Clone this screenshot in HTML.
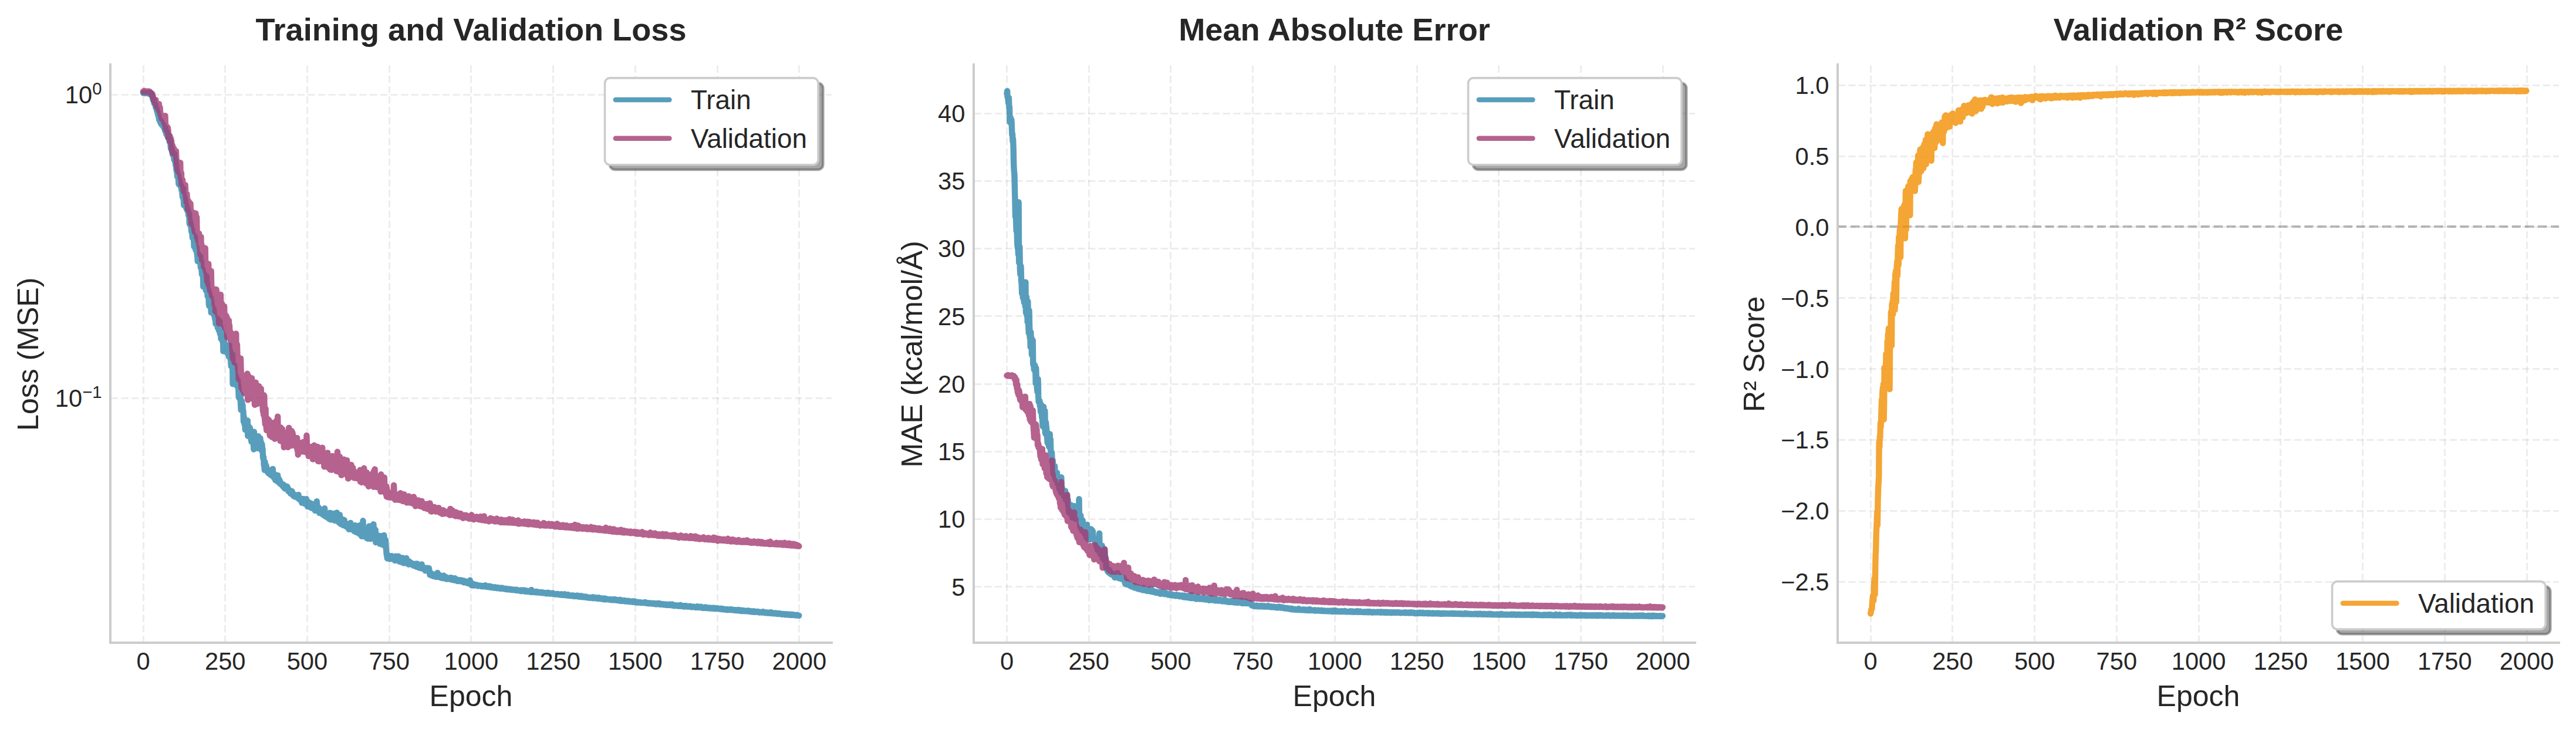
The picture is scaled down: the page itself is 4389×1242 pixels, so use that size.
<!DOCTYPE html>
<html><head><meta charset="utf-8"><title>Training curves</title>
<style>html,body{margin:0;padding:0;background:#fff}svg{display:block}</style></head>
<body>
<svg width="4389" height="1242" viewBox="0 0 4389 1242" font-family='"Liberation Sans", "DejaVu Sans", sans-serif' fill="#262626">
<rect width="4389" height="1242" fill="#ffffff"/>
<g stroke="#b0b0b0" stroke-opacity="0.228" stroke-width="3" stroke-dasharray="12.33 5.33" fill="none">
<path d="M244.50 1095.0V110.0"/>
<path d="M383.50 1095.0V110.0"/>
<path d="M523.50 1095.0V110.0"/>
<path d="M663.50 1095.0V110.0"/>
<path d="M802.50 1095.0V110.0"/>
<path d="M942.50 1095.0V110.0"/>
<path d="M1082.50 1095.0V110.0"/>
<path d="M1222.50 1095.0V110.0"/>
<path d="M1361.50 1095.0V110.0"/>
<path d="M188.70 161.50H1417.00"/>
<path d="M188.70 678.50H1417.00"/>
</g>
<g stroke="#b0b0b0" stroke-opacity="0.228" stroke-width="3" stroke-dasharray="12.33 5.33" fill="none">
<path d="M1715.50 1095.0V110.0"/>
<path d="M1855.50 1095.0V110.0"/>
<path d="M1994.50 1095.0V110.0"/>
<path d="M2134.50 1095.0V110.0"/>
<path d="M2274.50 1095.0V110.0"/>
<path d="M2414.50 1095.0V110.0"/>
<path d="M2553.50 1095.0V110.0"/>
<path d="M2693.50 1095.0V110.0"/>
<path d="M2833.50 1095.0V110.0"/>
<path d="M1659.70 193.50H2888.00"/>
<path d="M1659.70 308.50H2888.00"/>
<path d="M1659.70 423.50H2888.00"/>
<path d="M1659.70 538.50H2888.00"/>
<path d="M1659.70 654.50H2888.00"/>
<path d="M1659.70 769.50H2888.00"/>
<path d="M1659.70 884.50H2888.00"/>
<path d="M1659.70 999.50H2888.00"/>
</g>
<g stroke="#b0b0b0" stroke-opacity="0.228" stroke-width="3" stroke-dasharray="12.33 5.33" fill="none">
<path d="M3187.50 1095.0V110.0"/>
<path d="M3326.50 1095.0V110.0"/>
<path d="M3466.50 1095.0V110.0"/>
<path d="M3606.50 1095.0V110.0"/>
<path d="M3746.50 1095.0V110.0"/>
<path d="M3885.50 1095.0V110.0"/>
<path d="M4025.50 1095.0V110.0"/>
<path d="M4165.50 1095.0V110.0"/>
<path d="M4305.50 1095.0V110.0"/>
<path d="M3131.70 145.50H4360.00"/>
<path d="M3131.70 266.50H4360.00"/>
<path d="M3131.70 386.50H4360.00"/>
<path d="M3131.70 507.50H4360.00"/>
<path d="M3131.70 628.50H4360.00"/>
<path d="M3131.70 749.50H4360.00"/>
<path d="M3131.70 870.50H4360.00"/>
<path d="M3131.70 991.50H4360.00"/>
</g>
<path d="M3131.0 386.0H4360.00" stroke="#767676" stroke-opacity="0.5" stroke-width="4.0" stroke-dasharray="15.42 6.67" fill="none"/>
<polyline points="244.0,158.5 244.6,158.6 245.1,158.5 245.7,158.0 246.3,158.8 246.8,158.7 247.4,158.3 247.9,158.8 248.5,158.7 249.1,158.7 249.6,158.6 250.2,158.9 250.7,158.2 251.3,158.6 251.8,158.4 252.4,159.1 253.0,158.7 253.5,158.5 254.1,158.1 254.6,158.6 255.2,158.8 255.8,158.9 256.3,160.9 256.9,161.4 257.4,158.5 258.0,159.9 258.6,162.3 259.1,162.9 259.7,165.1 260.2,166.7 260.8,170.4 261.3,168.2 261.9,170.6 262.5,175.4 263.0,175.5 263.6,177.4 264.1,177.7 264.7,177.9 265.3,182.3 265.8,184.1 266.4,183.9 266.9,186.6 267.5,189.4 268.1,189.8 268.6,193.1 269.2,195.3 269.7,197.2 270.3,198.1 270.8,202.0 271.4,204.5 272.0,205.4 272.5,204.2 273.1,208.2 273.6,206.6 274.2,210.4 274.8,207.2 275.3,212.3 275.9,211.3 276.4,209.4 277.0,212.4 277.6,214.2 278.1,215.6 278.7,213.6 279.2,214.4 279.8,218.7 280.3,218.1 280.9,221.0 281.5,223.5 282.0,218.3 282.6,224.4 283.1,228.2 283.7,225.2 284.3,225.0 284.8,230.7 285.4,230.7 285.9,234.0 286.5,231.8 287.1,229.8 287.6,235.3 288.2,235.6 288.7,241.3 289.3,242.4 289.8,239.4 290.4,243.5 291.0,252.5 291.5,253.8 292.1,251.3 292.6,255.2 293.2,258.6 293.8,260.5 294.3,263.8 294.9,263.5 295.4,264.2 296.0,265.4 296.6,272.0 297.1,261.9 297.7,272.1 298.2,275.5 298.8,272.8 299.4,282.2 299.9,281.2 300.5,289.9 301.0,288.8 301.6,294.8 302.1,300.8 302.7,301.5 303.3,300.2 303.8,298.8 304.4,313.6 304.9,307.1 305.5,306.0 306.1,310.8 306.6,310.7 307.2,317.1 307.7,315.8 308.3,317.9 308.9,316.9 309.4,324.4 310.0,319.9 310.5,329.8 311.1,336.0 311.6,324.2 312.2,322.0 312.8,338.5 313.3,349.6 313.9,334.8 314.4,335.6 315.0,346.4 315.6,341.5 316.1,345.1 316.7,347.9 317.2,354.3 317.8,351.6 318.4,357.0 318.9,357.0 319.5,355.7 320.0,360.7 320.6,359.6 321.1,366.8 321.7,363.1 322.3,365.5 322.8,381.3 323.4,375.4 323.9,377.8 324.5,384.2 325.1,382.4 325.6,386.7 326.2,393.7 326.7,396.2 327.3,391.3 327.9,405.3 328.4,399.2 329.0,398.5 329.5,401.3 330.1,406.3 330.6,420.1 331.2,405.6 331.8,415.4 332.3,403.7 332.9,418.4 333.4,425.9 334.0,421.0 334.6,420.7 335.1,428.0 335.7,433.0 336.2,434.9 336.8,445.2 337.4,436.2 337.9,433.2 338.5,438.2 339.0,440.7 339.6,443.9 340.2,444.7 340.7,447.7 341.3,437.3 341.8,455.4 342.4,447.7 342.9,446.0 343.5,460.6 344.1,467.7 344.6,464.6 345.2,464.8 345.7,459.8 346.3,488.4 346.9,477.2 347.4,465.6 348.0,470.2 348.5,478.4 349.1,468.8 349.7,483.1 350.2,480.7 350.8,494.8 351.3,495.0 351.9,470.6 352.4,492.6 353.0,482.6 353.6,504.5 354.1,499.6 354.7,504.4 355.2,494.6 355.8,517.9 356.4,521.3 356.9,500.6 357.5,513.3 358.0,507.5 358.6,514.4 359.2,507.1 359.7,532.6 360.3,513.6 360.8,520.9 361.4,529.1 361.9,522.7 362.5,528.0 363.1,527.7 363.6,533.2 364.2,527.5 364.7,535.3 365.3,538.9 365.9,539.3 366.4,543.7 367.0,542.4 367.5,551.9 368.1,544.9 368.7,547.8 369.2,545.1 369.8,547.5 370.3,543.1 370.9,558.5 371.4,546.8 372.0,551.3 372.6,561.5 373.1,563.2 373.7,558.2 374.2,547.2 374.8,568.5 375.4,569.1 375.9,557.7 376.5,577.1 377.0,567.2 377.6,565.7 378.2,577.4 378.7,577.1 379.3,582.1 379.8,569.4 380.4,598.5 381.0,579.9 381.5,573.4 382.1,592.1 382.6,585.2 383.2,591.9 383.7,587.5 384.3,591.0 384.9,594.6 385.4,587.4 386.0,600.4 386.5,591.9 387.1,589.6 387.7,598.7 388.2,602.9 388.8,598.3 389.3,594.0 389.9,607.7 390.5,588.6 391.0,596.5 391.6,607.8 392.1,598.0 392.7,612.1 393.2,613.6 393.8,624.0 394.4,610.6 394.9,615.3 395.5,625.8 396.0,603.9 396.6,654.2 397.2,623.3 397.7,625.1 398.3,641.1 398.8,635.3 399.4,622.1 400.0,645.3 400.5,649.4 401.1,640.0 401.6,643.6 402.2,652.4 402.7,642.6 403.3,656.8 403.9,657.1 404.4,651.9 405.0,648.1 405.5,660.6 406.1,657.4 406.7,676.0 407.2,671.0 407.8,678.7 408.3,675.4 408.9,678.7 409.5,672.0 410.0,686.7 410.6,698.4 411.1,682.8 411.7,682.6 412.2,688.6 412.8,688.3 413.4,689.9 413.9,700.5 414.5,700.4 415.0,718.5 415.6,709.9 416.2,716.1 416.7,723.7 417.3,715.4 417.8,732.2 418.4,717.1 419.0,717.9 419.5,723.1 420.1,726.2 420.6,716.5 421.2,728.9 421.8,716.4 422.3,742.7 422.9,731.5 423.4,727.9 424.0,726.7 424.5,732.1 425.1,734.4 425.7,728.7 426.2,730.8 426.8,738.1 427.3,736.7 427.9,749.8 428.5,752.7 429.0,744.9 429.6,750.0 430.1,736.7 430.7,753.9 431.3,749.8 431.8,755.2 432.4,765.5 432.9,735.7 433.5,756.3 434.0,745.8 434.6,759.6 435.2,744.8 435.7,751.7 436.3,757.5 436.8,761.1 437.4,757.2 438.0,750.7 438.5,752.8 439.1,763.9 439.6,756.7 440.2,743.3 440.8,762.8 441.3,759.3 441.9,762.6 442.4,753.0 443.0,761.8 443.5,746.9 444.1,760.0 444.7,753.3 445.2,763.8 445.8,767.5 446.3,756.7 446.9,763.0 447.5,765.1 448.0,778.4 448.6,782.3 449.1,779.2 449.7,792.5 450.3,794.5 450.8,800.8 451.4,786.9 451.9,792.3 452.5,799.6 453.0,792.4 453.6,794.0 454.2,801.0 454.7,802.8 455.3,798.9 455.8,803.2 456.4,803.0 457.0,805.8 457.5,803.9 458.1,806.0 458.6,801.2 459.2,804.7 459.8,805.4 460.3,808.4 460.9,808.1 461.4,804.5 462.0,809.3 462.5,810.0 463.1,808.8 463.7,808.8 464.2,809.6 464.8,799.0 465.3,811.8 465.9,812.4 466.5,809.0 467.0,814.3 467.6,808.0 468.1,811.9 468.7,812.8 469.3,818.3 469.8,809.3 470.4,817.2 470.9,818.3 471.5,818.0 472.1,819.7 472.6,814.4 473.2,809.8 473.7,820.6 474.3,815.2 474.8,819.2 475.4,816.3 476.0,823.1 476.5,823.4 477.1,819.7 477.6,824.4 478.2,823.8 478.8,823.2 479.3,824.7 479.9,824.4 480.4,826.6 481.0,826.6 481.6,825.3 482.1,828.7 482.7,825.4 483.2,828.6 483.8,829.3 484.3,831.3 484.9,827.7 485.5,832.6 486.0,830.8 486.6,830.2 487.1,828.9 487.7,832.8 488.3,832.4 488.8,828.6 489.4,829.0 489.9,831.7 490.5,831.7 491.1,836.2 491.6,837.1 492.2,836.8 492.7,836.6 493.3,834.9 493.8,837.1 494.4,838.7 495.0,840.9 495.5,839.7 496.1,837.8 496.6,839.4 497.2,836.8 497.8,837.4 498.3,840.0 498.9,841.4 499.4,844.1 500.0,842.1 500.6,844.4 501.1,845.5 501.7,843.6 502.2,846.2 502.8,845.4 503.3,843.4 503.9,845.7 504.5,845.8 505.0,845.3 505.6,845.8 506.1,847.2 506.7,848.0 507.3,844.5 507.8,848.2 508.4,843.0 508.9,849.4 509.5,850.4 510.1,850.1 510.6,850.7 511.2,851.6 511.7,848.6 512.3,850.6 512.9,852.7 513.4,853.8 514.0,853.4 514.5,856.9 515.1,853.3 515.6,855.5 516.2,856.3 516.8,854.0 517.3,849.9 517.9,851.1 518.4,856.3 519.0,858.1 519.6,857.3 520.1,857.6 520.7,856.3 521.2,859.0 521.8,850.3 522.4,859.3 522.9,859.3 523.5,854.2 524.0,863.0 524.6,854.7 525.1,856.2 525.7,855.9 526.3,862.6 526.8,857.7 527.4,862.5 527.9,862.7 528.5,862.5 529.1,857.2 529.6,860.3 530.2,865.5 530.7,858.1 531.3,860.3 531.9,863.2 532.4,865.4 533.0,864.8 533.5,865.9 534.1,860.7 534.6,866.8 535.2,866.5 535.8,859.4 536.3,868.6 536.9,870.0 537.4,863.6 538.0,867.2 538.6,869.5 539.1,861.6 539.7,854.1 540.2,862.9 540.8,866.2 541.4,866.6 541.9,870.3 542.5,870.1 543.0,864.9 543.6,871.4 544.1,873.8 544.7,873.1 545.3,873.2 545.8,872.0 546.4,873.9 546.9,868.7 547.5,874.3 548.1,873.1 548.6,875.7 549.2,875.0 549.7,870.0 550.3,875.2 550.9,877.4 551.4,871.0 552.0,873.8 552.5,873.3 553.1,866.1 553.7,878.9 554.2,879.8 554.8,879.4 555.3,878.8 555.9,878.6 556.4,879.6 557.0,876.4 557.6,881.3 558.1,881.8 558.7,881.8 559.2,878.2 559.8,880.9 560.4,880.3 560.9,884.2 561.5,881.8 562.0,873.6 562.6,882.6 563.2,885.3 563.7,883.6 564.3,884.2 564.8,883.0 565.4,874.6 565.9,875.5 566.5,878.2 567.1,883.3 567.6,884.6 568.2,885.5 568.7,883.1 569.3,886.4 569.9,883.0 570.4,882.3 571.0,887.0 571.5,881.8 572.1,874.2 572.7,881.7 573.2,886.7 573.8,873.4 574.3,885.4 574.9,885.8 575.4,881.3 576.0,881.3 576.6,884.5 577.1,885.8 577.7,890.5 578.2,889.3 578.8,877.2 579.4,885.4 579.9,890.6 580.5,892.8 581.0,890.5 581.6,890.6 582.2,893.4 582.7,890.5 583.3,889.5 583.8,884.9 584.4,889.1 584.9,895.1 585.5,885.6 586.1,892.1 586.6,886.3 587.2,893.0 587.7,894.6 588.3,892.4 588.9,895.0 589.4,895.4 590.0,895.3 590.5,897.7 591.1,896.5 591.7,894.3 592.2,893.0 592.8,892.6 593.3,897.4 593.9,895.6 594.5,901.8 595.0,900.7 595.6,897.1 596.1,897.0 596.7,901.5 597.2,890.9 597.8,897.5 598.4,901.4 598.9,896.2 599.5,898.4 600.0,899.3 600.6,902.3 601.2,901.8 601.7,902.7 602.3,903.4 602.8,902.7 603.4,904.9 604.0,899.7 604.5,896.6 605.1,895.1 605.6,896.0 606.2,901.6 606.7,906.6 607.3,905.3 607.9,899.9 608.4,899.9 609.0,903.0 609.5,903.9 610.1,903.3 610.7,898.7 611.2,904.2 611.8,909.4 612.3,895.1 612.9,906.4 613.5,895.7 614.0,908.7 614.6,904.2 615.1,896.4 615.7,909.4 616.2,913.7 616.8,910.0 617.4,912.8 617.9,909.8 618.5,887.3 619.0,912.1 619.6,908.4 620.2,901.9 620.7,913.6 621.3,912.6 621.8,908.7 622.4,914.6 623.0,906.9 623.5,914.5 624.1,906.9 624.6,914.6 625.2,906.2 625.7,917.4 626.3,914.5 626.9,917.7 627.4,908.8 628.0,911.3 628.5,916.8 629.1,896.4 629.7,907.9 630.2,917.9 630.8,916.6 631.3,918.1 631.9,913.7 632.5,917.5 633.0,911.3 633.6,907.1 634.1,905.1 634.7,913.0 635.2,913.2 635.8,912.9 636.4,893.1 636.9,903.9 637.5,914.1 638.0,918.7 638.6,914.2 639.2,912.3 639.7,902.6 640.3,924.1 640.8,911.3 641.4,923.6 642.0,923.5 642.5,920.3 643.1,915.7 643.6,920.3 644.2,912.2 644.8,921.3 645.3,921.0 645.9,922.7 646.4,924.1 647.0,926.5 647.5,919.5 648.1,925.3 648.7,913.3 649.2,916.8 649.8,919.1 650.3,916.8 650.9,926.8 651.5,926.9 652.0,928.2 652.6,924.8 653.1,926.1 653.7,921.5 654.3,911.9 654.8,927.6 655.4,927.4 655.9,918.9 656.5,930.5 657.0,920.5 657.6,933.4 658.2,937.6 658.7,944.8 659.3,946.0 659.8,951.3 660.4,950.8 661.0,951.7 661.5,950.5 662.1,946.4 662.6,948.6 663.2,947.0 663.8,951.4 664.3,952.5 664.9,951.5 665.4,949.4 666.0,950.2 666.5,951.8 667.1,947.1 667.7,952.0 668.2,952.2 668.8,950.3 669.3,950.9 669.9,952.5 670.5,949.9 671.0,950.0 671.6,953.6 672.1,953.1 672.7,955.0 673.3,950.0 673.8,947.7 674.4,954.5 674.9,954.6 675.5,951.3 676.0,949.2 676.6,953.7 677.2,948.7 677.7,953.1 678.3,947.7 678.8,953.7 679.4,948.2 680.0,953.5 680.5,956.7 681.1,954.3 681.6,956.2 682.2,952.1 682.8,952.9 683.3,951.3 683.9,957.2 684.4,955.9 685.0,958.2 685.6,950.4 686.1,955.4 686.7,956.9 687.2,958.6 687.8,959.2 688.3,955.3 688.9,954.1 689.5,952.5 690.0,959.3 690.6,957.6 691.1,956.2 691.7,958.1 692.3,950.9 692.8,953.5 693.4,959.8 693.9,959.4 694.5,959.3 695.1,956.3 695.6,960.1 696.2,961.6 696.7,956.2 697.3,959.9 697.8,957.9 698.4,960.8 699.0,960.5 699.5,960.3 700.1,958.4 700.6,961.1 701.2,959.5 701.8,961.1 702.3,961.5 702.9,962.7 703.4,960.4 704.0,961.4 704.6,963.7 705.1,962.1 705.7,962.2 706.2,964.1 706.8,963.7 707.3,963.7 707.9,964.0 708.5,960.4 709.0,964.7 709.6,965.8 710.1,965.2 710.7,960.4 711.3,965.3 711.8,962.6 712.4,964.7 712.9,965.7 713.5,962.4 714.1,967.4 714.6,965.9 715.2,967.2 715.7,967.2 716.3,968.1 716.8,968.1 717.4,962.9 718.0,967.1 718.5,961.4 719.1,966.1 719.6,968.2 720.2,968.5 720.8,969.0 721.3,966.8 721.9,968.3 722.4,968.2 723.0,969.5 723.6,970.0 724.1,967.5 724.7,972.4 725.2,968.7 725.8,967.8 726.4,969.6 726.9,969.9 727.5,969.8 728.0,967.6 728.6,970.9 729.1,969.7 729.7,971.3 730.3,971.2 730.8,968.2 731.4,971.6 731.9,974.3 732.5,979.4 733.1,979.3 733.6,979.5 734.2,977.9 734.7,979.8 735.3,980.5 735.9,977.4 736.4,979.5 737.0,980.2 737.5,979.9 738.1,979.9 738.6,981.6 739.2,981.4 739.8,981.2 740.3,979.5 740.9,982.4 741.4,981.3 742.0,979.5 742.6,980.8 743.1,980.6 743.7,983.0 744.2,981.9 744.8,981.9 745.4,975.9 745.9,982.6 746.5,980.5 747.0,980.5 747.6,982.9 748.1,981.3 748.7,983.3 749.3,983.7 749.8,980.1 750.4,983.0 750.9,980.8 751.5,983.4 752.1,984.2 752.6,981.5 753.2,985.0 753.7,983.1 754.3,982.2 754.9,984.1 755.4,984.9 756.0,980.7 756.5,984.6 757.1,982.5 757.6,985.5 758.2,985.0 758.8,983.8 759.3,985.8 759.9,983.2 760.4,984.7 761.0,986.6 761.6,985.4 762.1,986.5 762.7,985.9 763.2,984.8 763.8,985.6 764.4,986.2 764.9,985.6 765.5,985.0 766.0,985.2 766.6,984.3 767.2,986.7 767.7,987.0 768.3,987.3 768.8,984.2 769.4,987.5 769.9,987.1 770.5,985.1 771.1,987.5 771.6,988.0 772.2,987.9 772.7,988.1 773.3,988.4 773.9,988.5 774.4,988.0 775.0,985.1 775.5,986.3 776.1,988.6 776.7,987.8 777.2,989.0 777.8,989.2 778.3,988.9 778.9,990.0 779.4,987.6 780.0,989.7 780.6,988.6 781.1,988.2 781.7,989.8 782.2,988.7 782.8,990.2 783.4,988.1 783.9,989.9 784.5,988.8 785.0,989.8 785.6,989.7 786.2,988.8 786.7,990.8 787.3,988.8 787.8,989.3 788.4,991.2 788.9,991.4 789.5,991.3 790.1,991.3 790.6,992.4 791.2,989.7 791.7,990.4 792.3,990.2 792.9,992.1 793.4,992.0 794.0,992.5 794.5,992.6 795.1,991.9 795.7,991.3 796.2,991.2 796.8,993.8 797.3,993.3 797.9,993.3 798.4,992.4 799.0,993.0 799.6,993.0 800.1,993.2 800.7,988.7 801.2,994.5 801.8,994.7 802.4,996.0 802.9,996.6 803.5,997.0 804.0,996.7 804.6,997.1 805.2,994.2 805.7,995.8 806.3,997.5 806.8,995.8 807.4,996.8 808.0,997.3 808.5,996.4 809.1,997.4 809.6,996.1 810.2,995.9 810.7,996.4 811.3,996.2 811.9,997.4 812.4,997.3 813.0,997.7 813.5,996.9 814.1,998.4 814.7,997.7 815.2,997.8 815.8,998.1 816.3,997.8 816.9,997.6 817.5,998.2 818.0,998.4 818.6,998.4 819.1,998.6 819.7,998.0 820.2,997.9 820.8,999.1 821.4,998.4 821.9,998.8 822.5,998.9 823.0,999.2 823.6,997.9 824.2,998.6 824.7,998.7 825.3,998.8 825.8,997.4 826.4,999.1 827.0,997.2 827.5,999.4 828.1,999.5 828.6,999.6 829.2,998.7 829.7,999.9 830.3,998.6 830.9,998.9 831.4,999.1 832.0,999.3 832.5,1000.0 833.1,1000.2 833.7,998.6 834.2,999.7 834.8,1000.4 835.3,1000.3 835.9,1000.5 836.5,999.3 837.0,1000.7 837.6,999.4 838.1,1000.7 838.7,1001.0 839.2,1001.2 839.8,1000.9 840.4,1001.1 840.9,1000.5 841.5,1000.7 842.0,1001.4 842.6,1001.1 843.2,1001.1 843.7,1000.3 844.3,1001.4 844.8,1001.6 845.4,1000.9 846.0,1001.2 846.5,1002.0 847.1,1001.7 847.6,1001.4 848.2,1001.0 848.7,1001.4 849.3,1001.6 849.9,1002.4 850.4,1001.7 851.0,1002.6 851.5,1001.6 852.1,1002.0 852.7,1002.6 853.2,1002.2 853.8,1001.9 854.3,1002.5 854.9,1002.7 855.5,1001.5 856.0,1002.6 856.6,1002.7 857.1,1002.6 857.7,1003.1 858.3,1002.6 858.8,1002.8 859.4,1003.2 859.9,1003.4 860.5,1003.1 861.0,1003.7 861.6,1002.8 862.2,1003.8 862.7,1003.0 863.3,1003.5 863.8,1003.8 864.4,1004.3 865.0,1004.0 865.5,1003.6 866.1,1004.3 866.6,1003.8 867.2,1003.5 867.8,1004.3 868.3,1004.2 868.9,1004.5 869.4,1004.0 870.0,1004.5 870.5,1004.6 871.1,1004.6 871.7,1004.6 872.2,1004.2 872.8,1005.0 873.3,1004.8 873.9,1005.0 874.5,1004.7 875.0,1005.0 875.6,1004.4 876.1,1005.2 876.7,1005.4 877.3,1005.3 877.8,1005.6 878.4,1005.5 878.9,1005.8 879.5,1005.4 880.0,1004.5 880.6,1005.8 881.2,1005.6 881.7,1005.2 882.3,1006.0 882.8,1006.0 883.4,1006.1 884.0,1005.9 884.5,1006.2 885.1,1006.3 885.6,1006.7 886.2,1005.9 886.8,1006.4 887.3,1006.6 887.9,1005.4 888.4,1005.5 889.0,1007.2 889.5,1005.6 890.1,1006.9 890.7,1005.9 891.2,1006.4 891.8,1005.6 892.3,1006.4 892.9,1007.2 893.5,1005.5 894.0,1007.3 894.6,1007.3 895.1,1007.8 895.7,1007.0 896.3,1007.7 896.8,1007.6 897.4,1007.3 897.9,1006.4 898.5,1007.9 899.1,1006.7 899.6,1007.4 900.2,1007.9 900.7,1008.0 901.3,1007.3 901.8,1007.9 902.4,1007.8 903.0,1008.3 903.5,1008.7 904.1,1006.9 904.6,1008.4 905.2,1005.0 905.8,1008.2 906.3,1007.6 906.9,1008.8 907.4,1008.4 908.0,1008.0 908.6,1008.2 909.1,1008.2 909.7,1008.6 910.2,1008.6 910.8,1008.9 911.3,1009.1 911.9,1009.0 912.5,1008.1 913.0,1007.9 913.6,1008.5 914.1,1009.3 914.7,1008.9 915.3,1008.7 915.8,1009.2 916.4,1008.3 916.9,1008.5 917.5,1009.5 918.1,1009.2 918.6,1009.1 919.2,1009.6 919.7,1009.2 920.3,1009.2 920.8,1009.1 921.4,1009.8 922.0,1009.8 922.5,1009.0 923.1,1009.7 923.6,1010.1 924.2,1010.4 924.8,1009.3 925.3,1010.1 925.9,1009.9 926.4,1010.4 927.0,1010.3 927.6,1010.6 928.1,1010.4 928.7,1010.0 929.2,1010.1 929.8,1010.6 930.3,1010.6 930.9,1011.2 931.5,1011.0 932.0,1009.9 932.6,1010.8 933.1,1010.0 933.7,1009.8 934.3,1011.1 934.8,1011.1 935.4,1010.3 935.9,1011.4 936.5,1010.5 937.1,1010.4 937.6,1011.4 938.2,1011.3 938.7,1011.2 939.3,1011.3 939.9,1011.5 940.4,1011.4 941.0,1011.4 941.5,1010.4 942.1,1010.8 942.6,1011.8 943.2,1011.3 943.8,1011.9 944.3,1012.1 944.9,1011.7 945.4,1012.0 946.0,1012.5 946.6,1012.3 947.1,1012.6 947.7,1012.6 948.2,1012.4 948.8,1012.3 949.4,1011.9 949.9,1011.8 950.5,1012.6 951.0,1012.7 951.6,1012.4 952.1,1012.9 952.7,1012.4 953.3,1013.1 953.8,1012.9 954.4,1012.9 954.9,1013.0 955.5,1012.9 956.1,1013.7 956.6,1012.2 957.2,1013.2 957.7,1013.6 958.3,1013.5 958.9,1013.2 959.4,1013.8 960.0,1012.8 960.5,1012.8 961.1,1013.7 961.6,1012.8 962.2,1012.3 962.8,1014.0 963.3,1014.0 963.9,1014.1 964.4,1013.7 965.0,1014.1 965.6,1013.5 966.1,1014.5 966.7,1014.4 967.2,1014.4 967.8,1013.1 968.4,1014.6 968.9,1014.8 969.5,1014.8 970.0,1014.7 970.6,1014.6 971.1,1014.5 971.7,1014.9 972.3,1014.9 972.8,1014.9 973.4,1014.7 973.9,1015.3 974.5,1014.3 975.1,1015.1 975.6,1014.8 976.2,1015.4 976.7,1015.6 977.3,1015.6 977.9,1015.5 978.4,1014.6 979.0,1016.0 979.5,1015.7 980.1,1015.5 980.7,1015.7 981.2,1015.5 981.8,1015.9 982.3,1015.9 982.9,1015.7 983.4,1014.4 984.0,1016.0 984.6,1016.2 985.1,1016.2 985.7,1016.1 986.2,1016.3 986.8,1016.5 987.4,1016.1 987.9,1016.8 988.5,1015.3 989.0,1015.8 989.6,1016.1 990.2,1015.2 990.7,1016.1 991.3,1017.1 991.8,1017.1 992.4,1016.9 992.9,1017.3 993.5,1017.1 994.1,1016.8 994.6,1017.2 995.2,1017.0 995.7,1017.4 996.3,1016.4 996.9,1017.6 997.4,1017.2 998.0,1017.7 998.5,1016.6 999.1,1017.4 999.7,1017.7 1000.2,1017.9 1000.8,1017.1 1001.3,1018.2 1001.9,1018.0 1002.4,1017.6 1003.0,1018.3 1003.6,1018.1 1004.1,1018.4 1004.7,1018.7 1005.2,1018.4 1005.8,1018.0 1006.4,1018.1 1006.9,1018.5 1007.5,1018.5 1008.0,1018.0 1008.6,1018.2 1009.2,1018.8 1009.7,1019.2 1010.3,1017.2 1010.8,1018.9 1011.4,1018.7 1011.9,1019.1 1012.5,1019.1 1013.1,1019.0 1013.6,1018.5 1014.2,1018.3 1014.7,1018.1 1015.3,1019.5 1015.9,1019.2 1016.4,1018.8 1017.0,1019.2 1017.5,1018.7 1018.1,1019.6 1018.7,1019.8 1019.2,1019.9 1019.8,1018.1 1020.3,1020.0 1020.9,1019.3 1021.4,1018.7 1022.0,1019.2 1022.6,1019.4 1023.1,1020.0 1023.7,1019.4 1024.2,1019.2 1024.8,1020.0 1025.4,1020.6 1025.9,1019.9 1026.5,1020.4 1027.0,1020.4 1027.6,1021.0 1028.2,1019.4 1028.7,1020.8 1029.3,1019.8 1029.8,1020.3 1030.4,1020.6 1031.0,1021.5 1031.5,1020.4 1032.1,1019.8 1032.6,1021.2 1033.2,1020.5 1033.7,1020.9 1034.3,1021.1 1034.9,1021.2 1035.4,1021.1 1036.0,1021.3 1036.5,1021.4 1037.1,1021.5 1037.7,1021.2 1038.2,1021.0 1038.8,1020.9 1039.3,1021.7 1039.9,1021.6 1040.5,1021.8 1041.0,1021.9 1041.6,1022.2 1042.1,1021.9 1042.7,1022.1 1043.2,1021.3 1043.8,1021.4 1044.4,1021.9 1044.9,1021.4 1045.5,1022.3 1046.0,1021.5 1046.6,1022.3 1047.2,1020.9 1047.7,1021.8 1048.3,1022.3 1048.8,1022.4 1049.4,1021.5 1050.0,1022.6 1050.5,1022.9 1051.1,1022.9 1051.6,1022.4 1052.2,1022.5 1052.7,1022.2 1053.3,1023.1 1053.9,1023.3 1054.4,1022.8 1055.0,1022.1 1055.5,1023.2 1056.1,1023.4 1056.7,1021.7 1057.2,1023.4 1057.8,1023.9 1058.3,1023.6 1058.9,1023.6 1059.5,1023.6 1060.0,1023.8 1060.6,1023.1 1061.1,1023.2 1061.7,1023.9 1062.2,1023.4 1062.8,1023.9 1063.4,1022.8 1063.9,1024.2 1064.5,1024.2 1065.0,1024.1 1065.6,1024.2 1066.2,1024.6 1066.7,1023.6 1067.3,1023.8 1067.8,1023.7 1068.4,1024.2 1069.0,1023.9 1069.5,1024.6 1070.1,1024.2 1070.6,1023.8 1071.2,1023.8 1071.8,1025.0 1072.3,1024.8 1072.9,1024.7 1073.4,1024.9 1074.0,1024.9 1074.5,1025.2 1075.1,1025.2 1075.7,1024.6 1076.2,1024.7 1076.8,1024.6 1077.3,1024.6 1077.9,1025.7 1078.5,1024.9 1079.0,1024.3 1079.6,1025.0 1080.1,1024.8 1080.7,1025.7 1081.3,1024.8 1081.8,1025.9 1082.4,1025.9 1082.9,1026.1 1083.5,1026.4 1084.0,1026.6 1084.6,1026.3 1085.2,1025.4 1085.7,1025.9 1086.3,1026.2 1086.8,1026.6 1087.4,1026.4 1088.0,1026.6 1088.5,1026.2 1089.1,1026.5 1089.6,1026.6 1090.2,1026.2 1090.8,1026.7 1091.3,1026.8 1091.9,1026.5 1092.4,1026.9 1093.0,1027.1 1093.5,1026.8 1094.1,1026.8 1094.7,1026.6 1095.2,1026.6 1095.8,1027.0 1096.3,1026.8 1096.9,1026.9 1097.5,1026.7 1098.0,1026.3 1098.6,1026.7 1099.1,1027.3 1099.7,1026.1 1100.3,1027.0 1100.8,1027.8 1101.4,1027.7 1101.9,1027.1 1102.5,1027.7 1103.0,1027.2 1103.6,1028.0 1104.2,1027.4 1104.7,1027.8 1105.3,1028.1 1105.8,1027.4 1106.4,1028.2 1107.0,1027.5 1107.5,1028.0 1108.1,1027.9 1108.6,1028.0 1109.2,1028.2 1109.8,1028.1 1110.3,1027.6 1110.9,1028.5 1111.4,1028.5 1112.0,1028.6 1112.6,1028.7 1113.1,1027.7 1113.7,1028.8 1114.2,1028.8 1114.8,1028.3 1115.3,1028.9 1115.9,1029.0 1116.5,1028.2 1117.0,1028.0 1117.6,1028.6 1118.1,1029.5 1118.7,1029.0 1119.3,1028.3 1119.8,1028.9 1120.4,1028.5 1120.9,1028.9 1121.5,1029.2 1122.1,1027.7 1122.6,1029.4 1123.2,1029.6 1123.7,1029.3 1124.3,1029.0 1124.8,1029.7 1125.4,1028.8 1126.0,1028.8 1126.5,1028.8 1127.1,1029.6 1127.6,1029.8 1128.2,1029.7 1128.8,1029.9 1129.3,1030.0 1129.9,1030.0 1130.4,1029.5 1131.0,1029.9 1131.6,1030.3 1132.1,1029.5 1132.7,1030.0 1133.2,1030.0 1133.8,1030.1 1134.3,1029.7 1134.9,1029.6 1135.5,1031.0 1136.0,1030.6 1136.6,1030.1 1137.1,1030.5 1137.7,1030.7 1138.3,1030.4 1138.8,1030.8 1139.4,1030.4 1139.9,1030.6 1140.5,1030.8 1141.1,1030.6 1141.6,1029.5 1142.2,1031.0 1142.7,1031.1 1143.3,1031.2 1143.8,1030.5 1144.4,1031.2 1145.0,1031.3 1145.5,1029.5 1146.1,1030.0 1146.6,1031.5 1147.2,1030.9 1147.8,1031.7 1148.3,1032.0 1148.9,1031.2 1149.4,1031.2 1150.0,1031.6 1150.6,1031.8 1151.1,1031.1 1151.7,1032.1 1152.2,1032.1 1152.8,1032.0 1153.4,1031.6 1153.9,1032.2 1154.5,1032.2 1155.0,1031.4 1155.6,1032.6 1156.1,1032.0 1156.7,1032.3 1157.3,1032.0 1157.8,1032.4 1158.4,1032.6 1158.9,1031.9 1159.5,1030.8 1160.1,1032.2 1160.6,1031.8 1161.2,1032.1 1161.7,1032.5 1162.3,1032.6 1162.9,1033.0 1163.4,1032.1 1164.0,1032.9 1164.5,1032.3 1165.1,1033.2 1165.6,1033.5 1166.2,1033.0 1166.8,1033.4 1167.3,1032.7 1167.9,1032.1 1168.4,1032.4 1169.0,1032.2 1169.6,1032.6 1170.1,1033.0 1170.7,1033.5 1171.2,1033.5 1171.8,1033.5 1172.4,1033.2 1172.9,1033.0 1173.5,1033.5 1174.0,1033.6 1174.6,1033.6 1175.1,1033.7 1175.7,1033.6 1176.3,1032.6 1176.8,1033.1 1177.4,1033.3 1177.9,1034.2 1178.5,1033.6 1179.1,1034.0 1179.6,1034.3 1180.2,1034.0 1180.7,1033.8 1181.3,1033.9 1181.9,1033.5 1182.4,1034.2 1183.0,1034.4 1183.5,1034.3 1184.1,1034.4 1184.6,1034.5 1185.2,1034.8 1185.8,1034.0 1186.3,1034.5 1186.9,1034.6 1187.4,1034.8 1188.0,1033.1 1188.6,1034.3 1189.1,1034.5 1189.7,1034.1 1190.2,1034.9 1190.8,1034.8 1191.4,1034.6 1191.9,1033.9 1192.5,1034.1 1193.0,1034.4 1193.6,1035.1 1194.1,1034.3 1194.7,1033.8 1195.3,1034.2 1195.8,1034.8 1196.4,1035.5 1196.9,1035.8 1197.5,1035.0 1198.1,1035.5 1198.6,1035.6 1199.2,1035.7 1199.7,1035.4 1200.3,1034.7 1200.9,1035.2 1201.4,1034.5 1202.0,1035.6 1202.5,1035.8 1203.1,1034.6 1203.7,1035.7 1204.2,1035.8 1204.8,1036.1 1205.3,1036.1 1205.9,1036.1 1206.4,1035.5 1207.0,1035.7 1207.6,1036.3 1208.1,1035.7 1208.7,1036.1 1209.2,1036.5 1209.8,1036.2 1210.4,1035.4 1210.9,1036.1 1211.5,1036.4 1212.0,1036.2 1212.6,1036.6 1213.2,1036.7 1213.7,1036.1 1214.3,1036.2 1214.8,1036.5 1215.4,1035.4 1215.9,1036.7 1216.5,1036.6 1217.1,1036.9 1217.6,1036.4 1218.2,1036.3 1218.7,1037.2 1219.3,1036.0 1219.9,1036.6 1220.4,1036.5 1221.0,1036.7 1221.5,1036.5 1222.1,1037.1 1222.7,1036.4 1223.2,1036.8 1223.8,1037.3 1224.3,1037.4 1224.9,1037.4 1225.4,1036.9 1226.0,1037.5 1226.6,1037.4 1227.1,1037.4 1227.7,1036.6 1228.2,1037.7 1228.8,1037.6 1229.4,1038.1 1229.9,1037.9 1230.5,1037.1 1231.0,1037.0 1231.6,1038.1 1232.2,1037.4 1232.7,1038.1 1233.3,1037.8 1233.8,1038.5 1234.4,1038.1 1234.9,1038.5 1235.5,1038.5 1236.1,1038.0 1236.6,1038.1 1237.2,1038.7 1237.7,1038.4 1238.3,1037.9 1238.9,1038.7 1239.4,1039.1 1240.0,1038.6 1240.5,1038.9 1241.1,1038.6 1241.7,1039.0 1242.2,1038.6 1242.8,1039.1 1243.3,1039.0 1243.9,1038.8 1244.5,1039.0 1245.0,1038.7 1245.6,1038.0 1246.1,1038.5 1246.7,1039.1 1247.2,1038.6 1247.8,1039.3 1248.4,1039.4 1248.9,1039.4 1249.5,1039.1 1250.0,1039.4 1250.6,1039.5 1251.2,1039.8 1251.7,1039.1 1252.3,1039.4 1252.8,1039.5 1253.4,1039.6 1254.0,1039.3 1254.5,1039.4 1255.1,1040.1 1255.6,1039.5 1256.2,1040.1 1256.7,1040.4 1257.3,1040.3 1257.9,1039.0 1258.4,1040.3 1259.0,1040.3 1259.5,1040.3 1260.1,1039.3 1260.7,1040.5 1261.2,1039.7 1261.8,1040.7 1262.3,1040.7 1262.9,1041.0 1263.5,1040.3 1264.0,1039.7 1264.6,1040.9 1265.1,1040.9 1265.7,1040.5 1266.2,1041.1 1266.8,1041.0 1267.4,1040.1 1267.9,1040.7 1268.5,1040.7 1269.0,1040.9 1269.6,1041.1 1270.2,1040.7 1270.7,1041.0 1271.3,1041.3 1271.8,1041.2 1272.4,1041.0 1273.0,1041.2 1273.5,1041.3 1274.1,1040.3 1274.6,1041.5 1275.2,1040.9 1275.7,1041.6 1276.3,1040.8 1276.9,1041.8 1277.4,1041.7 1278.0,1041.0 1278.5,1041.8 1279.1,1041.4 1279.7,1042.3 1280.2,1042.0 1280.8,1041.5 1281.3,1042.1 1281.9,1042.0 1282.5,1042.4 1283.0,1042.2 1283.6,1042.3 1284.1,1041.2 1284.7,1042.5 1285.3,1042.8 1285.8,1042.5 1286.4,1042.4 1286.9,1042.5 1287.5,1042.0 1288.0,1042.6 1288.6,1042.0 1289.2,1042.7 1289.7,1042.5 1290.3,1042.0 1290.8,1042.9 1291.4,1042.0 1292.0,1042.9 1292.5,1042.2 1293.1,1043.4 1293.6,1043.5 1294.2,1043.3 1294.8,1043.5 1295.3,1043.3 1295.9,1043.3 1296.4,1043.0 1297.0,1042.8 1297.5,1043.4 1298.1,1043.1 1298.7,1043.2 1299.2,1043.6 1299.8,1043.5 1300.3,1042.1 1300.9,1043.5 1301.5,1043.3 1302.0,1043.6 1302.6,1043.1 1303.1,1044.1 1303.7,1044.3 1304.3,1043.3 1304.8,1044.1 1305.4,1044.1 1305.9,1043.4 1306.5,1044.1 1307.0,1044.4 1307.6,1044.4 1308.2,1044.6 1308.7,1043.6 1309.3,1043.9 1309.8,1044.4 1310.4,1044.5 1311.0,1044.5 1311.5,1044.3 1312.1,1044.3 1312.6,1044.3 1313.2,1044.7 1313.8,1043.1 1314.3,1045.1 1314.9,1044.5 1315.4,1044.0 1316.0,1045.0 1316.5,1044.1 1317.1,1045.0 1317.7,1044.8 1318.2,1045.2 1318.8,1045.3 1319.3,1045.4 1319.9,1044.7 1320.5,1045.1 1321.0,1045.3 1321.6,1044.5 1322.1,1045.5 1322.7,1045.4 1323.3,1044.7 1323.8,1045.8 1324.4,1045.9 1324.9,1044.9 1325.5,1045.8 1326.1,1046.0 1326.6,1045.9 1327.2,1045.2 1327.7,1045.0 1328.3,1045.8 1328.8,1045.7 1329.4,1046.0 1330.0,1046.0 1330.5,1046.2 1331.1,1045.8 1331.6,1046.1 1332.2,1046.9 1332.8,1046.2 1333.3,1046.5 1333.9,1046.4 1334.4,1046.4 1335.0,1045.9 1335.6,1046.6 1336.1,1046.5 1336.7,1046.8 1337.2,1047.1 1337.8,1046.7 1338.3,1046.9 1338.9,1046.2 1339.5,1046.8 1340.0,1047.2 1340.6,1046.9 1341.1,1046.6 1341.7,1047.0 1342.3,1046.9 1342.8,1046.9 1343.4,1046.9 1343.9,1047.6 1344.5,1046.7 1345.1,1047.0 1345.6,1047.0 1346.2,1047.6 1346.7,1047.2 1347.3,1047.7 1347.8,1047.5 1348.4,1047.5 1349.0,1046.7 1349.5,1047.9 1350.1,1047.8 1350.6,1047.8 1351.2,1047.7 1351.8,1047.6 1352.3,1047.1 1352.9,1048.1 1353.4,1048.0 1354.0,1047.8 1354.6,1047.7 1355.1,1048.1 1355.7,1048.1 1356.2,1048.6 1356.8,1048.4 1357.3,1047.9 1357.9,1047.7 1358.5,1048.2 1359.0,1047.9 1359.6,1048.5 1360.1,1048.6 1360.7,1048.7 1361.3,1048.7" fill="none" stroke="#2E86AB" stroke-opacity="0.8" stroke-width="10.42" stroke-linejoin="round" stroke-linecap="round"/>
<polyline points="244.0,156.0 244.6,155.7 245.1,155.8 245.7,154.8 246.3,156.3 246.8,156.2 247.4,155.9 247.9,156.2 248.5,156.1 249.1,155.8 249.6,156.3 250.2,156.0 250.7,156.0 251.3,155.7 251.8,156.3 252.4,156.1 253.0,156.4 253.5,155.8 254.1,156.3 254.6,155.8 255.2,157.2 255.8,157.6 256.3,158.3 256.9,159.0 257.4,158.4 258.0,160.5 258.6,162.0 259.1,159.8 259.7,160.8 260.2,162.4 260.8,167.2 261.3,168.0 261.9,170.3 262.5,171.4 263.0,172.4 263.6,173.8 264.1,174.0 264.7,176.4 265.3,170.3 265.8,175.9 266.4,178.5 266.9,181.5 267.5,177.2 268.1,176.8 268.6,179.7 269.2,184.4 269.7,182.8 270.3,186.9 270.8,177.3 271.4,189.2 272.0,190.5 272.5,183.3 273.1,191.8 273.6,195.3 274.2,194.6 274.8,197.8 275.3,202.0 275.9,199.2 276.4,198.4 277.0,197.0 277.6,204.0 278.1,202.8 278.7,204.3 279.2,206.0 279.8,209.4 280.3,203.0 280.9,201.6 281.5,197.3 282.0,217.1 282.6,216.0 283.1,221.1 283.7,218.9 284.3,215.7 284.8,223.9 285.4,224.0 285.9,217.6 286.5,222.1 287.1,235.2 287.6,233.0 288.2,234.8 288.7,233.2 289.3,231.6 289.8,241.1 290.4,239.3 291.0,235.8 291.5,243.5 292.1,240.4 292.6,251.4 293.2,257.1 293.8,247.8 294.3,260.7 294.9,251.6 295.4,259.1 296.0,252.5 296.6,259.1 297.1,262.5 297.7,259.6 298.2,258.5 298.8,261.0 299.4,262.1 299.9,257.4 300.5,272.0 301.0,278.1 301.6,281.5 302.1,282.2 302.7,290.6 303.3,284.3 303.8,280.2 304.4,293.4 304.9,277.7 305.5,294.3 306.1,283.1 306.6,296.6 307.2,277.1 307.7,303.5 308.3,300.9 308.9,294.9 309.4,314.5 310.0,313.3 310.5,312.7 311.1,306.8 311.6,316.8 312.2,316.2 312.8,324.2 313.3,326.5 313.9,317.5 314.4,320.7 315.0,322.8 315.6,315.3 316.1,325.8 316.7,333.5 317.2,339.5 317.8,344.2 318.4,330.7 318.9,345.1 319.5,339.8 320.0,356.9 320.6,348.9 321.1,354.7 321.7,343.4 322.3,347.3 322.8,360.6 323.4,357.4 323.9,366.0 324.5,346.9 325.1,371.7 325.6,359.3 326.2,381.1 326.7,371.2 327.3,382.4 327.9,361.1 328.4,383.4 329.0,371.8 329.5,379.0 330.1,386.9 330.6,384.0 331.2,390.9 331.8,394.8 332.3,395.7 332.9,392.6 333.4,363.5 334.0,385.5 334.6,395.3 335.1,369.9 335.7,404.8 336.2,398.8 336.8,400.0 337.4,410.1 337.9,410.0 338.5,409.3 339.0,397.7 339.6,417.8 340.2,422.0 340.7,411.3 341.3,433.9 341.8,433.5 342.4,403.4 342.9,434.5 343.5,416.8 344.1,443.2 344.6,443.0 345.2,423.8 345.7,428.5 346.3,443.7 346.9,441.2 347.4,454.9 348.0,452.0 348.5,445.2 349.1,454.3 349.7,422.6 350.2,457.4 350.8,463.1 351.3,458.1 351.9,452.5 352.4,469.0 353.0,479.4 353.6,471.8 354.1,456.1 354.7,484.0 355.2,449.5 355.8,483.5 356.4,473.9 356.9,489.8 357.5,473.0 358.0,495.3 358.6,491.0 359.2,464.2 359.7,461.9 360.3,489.1 360.8,503.2 361.4,498.0 361.9,499.2 362.5,496.8 363.1,506.4 363.6,505.9 364.2,507.2 364.7,492.4 365.3,517.2 365.9,520.5 366.4,494.0 367.0,530.6 367.5,523.4 368.1,508.2 368.7,493.3 369.2,529.8 369.8,530.7 370.3,518.8 370.9,500.8 371.4,537.3 372.0,522.1 372.6,525.0 373.1,551.0 373.7,547.7 374.2,541.6 374.8,529.5 375.4,541.9 375.9,501.9 376.5,540.7 377.0,528.7 377.6,521.2 378.2,517.5 378.7,547.7 379.3,546.2 379.8,547.7 380.4,553.1 381.0,535.1 381.5,529.7 382.1,521.9 382.6,546.8 383.2,558.3 383.7,552.2 384.3,559.8 384.9,537.2 385.4,550.5 386.0,547.0 386.5,540.4 387.1,574.6 387.7,569.7 388.2,552.9 388.8,554.3 389.3,567.8 389.9,545.8 390.5,575.5 391.0,554.5 391.6,573.9 392.1,566.4 392.7,579.4 393.2,568.6 393.8,566.9 394.4,578.7 394.9,584.9 395.5,592.9 396.0,599.9 396.6,610.8 397.2,607.5 397.7,599.3 398.3,609.8 398.8,594.5 399.4,617.4 400.0,612.9 400.5,587.1 401.1,617.0 401.6,618.8 402.2,568.5 402.7,603.9 403.3,610.4 403.9,586.9 404.4,603.6 405.0,607.4 405.5,628.8 406.1,629.2 406.7,646.1 407.2,623.9 407.8,639.9 408.3,634.6 408.9,638.2 409.5,620.0 410.0,610.7 410.6,633.7 411.1,654.6 411.7,661.0 412.2,655.8 412.8,656.2 413.4,639.9 413.9,665.1 414.5,665.0 415.0,648.4 415.6,657.8 416.2,642.8 416.7,670.0 417.3,663.9 417.8,660.3 418.4,665.2 419.0,666.1 419.5,657.0 420.1,643.8 420.6,643.7 421.2,636.8 421.8,669.6 422.3,681.4 422.9,639.6 423.4,669.5 424.0,671.9 424.5,653.6 425.1,671.8 425.7,652.7 426.2,679.0 426.8,662.0 427.3,673.0 427.9,677.1 428.5,661.2 429.0,644.1 429.6,665.4 430.1,679.4 430.7,673.7 431.3,677.0 431.8,658.2 432.4,677.4 432.9,681.5 433.5,677.6 434.0,689.7 434.6,674.6 435.2,661.0 435.7,651.6 436.3,685.2 436.8,677.0 437.4,684.3 438.0,680.8 438.5,688.0 439.1,685.8 439.6,671.8 440.2,679.6 440.8,684.6 441.3,657.9 441.9,686.8 442.4,685.4 443.0,683.9 443.5,674.7 444.1,680.3 444.7,662.1 445.2,682.1 445.8,673.9 446.3,685.5 446.9,678.6 447.5,691.7 448.0,700.9 448.6,676.6 449.1,706.9 449.7,673.3 450.3,674.5 450.8,710.8 451.4,716.5 451.9,722.8 452.5,696.1 453.0,722.2 453.6,725.1 454.2,733.0 454.7,724.3 455.3,730.8 455.8,713.5 456.4,726.0 457.0,722.7 457.5,733.9 458.1,715.8 458.6,718.7 459.2,734.7 459.8,741.9 460.3,734.7 460.9,734.8 461.4,728.7 462.0,740.1 462.5,737.6 463.1,744.5 463.7,737.4 464.2,722.8 464.8,728.5 465.3,723.2 465.9,720.1 466.5,744.0 467.0,742.0 467.6,721.7 468.1,747.7 468.7,740.3 469.3,726.8 469.8,741.7 470.4,739.3 470.9,730.6 471.5,716.0 472.1,741.5 472.6,743.1 473.2,709.6 473.7,745.1 474.3,745.7 474.8,737.4 475.4,744.1 476.0,740.5 476.5,734.2 477.1,740.4 477.6,751.2 478.2,728.3 478.8,746.9 479.3,747.1 479.9,738.4 480.4,742.0 481.0,731.3 481.6,738.0 482.1,748.4 482.7,750.0 483.2,738.2 483.8,762.1 484.3,742.2 484.9,749.4 485.5,746.2 486.0,744.3 486.6,754.7 487.1,743.6 487.7,755.0 488.3,754.2 488.8,737.3 489.4,754.0 489.9,742.3 490.5,762.0 491.1,745.9 491.6,739.8 492.2,729.0 492.7,736.4 493.3,744.9 493.8,740.4 494.4,738.1 495.0,744.5 495.5,750.4 496.1,759.4 496.6,733.9 497.2,747.3 497.8,743.0 498.3,736.9 498.9,740.1 499.4,744.5 500.0,758.3 500.6,753.2 501.1,749.6 501.7,758.7 502.2,757.6 502.8,754.4 503.3,759.1 503.9,748.5 504.5,761.2 505.0,761.0 505.6,754.8 506.1,746.1 506.7,767.1 507.3,761.4 507.8,774.7 508.4,754.6 508.9,766.2 509.5,758.1 510.1,764.5 510.6,767.2 511.2,754.8 511.7,763.0 512.3,765.0 512.9,765.0 513.4,767.3 514.0,769.4 514.5,768.8 515.1,766.6 515.6,761.8 516.2,753.2 516.8,757.9 517.3,760.4 517.9,769.5 518.4,762.8 519.0,753.1 519.6,770.0 520.1,758.7 520.7,759.5 521.2,765.9 521.8,770.8 522.4,742.0 522.9,756.9 523.5,770.5 524.0,766.1 524.6,760.8 525.1,764.8 525.7,777.1 526.3,766.4 526.8,774.9 527.4,775.6 527.9,767.5 528.5,774.8 529.1,768.2 529.6,766.6 530.2,761.1 530.7,777.6 531.3,769.7 531.9,768.2 532.4,762.1 533.0,782.5 533.5,778.2 534.1,773.8 534.6,767.8 535.2,758.8 535.8,777.2 536.3,777.4 536.9,760.8 537.4,781.6 538.0,780.2 538.6,766.5 539.1,771.4 539.7,773.2 540.2,779.0 540.8,777.2 541.4,761.1 541.9,785.8 542.5,781.3 543.0,785.7 543.6,786.0 544.1,778.9 544.7,783.0 545.3,785.1 545.8,785.6 546.4,781.0 546.9,771.7 547.5,783.8 548.1,775.2 548.6,778.3 549.2,762.6 549.7,785.6 550.3,774.4 550.9,780.0 551.4,785.9 552.0,788.2 552.5,795.1 553.1,788.5 553.7,772.6 554.2,789.0 554.8,782.4 555.3,790.9 555.9,782.2 556.4,782.4 557.0,784.9 557.6,784.1 558.1,771.4 558.7,784.4 559.2,791.9 559.8,797.2 560.4,789.3 560.9,788.7 561.5,795.4 562.0,795.4 562.6,800.0 563.2,796.1 563.7,793.7 564.3,799.6 564.8,800.6 565.4,789.5 565.9,795.5 566.5,776.9 567.1,791.3 567.6,786.0 568.2,793.4 568.7,790.8 569.3,794.4 569.9,795.3 570.4,798.6 571.0,797.6 571.5,790.7 572.1,783.1 572.7,801.9 573.2,802.7 573.8,792.3 574.3,799.5 574.9,769.7 575.4,780.8 576.0,794.6 576.6,803.5 577.1,786.6 577.7,788.9 578.2,804.3 578.8,778.0 579.4,800.9 579.9,800.4 580.5,796.5 581.0,799.7 581.6,809.6 582.2,787.5 582.7,796.3 583.3,797.3 583.8,792.8 584.4,786.2 584.9,806.8 585.5,801.6 586.1,782.6 586.6,793.8 587.2,803.0 587.7,803.2 588.3,786.8 588.9,801.1 589.4,803.3 590.0,804.1 590.5,804.4 591.1,784.2 591.7,810.6 592.2,804.4 592.8,810.9 593.3,815.3 593.9,802.7 594.5,791.9 595.0,808.2 595.6,803.2 596.1,800.7 596.7,795.0 597.2,812.5 597.8,801.6 598.4,792.0 598.9,802.1 599.5,795.1 600.0,807.8 600.6,803.3 601.2,797.2 601.7,810.7 602.3,802.2 602.8,811.9 603.4,814.4 604.0,806.3 604.5,803.8 605.1,811.5 605.6,814.5 606.2,811.5 606.7,812.3 607.3,811.7 607.9,813.3 608.4,814.7 609.0,805.4 609.5,807.8 610.1,813.0 610.7,806.4 611.2,813.8 611.8,815.5 612.3,813.2 612.9,807.7 613.5,800.8 614.0,820.8 614.6,817.7 615.1,803.4 615.7,806.3 616.2,822.0 616.8,820.8 617.4,815.8 617.9,819.8 618.5,800.9 619.0,815.9 619.6,818.8 620.2,797.8 620.7,808.7 621.3,819.5 621.8,821.0 622.4,811.2 623.0,818.4 623.5,823.6 624.1,814.1 624.6,805.0 625.2,817.8 625.7,814.8 626.3,823.8 626.9,819.9 627.4,811.7 628.0,828.7 628.5,815.2 629.1,822.1 629.7,823.1 630.2,823.8 630.8,821.8 631.3,823.6 631.9,821.1 632.5,808.2 633.0,820.2 633.6,820.7 634.1,821.1 634.7,823.6 635.2,817.3 635.8,828.4 636.4,829.5 636.9,802.7 637.5,824.2 638.0,817.5 638.6,799.5 639.2,826.2 639.7,819.0 640.3,821.5 640.8,819.0 641.4,829.4 642.0,830.1 642.5,826.8 643.1,828.5 643.6,825.1 644.2,826.9 644.8,819.5 645.3,826.9 645.9,820.2 646.4,828.5 647.0,830.3 647.5,828.7 648.1,832.0 648.7,837.6 649.2,808.2 649.8,828.5 650.3,823.6 650.9,825.1 651.5,817.5 652.0,830.3 652.6,828.3 653.1,825.6 653.7,829.3 654.3,827.0 654.8,813.4 655.4,837.0 655.9,833.6 656.5,831.0 657.0,841.1 657.6,837.6 658.2,828.6 658.7,846.2 659.3,832.6 659.8,842.5 660.4,844.2 661.0,847.1 661.5,846.7 662.1,844.3 662.6,839.6 663.2,841.6 663.8,846.2 664.3,847.6 664.9,845.2 665.4,841.1 666.0,846.6 666.5,842.9 667.1,843.0 667.7,843.9 668.2,846.6 668.8,846.2 669.3,847.8 669.9,848.6 670.5,847.4 671.0,826.8 671.6,838.4 672.1,847.4 672.7,847.0 673.3,851.6 673.8,847.6 674.4,847.2 674.9,849.9 675.5,850.4 676.0,847.5 676.6,849.7 677.2,843.4 677.7,844.5 678.3,851.6 678.8,842.6 679.4,851.3 680.0,851.1 680.5,851.4 681.1,851.8 681.6,851.3 682.2,840.1 682.8,842.4 683.3,847.9 683.9,852.6 684.4,845.7 685.0,847.9 685.6,849.7 686.1,854.0 686.7,844.9 687.2,845.5 687.8,853.3 688.3,842.1 688.9,853.0 689.5,850.5 690.0,845.3 690.6,851.0 691.1,848.4 691.7,853.6 692.3,854.1 692.8,856.3 693.4,853.7 693.9,854.0 694.5,849.4 695.1,854.0 695.6,856.1 696.2,845.4 696.7,855.7 697.3,852.2 697.8,854.9 698.4,855.5 699.0,856.5 699.5,855.6 700.1,853.5 700.6,856.0 701.2,855.6 701.8,854.8 702.3,856.2 702.9,857.5 703.4,856.4 704.0,856.5 704.6,846.4 705.1,855.9 705.7,848.2 706.2,858.0 706.8,852.7 707.3,859.3 707.9,862.3 708.5,855.5 709.0,859.7 709.6,858.3 710.1,855.4 710.7,854.4 711.3,859.3 711.8,861.0 712.4,859.5 712.9,852.4 713.5,854.7 714.1,858.6 714.6,862.1 715.2,860.6 715.7,860.9 716.3,862.6 716.8,859.9 717.4,860.7 718.0,860.5 718.5,853.8 719.1,862.6 719.6,862.7 720.2,863.9 720.8,857.4 721.3,859.2 721.9,864.5 722.4,863.7 723.0,865.6 723.6,860.1 724.1,864.2 724.7,861.4 725.2,864.8 725.8,862.6 726.4,865.6 726.9,866.7 727.5,866.3 728.0,858.5 728.6,867.1 729.1,866.6 729.7,862.3 730.3,863.1 730.8,866.7 731.4,867.7 731.9,865.5 732.5,857.4 733.1,868.0 733.6,868.1 734.2,871.3 734.7,863.7 735.3,871.6 735.9,870.7 736.4,869.0 737.0,870.8 737.5,869.0 738.1,870.2 738.6,866.7 739.2,869.3 739.8,863.8 740.3,864.5 740.9,868.8 741.4,867.7 742.0,870.6 742.6,871.6 743.1,869.7 743.7,870.5 744.2,870.8 744.8,865.5 745.4,871.2 745.9,871.0 746.5,871.0 747.0,867.9 747.6,865.3 748.1,870.8 748.7,872.1 749.3,873.4 749.8,873.3 750.4,873.9 750.9,872.7 751.5,873.7 752.1,871.9 752.6,873.3 753.2,873.7 753.7,875.8 754.3,873.2 754.9,869.2 755.4,874.6 756.0,870.9 756.5,873.1 757.1,871.9 757.6,870.8 758.2,875.1 758.8,874.4 759.3,872.0 759.9,874.0 760.4,872.8 761.0,874.8 761.6,873.1 762.1,872.1 762.7,872.6 763.2,873.3 763.8,874.9 764.4,872.1 764.9,874.6 765.5,875.4 766.0,877.5 766.6,876.0 767.2,866.9 767.7,873.9 768.3,874.3 768.8,875.9 769.4,877.3 769.9,876.5 770.5,869.5 771.1,876.3 771.6,876.2 772.2,876.6 772.7,877.7 773.3,873.5 773.9,877.7 774.4,872.2 775.0,876.8 775.5,877.3 776.1,879.3 776.7,875.3 777.2,872.8 777.8,878.1 778.3,875.8 778.9,879.2 779.4,875.9 780.0,875.6 780.6,879.2 781.1,878.2 781.7,879.2 782.2,874.7 782.8,880.1 783.4,877.1 783.9,879.5 784.5,876.3 785.0,875.0 785.6,878.4 786.2,879.4 786.7,880.8 787.3,879.8 787.8,880.2 788.4,880.3 788.9,882.7 789.5,877.9 790.1,881.2 790.6,879.8 791.2,880.5 791.7,879.1 792.3,881.6 792.9,877.6 793.4,877.6 794.0,880.4 794.5,878.2 795.1,881.8 795.7,882.1 796.2,879.6 796.8,882.2 797.3,880.1 797.9,881.6 798.4,881.9 799.0,883.7 799.6,882.1 800.1,880.1 800.7,880.2 801.2,883.5 801.8,878.8 802.4,881.7 802.9,881.9 803.5,877.3 804.0,881.9 804.6,883.9 805.2,883.3 805.7,881.1 806.3,883.8 806.8,883.7 807.4,885.1 808.0,881.8 808.5,882.6 809.1,883.6 809.6,883.3 810.2,883.8 810.7,883.5 811.3,882.3 811.9,880.3 812.4,882.7 813.0,880.9 813.5,881.8 814.1,883.0 814.7,884.7 815.2,885.0 815.8,882.1 816.3,884.7 816.9,885.2 817.5,884.5 818.0,881.0 818.6,880.0 819.1,885.4 819.7,885.6 820.2,885.1 820.8,882.7 821.4,886.2 821.9,886.1 822.5,885.1 823.0,884.7 823.6,881.1 824.2,886.0 824.7,879.5 825.3,886.1 825.8,886.2 826.4,885.7 827.0,887.0 827.5,885.1 828.1,886.3 828.6,886.6 829.2,886.2 829.7,885.2 830.3,887.1 830.9,886.5 831.4,885.8 832.0,886.0 832.5,886.5 833.1,888.3 833.7,886.6 834.2,886.1 834.8,884.4 835.3,884.2 835.9,882.8 836.5,887.0 837.0,886.9 837.6,884.8 838.1,883.9 838.7,886.3 839.2,885.2 839.8,884.4 840.4,887.4 840.9,887.4 841.5,887.2 842.0,888.0 842.6,886.1 843.2,888.5 843.7,885.5 844.3,888.0 844.8,888.2 845.4,887.2 846.0,888.1 846.5,883.4 847.1,884.9 847.6,887.5 848.2,886.5 848.7,888.5 849.3,888.2 849.9,888.6 850.4,888.5 851.0,888.4 851.5,888.4 852.1,887.1 852.7,887.5 853.2,890.0 853.8,885.1 854.3,888.2 854.9,889.4 855.5,889.0 856.0,889.8 856.6,889.2 857.1,886.4 857.7,888.2 858.3,886.2 858.8,889.7 859.4,890.1 859.9,888.2 860.5,889.5 861.0,888.3 861.6,886.5 862.2,888.4 862.7,886.3 863.3,888.2 863.8,889.5 864.4,890.0 865.0,890.4 865.5,888.9 866.1,889.8 866.6,889.9 867.2,890.1 867.8,884.5 868.3,888.3 868.9,890.4 869.4,887.8 870.0,890.1 870.5,890.5 871.1,886.5 871.7,889.7 872.2,890.3 872.8,890.1 873.3,885.4 873.9,890.5 874.5,889.2 875.0,890.9 875.6,890.7 876.1,889.4 876.7,890.6 877.3,889.2 877.8,889.3 878.4,887.8 878.9,890.1 879.5,891.2 880.0,890.8 880.6,890.6 881.2,889.6 881.7,889.8 882.3,891.4 882.8,886.4 883.4,892.3 884.0,890.8 884.5,892.4 885.1,891.8 885.6,890.3 886.2,891.6 886.8,891.4 887.3,891.5 887.9,891.8 888.4,890.3 889.0,890.2 889.5,890.6 890.1,889.1 890.7,891.0 891.2,891.7 891.8,891.8 892.3,891.8 892.9,891.0 893.5,892.3 894.0,888.3 894.6,891.1 895.1,891.3 895.7,892.5 896.3,892.4 896.8,892.6 897.4,892.0 897.9,892.8 898.5,890.5 899.1,892.2 899.6,888.8 900.2,893.4 900.7,893.4 901.3,891.4 901.8,891.0 902.4,889.1 903.0,890.0 903.5,892.7 904.1,892.3 904.6,890.3 905.2,891.9 905.8,891.7 906.3,893.2 906.9,893.4 907.4,892.6 908.0,893.1 908.6,893.0 909.1,889.8 909.7,893.4 910.2,893.1 910.8,893.8 911.3,890.4 911.9,893.9 912.5,892.4 913.0,893.8 913.6,894.4 914.1,891.2 914.7,891.5 915.3,894.4 915.8,890.5 916.4,892.2 916.9,894.3 917.5,893.5 918.1,894.5 918.6,894.2 919.2,893.9 919.7,894.7 920.3,895.5 920.8,893.9 921.4,895.1 922.0,895.0 922.5,894.4 923.1,894.6 923.6,892.8 924.2,893.4 924.8,894.7 925.3,894.3 925.9,895.3 926.4,890.9 927.0,893.6 927.6,893.6 928.1,894.4 928.7,895.5 929.2,892.8 929.8,895.4 930.3,893.9 930.9,894.3 931.5,895.6 932.0,894.5 932.6,895.5 933.1,895.2 933.7,894.8 934.3,894.5 934.8,892.4 935.4,894.0 935.9,895.4 936.5,895.5 937.1,893.0 937.6,896.0 938.2,895.8 938.7,893.4 939.3,893.8 939.9,895.9 940.4,892.8 941.0,894.4 941.5,895.5 942.1,895.5 942.6,895.6 943.2,896.1 943.8,894.6 944.3,895.1 944.9,897.2 945.4,893.8 946.0,895.3 946.6,896.2 947.1,894.3 947.7,897.0 948.2,896.3 948.8,896.8 949.4,892.3 949.9,897.1 950.5,897.2 951.0,895.3 951.6,897.3 952.1,896.8 952.7,897.2 953.3,897.8 953.8,896.8 954.4,895.2 954.9,896.8 955.5,894.9 956.1,895.7 956.6,895.8 957.2,895.9 957.7,897.8 958.3,897.7 958.9,894.7 959.4,897.9 960.0,894.7 960.5,896.3 961.1,897.1 961.6,898.2 962.2,897.9 962.8,897.8 963.3,898.4 963.9,898.1 964.4,898.5 965.0,896.5 965.6,895.2 966.1,897.2 966.7,898.4 967.2,898.1 967.8,898.5 968.4,898.5 968.9,898.4 969.5,898.6 970.0,897.1 970.6,898.9 971.1,896.7 971.7,898.1 972.3,896.2 972.8,898.7 973.4,896.1 973.9,899.3 974.5,896.5 975.1,898.8 975.6,898.4 976.2,897.4 976.7,899.5 977.3,898.2 977.9,899.7 978.4,897.4 979.0,897.7 979.5,893.9 980.1,899.4 980.7,899.6 981.2,899.3 981.8,898.9 982.3,897.8 982.9,900.6 983.4,899.7 984.0,896.6 984.6,898.9 985.1,895.5 985.7,900.3 986.2,900.6 986.8,900.3 987.4,899.4 987.9,898.7 988.5,897.5 989.0,900.0 989.6,898.6 990.2,899.1 990.7,898.1 991.3,899.3 991.8,900.4 992.4,900.8 992.9,900.0 993.5,899.9 994.1,898.3 994.6,898.2 995.2,898.5 995.7,900.6 996.3,900.3 996.9,900.7 997.4,900.5 998.0,899.6 998.5,898.4 999.1,899.8 999.7,898.3 1000.2,901.5 1000.8,900.6 1001.3,899.9 1001.9,901.6 1002.4,900.0 1003.0,900.9 1003.6,900.4 1004.1,900.9 1004.7,900.2 1005.2,901.1 1005.8,901.6 1006.4,899.0 1006.9,897.7 1007.5,901.8 1008.0,901.2 1008.6,901.6 1009.2,900.7 1009.7,902.1 1010.3,902.3 1010.8,899.6 1011.4,901.8 1011.9,900.5 1012.5,899.1 1013.1,901.1 1013.6,901.9 1014.2,899.6 1014.7,899.8 1015.3,902.4 1015.9,901.8 1016.4,902.1 1017.0,900.2 1017.5,901.0 1018.1,902.1 1018.7,902.2 1019.2,902.2 1019.8,903.1 1020.3,902.3 1020.9,900.0 1021.4,901.0 1022.0,902.2 1022.6,903.2 1023.1,900.6 1023.7,901.9 1024.2,902.4 1024.8,901.5 1025.4,901.4 1025.9,902.3 1026.5,903.4 1027.0,903.2 1027.6,902.4 1028.2,903.2 1028.7,901.1 1029.3,903.6 1029.8,903.6 1030.4,903.4 1031.0,900.8 1031.5,904.4 1032.1,899.0 1032.6,901.9 1033.2,902.0 1033.7,903.9 1034.3,901.3 1034.9,903.8 1035.4,903.4 1036.0,903.2 1036.5,904.3 1037.1,904.6 1037.7,904.1 1038.2,903.5 1038.8,900.6 1039.3,904.9 1039.9,903.6 1040.5,901.4 1041.0,904.3 1041.6,905.1 1042.1,903.8 1042.7,902.6 1043.2,905.7 1043.8,904.9 1044.4,904.8 1044.9,905.2 1045.5,901.4 1046.0,904.5 1046.6,904.5 1047.2,906.1 1047.7,904.0 1048.3,904.1 1048.8,902.9 1049.4,903.8 1050.0,904.7 1050.5,905.3 1051.1,904.9 1051.6,906.4 1052.2,905.6 1052.7,905.8 1053.3,906.2 1053.9,905.9 1054.4,904.7 1055.0,903.3 1055.5,905.9 1056.1,904.5 1056.7,906.5 1057.2,904.7 1057.8,902.6 1058.3,905.9 1058.9,906.6 1059.5,905.7 1060.0,906.2 1060.6,906.3 1061.1,907.2 1061.7,906.5 1062.2,906.2 1062.8,905.4 1063.4,904.0 1063.9,907.3 1064.5,907.2 1065.0,905.2 1065.6,907.0 1066.2,906.9 1066.7,906.1 1067.3,906.3 1067.8,907.3 1068.4,905.1 1069.0,906.2 1069.5,906.9 1070.1,906.9 1070.6,906.8 1071.2,907.3 1071.8,907.6 1072.3,905.9 1072.9,907.4 1073.4,906.6 1074.0,908.3 1074.5,905.4 1075.1,907.2 1075.7,908.0 1076.2,907.2 1076.8,907.2 1077.3,907.0 1077.9,908.0 1078.5,906.2 1079.0,907.8 1079.6,907.8 1080.1,905.9 1080.7,908.3 1081.3,907.5 1081.8,908.4 1082.4,908.8 1082.9,908.6 1083.5,906.6 1084.0,908.6 1084.6,906.2 1085.2,907.4 1085.7,909.5 1086.3,908.6 1086.8,909.6 1087.4,908.4 1088.0,908.8 1088.5,907.2 1089.1,909.4 1089.6,908.6 1090.2,909.3 1090.8,909.3 1091.3,909.4 1091.9,909.3 1092.4,909.1 1093.0,909.2 1093.5,908.3 1094.1,906.3 1094.7,909.7 1095.2,910.6 1095.8,910.1 1096.3,910.8 1096.9,909.9 1097.5,908.3 1098.0,908.3 1098.6,910.2 1099.1,910.0 1099.7,909.6 1100.3,910.3 1100.8,908.7 1101.4,910.3 1101.9,909.6 1102.5,910.2 1103.0,910.8 1103.6,910.0 1104.2,911.0 1104.7,911.0 1105.3,909.3 1105.8,911.6 1106.4,908.7 1107.0,910.3 1107.5,910.9 1108.1,907.3 1108.6,911.2 1109.2,911.3 1109.8,910.6 1110.3,910.9 1110.9,910.9 1111.4,910.6 1112.0,911.5 1112.6,910.5 1113.1,911.0 1113.7,911.3 1114.2,911.6 1114.8,911.8 1115.3,909.1 1115.9,908.4 1116.5,911.1 1117.0,911.3 1117.6,909.9 1118.1,911.6 1118.7,911.8 1119.3,911.8 1119.8,912.5 1120.4,910.2 1120.9,911.7 1121.5,912.8 1122.1,912.2 1122.6,910.3 1123.2,912.0 1123.7,912.6 1124.3,913.1 1124.8,912.4 1125.4,912.7 1126.0,910.6 1126.5,911.8 1127.1,912.9 1127.6,910.9 1128.2,912.2 1128.8,909.7 1129.3,913.2 1129.9,912.3 1130.4,912.8 1131.0,910.4 1131.6,910.7 1132.1,913.6 1132.7,912.2 1133.2,912.0 1133.8,913.1 1134.3,913.1 1134.9,910.1 1135.5,911.6 1136.0,913.0 1136.6,913.0 1137.1,913.3 1137.7,912.1 1138.3,912.8 1138.8,913.3 1139.4,912.3 1139.9,912.1 1140.5,912.1 1141.1,913.4 1141.6,913.3 1142.2,912.8 1142.7,913.2 1143.3,913.5 1143.8,913.8 1144.4,913.9 1145.0,911.9 1145.5,914.3 1146.1,911.6 1146.6,914.2 1147.2,912.9 1147.8,914.3 1148.3,914.6 1148.9,911.4 1149.4,914.5 1150.0,914.3 1150.6,913.6 1151.1,914.5 1151.7,913.6 1152.2,914.4 1152.8,912.9 1153.4,914.9 1153.9,914.8 1154.5,915.0 1155.0,913.7 1155.6,915.6 1156.1,915.8 1156.7,914.6 1157.3,914.2 1157.8,914.3 1158.4,915.3 1158.9,915.5 1159.5,913.9 1160.1,912.2 1160.6,915.3 1161.2,915.0 1161.7,915.3 1162.3,915.5 1162.9,913.7 1163.4,915.3 1164.0,914.9 1164.5,915.6 1165.1,916.1 1165.6,915.4 1166.2,914.3 1166.8,916.2 1167.3,916.0 1167.9,915.3 1168.4,913.1 1169.0,914.5 1169.6,915.8 1170.1,916.1 1170.7,915.1 1171.2,916.1 1171.8,915.0 1172.4,915.3 1172.9,916.3 1173.5,915.6 1174.0,916.2 1174.6,916.6 1175.1,916.8 1175.7,915.4 1176.3,915.6 1176.8,913.1 1177.4,914.5 1177.9,916.5 1178.5,915.7 1179.1,913.9 1179.6,916.8 1180.2,915.4 1180.7,916.1 1181.3,916.9 1181.9,916.9 1182.4,916.6 1183.0,914.0 1183.5,917.1 1184.1,916.0 1184.6,914.9 1185.2,913.8 1185.8,917.7 1186.3,917.1 1186.9,917.1 1187.4,917.4 1188.0,917.0 1188.6,915.1 1189.1,917.6 1189.7,917.8 1190.2,917.6 1190.8,918.2 1191.4,918.4 1191.9,916.3 1192.5,916.9 1193.0,918.0 1193.6,917.7 1194.1,917.7 1194.7,918.2 1195.3,918.1 1195.8,917.1 1196.4,917.9 1196.9,916.8 1197.5,917.6 1198.1,916.4 1198.6,915.2 1199.2,917.3 1199.7,917.2 1200.3,918.6 1200.9,919.0 1201.4,918.2 1202.0,918.5 1202.5,917.4 1203.1,917.0 1203.7,917.9 1204.2,918.0 1204.8,918.6 1205.3,918.6 1205.9,919.4 1206.4,918.3 1207.0,916.3 1207.6,918.7 1208.1,917.8 1208.7,918.9 1209.2,919.4 1209.8,917.9 1210.4,918.8 1210.9,919.2 1211.5,917.7 1212.0,919.1 1212.6,919.3 1213.2,919.5 1213.7,919.7 1214.3,919.5 1214.8,919.4 1215.4,916.0 1215.9,915.7 1216.5,918.0 1217.1,920.1 1217.6,919.5 1218.2,916.4 1218.7,919.0 1219.3,919.8 1219.9,917.1 1220.4,920.0 1221.0,918.1 1221.5,920.3 1222.1,919.8 1222.7,921.4 1223.2,918.1 1223.8,920.1 1224.3,917.9 1224.9,920.6 1225.4,920.1 1226.0,920.6 1226.6,920.2 1227.1,918.6 1227.7,919.3 1228.2,918.6 1228.8,918.9 1229.4,920.4 1229.9,920.9 1230.5,920.8 1231.0,920.7 1231.6,919.7 1232.2,920.8 1232.7,918.6 1233.3,920.7 1233.8,921.1 1234.4,920.2 1234.9,920.1 1235.5,920.2 1236.1,921.1 1236.6,920.4 1237.2,919.0 1237.7,920.4 1238.3,919.5 1238.9,921.8 1239.4,921.1 1240.0,917.7 1240.5,921.3 1241.1,921.5 1241.7,921.4 1242.2,920.8 1242.8,921.4 1243.3,921.5 1243.9,921.9 1244.5,921.6 1245.0,922.6 1245.6,921.0 1246.1,922.3 1246.7,921.6 1247.2,919.3 1247.8,920.1 1248.4,919.2 1248.9,919.4 1249.5,922.4 1250.0,920.9 1250.6,922.2 1251.2,920.7 1251.7,921.9 1252.3,920.6 1252.8,922.4 1253.4,921.5 1254.0,921.5 1254.5,921.9 1255.1,923.3 1255.6,922.4 1256.2,922.7 1256.7,920.6 1257.3,921.5 1257.9,922.5 1258.4,919.9 1259.0,923.1 1259.5,922.6 1260.1,922.5 1260.7,922.3 1261.2,922.3 1261.8,922.0 1262.3,923.4 1262.9,923.1 1263.5,923.4 1264.0,922.4 1264.6,921.7 1265.1,923.6 1265.7,921.3 1266.2,922.2 1266.8,923.4 1267.4,923.6 1267.9,921.3 1268.5,922.8 1269.0,923.2 1269.6,923.0 1270.2,922.1 1270.7,923.6 1271.3,922.1 1271.8,923.0 1272.4,920.4 1273.0,923.3 1273.5,920.9 1274.1,923.9 1274.6,923.8 1275.2,922.9 1275.7,923.7 1276.3,923.7 1276.9,923.5 1277.4,924.0 1278.0,923.6 1278.5,923.2 1279.1,922.8 1279.7,924.8 1280.2,924.1 1280.8,924.0 1281.3,924.4 1281.9,923.6 1282.5,923.6 1283.0,924.5 1283.6,924.7 1284.1,924.6 1284.7,922.3 1285.3,924.4 1285.8,924.3 1286.4,924.6 1286.9,923.3 1287.5,923.1 1288.0,924.4 1288.6,923.4 1289.2,923.2 1289.7,924.6 1290.3,925.2 1290.8,924.8 1291.4,925.3 1292.0,922.6 1292.5,925.2 1293.1,924.9 1293.6,923.8 1294.2,924.4 1294.8,923.9 1295.3,924.8 1295.9,923.4 1296.4,925.8 1297.0,924.7 1297.5,923.3 1298.1,925.0 1298.7,925.5 1299.2,924.9 1299.8,925.8 1300.3,924.2 1300.9,924.3 1301.5,926.3 1302.0,925.5 1302.6,925.9 1303.1,925.9 1303.7,925.9 1304.3,925.7 1304.8,925.5 1305.4,926.3 1305.9,925.2 1306.5,925.9 1307.0,926.2 1307.6,925.0 1308.2,924.0 1308.7,926.3 1309.3,926.6 1309.8,926.2 1310.4,924.0 1311.0,926.5 1311.5,927.2 1312.1,924.2 1312.6,922.8 1313.2,926.0 1313.8,926.4 1314.3,926.8 1314.9,926.9 1315.4,926.6 1316.0,926.8 1316.5,926.8 1317.1,926.7 1317.7,926.6 1318.2,926.5 1318.8,927.1 1319.3,927.0 1319.9,926.3 1320.5,927.4 1321.0,926.0 1321.6,926.7 1322.1,927.1 1322.7,924.6 1323.3,926.6 1323.8,927.5 1324.4,927.6 1324.9,925.7 1325.5,926.2 1326.1,925.9 1326.6,926.8 1327.2,927.3 1327.7,925.3 1328.3,927.6 1328.8,927.5 1329.4,927.4 1330.0,926.7 1330.5,927.4 1331.1,925.3 1331.6,927.8 1332.2,927.8 1332.8,927.6 1333.3,926.3 1333.9,928.5 1334.4,928.4 1335.0,925.5 1335.6,928.2 1336.1,928.1 1336.7,924.7 1337.2,928.3 1337.8,928.4 1338.3,928.5 1338.9,928.3 1339.5,927.4 1340.0,927.6 1340.6,928.6 1341.1,928.9 1341.7,927.8 1342.3,928.1 1342.8,928.8 1343.4,925.8 1343.9,928.8 1344.5,928.3 1345.1,925.8 1345.6,929.1 1346.2,927.6 1346.7,929.1 1347.3,929.5 1347.8,927.3 1348.4,927.4 1349.0,928.9 1349.5,926.7 1350.1,929.4 1350.6,929.1 1351.2,929.6 1351.8,926.8 1352.3,929.3 1352.9,929.4 1353.4,927.0 1354.0,929.7 1354.6,927.6 1355.1,929.5 1355.7,927.7 1356.2,929.8 1356.8,930.3 1357.3,929.6 1357.9,929.6 1358.5,930.2 1359.0,929.1 1359.6,929.7 1360.1,930.1 1360.7,930.0 1361.3,930.6" fill="none" stroke="#A23B72" stroke-opacity="0.8" stroke-width="10.42" stroke-linejoin="round" stroke-linecap="round"/>
<polyline points="1715.5,159.8 1716.1,155.1 1716.6,165.7 1717.2,166.1 1717.7,170.6 1718.3,176.1 1718.9,166.6 1719.4,184.2 1720.0,182.4 1720.5,208.2 1721.1,200.5 1721.6,200.0 1722.2,205.4 1722.8,204.6 1723.3,203.7 1723.9,217.1 1724.4,229.6 1725.0,228.1 1725.6,241.3 1726.1,237.5 1726.7,255.4 1727.2,280.9 1727.8,291.6 1728.4,297.0 1728.9,319.5 1729.5,343.2 1730.0,369.4 1730.6,365.4 1731.1,374.4 1731.7,393.7 1732.3,380.0 1732.8,399.0 1733.4,417.9 1733.9,421.7 1734.5,424.0 1735.1,433.9 1735.6,344.4 1736.2,447.5 1736.7,427.9 1737.3,420.4 1737.9,458.9 1738.4,467.5 1739.0,459.9 1739.5,454.0 1740.1,479.4 1740.7,483.9 1741.2,500.1 1741.8,499.4 1742.3,498.5 1742.9,507.7 1743.4,496.8 1744.0,489.5 1744.6,512.9 1745.1,515.8 1745.7,511.1 1746.2,504.1 1746.8,522.3 1747.4,480.6 1747.9,531.9 1748.5,534.0 1749.0,505.8 1749.6,537.8 1750.2,524.2 1750.7,548.9 1751.3,513.4 1751.8,536.7 1752.4,560.8 1752.9,567.9 1753.5,528.6 1754.1,554.8 1754.6,575.1 1755.2,567.2 1755.7,591.3 1756.3,565.6 1756.9,591.0 1757.4,575.4 1758.0,604.7 1758.5,599.4 1759.1,597.4 1759.7,579.6 1760.2,620.9 1760.8,618.9 1761.3,623.2 1761.9,630.0 1762.4,629.7 1763.0,622.1 1763.6,624.2 1764.1,628.7 1764.7,653.3 1765.2,627.2 1765.8,644.2 1766.4,652.1 1766.9,662.0 1767.5,667.7 1768.0,649.8 1768.6,646.2 1769.2,674.7 1769.7,684.7 1770.3,685.3 1770.8,685.5 1771.4,683.0 1771.9,692.3 1772.5,690.4 1773.1,701.4 1773.6,689.1 1774.2,704.1 1774.7,704.6 1775.3,711.3 1775.9,712.0 1776.4,726.3 1777.0,723.2 1777.5,725.5 1778.1,693.0 1778.7,718.0 1779.2,716.9 1779.8,729.9 1780.3,700.0 1780.9,737.6 1781.5,739.3 1782.0,719.8 1782.6,725.9 1783.1,730.1 1783.7,741.9 1784.2,746.5 1784.8,754.6 1785.4,745.1 1785.9,752.6 1786.5,751.8 1787.0,760.4 1787.6,758.0 1788.2,762.4 1788.7,739.5 1789.3,758.7 1789.8,748.4 1790.4,770.3 1791.0,770.6 1791.5,770.4 1792.1,771.2 1792.6,786.3 1793.2,782.8 1793.7,784.6 1794.3,798.1 1794.9,808.0 1795.4,796.6 1796.0,797.6 1796.5,793.7 1797.1,794.3 1797.7,812.0 1798.2,815.5 1798.8,814.6 1799.3,817.7 1799.9,818.3 1800.5,819.9 1801.0,805.7 1801.6,817.8 1802.1,824.3 1802.7,817.6 1803.2,822.1 1803.8,820.2 1804.4,825.8 1804.9,833.0 1805.5,826.4 1806.0,829.6 1806.6,834.8 1807.2,834.8 1807.7,839.4 1808.3,813.1 1808.8,837.6 1809.4,830.3 1810.0,836.2 1810.5,839.5 1811.1,841.1 1811.6,841.6 1812.2,839.0 1812.7,845.0 1813.3,837.0 1813.9,839.1 1814.4,844.1 1815.0,836.4 1815.5,850.4 1816.1,846.9 1816.7,851.8 1817.2,844.2 1817.8,842.4 1818.3,850.5 1818.9,856.2 1819.5,851.6 1820.0,862.3 1820.6,864.5 1821.1,873.1 1821.7,861.6 1822.2,872.6 1822.8,863.3 1823.4,861.1 1823.9,864.3 1824.5,860.5 1825.0,873.2 1825.6,877.2 1826.2,874.9 1826.7,877.4 1827.3,881.8 1827.8,877.7 1828.4,878.2 1829.0,875.3 1829.5,863.0 1830.1,881.3 1830.6,862.2 1831.2,881.6 1831.8,879.4 1832.3,883.9 1832.9,879.1 1833.4,872.7 1834.0,882.1 1834.5,872.1 1835.1,879.7 1835.7,881.9 1836.2,880.8 1836.8,880.6 1837.3,874.9 1837.9,881.2 1838.5,850.2 1839.0,885.2 1839.6,877.9 1840.1,895.5 1840.7,898.5 1841.3,878.2 1841.8,899.3 1842.4,899.8 1842.9,891.8 1843.5,904.0 1844.0,898.4 1844.6,886.8 1845.2,901.3 1845.7,903.0 1846.3,905.3 1846.8,894.1 1847.4,908.1 1848.0,909.1 1848.5,896.5 1849.1,901.6 1849.6,907.5 1850.2,903.6 1850.8,915.2 1851.3,910.2 1851.9,894.0 1852.4,902.8 1853.0,909.7 1853.5,918.4 1854.1,909.1 1854.7,911.4 1855.2,912.9 1855.8,910.9 1856.3,919.2 1856.9,903.3 1857.5,914.2 1858.0,912.3 1858.6,914.0 1859.1,901.4 1859.7,918.2 1860.3,911.2 1860.8,912.5 1861.4,904.1 1861.9,906.1 1862.5,914.7 1863.0,916.2 1863.6,916.2 1864.2,919.5 1864.7,919.5 1865.3,919.0 1865.8,923.5 1866.4,924.4 1867.0,923.3 1867.5,928.0 1868.1,930.9 1868.6,928.4 1869.2,925.6 1869.8,932.2 1870.3,937.2 1870.9,930.0 1871.4,932.1 1872.0,932.8 1872.6,939.2 1873.1,908.6 1873.7,938.4 1874.2,942.1 1874.8,931.8 1875.3,944.8 1875.9,942.4 1876.5,936.7 1877.0,943.0 1877.6,929.7 1878.1,939.0 1878.7,950.9 1879.3,938.0 1879.8,952.9 1880.4,946.8 1880.9,950.9 1881.5,948.8 1882.1,935.8 1882.6,944.7 1883.2,950.8 1883.7,951.2 1884.3,956.8 1884.8,966.7 1885.4,969.7 1886.0,967.9 1886.5,970.6 1887.1,973.3 1887.6,972.1 1888.2,974.4 1888.8,975.4 1889.3,974.6 1889.9,970.9 1890.4,972.8 1891.0,976.1 1891.6,977.3 1892.1,977.3 1892.7,978.1 1893.2,977.2 1893.8,978.9 1894.3,978.1 1894.9,978.9 1895.5,977.3 1896.0,977.2 1896.6,979.7 1897.1,978.5 1897.7,979.0 1898.3,981.8 1898.8,981.2 1899.4,984.0 1899.9,982.6 1900.5,980.6 1901.1,982.8 1901.6,982.6 1902.2,981.0 1902.7,983.5 1903.3,981.1 1903.8,976.3 1904.4,983.8 1905.0,982.0 1905.5,984.7 1906.1,982.2 1906.6,981.2 1907.2,985.3 1907.8,981.8 1908.3,984.5 1908.9,985.7 1909.4,984.8 1910.0,984.7 1910.6,985.1 1911.1,985.9 1911.7,983.6 1912.2,986.0 1912.8,986.1 1913.4,987.8 1913.9,985.3 1914.5,984.2 1915.0,987.0 1915.6,987.0 1916.1,990.2 1916.7,992.2 1917.3,994.8 1917.8,993.0 1918.4,994.2 1918.9,990.5 1919.5,993.4 1920.1,995.8 1920.6,994.2 1921.2,994.4 1921.7,993.9 1922.3,996.3 1922.9,996.3 1923.4,994.7 1924.0,997.1 1924.5,997.1 1925.1,997.6 1925.6,996.5 1926.2,998.6 1926.8,998.1 1927.3,998.0 1927.9,997.1 1928.4,998.3 1929.0,999.4 1929.6,998.8 1930.1,1000.0 1930.7,1000.0 1931.2,1000.6 1931.8,1000.6 1932.4,1000.3 1932.9,997.9 1933.5,1001.0 1934.0,1001.6 1934.6,1001.4 1935.1,1001.8 1935.7,1000.9 1936.3,1001.2 1936.8,1000.5 1937.4,1002.8 1937.9,1002.2 1938.5,1001.6 1939.1,1000.5 1939.6,1002.3 1940.2,1003.5 1940.7,1003.1 1941.3,1001.9 1941.9,1003.9 1942.4,1004.0 1943.0,1003.9 1943.5,1003.9 1944.1,1004.3 1944.6,1004.1 1945.2,1004.3 1945.8,1003.0 1946.3,1005.0 1946.9,1004.5 1947.4,1005.6 1948.0,1001.7 1948.6,1005.1 1949.1,1005.4 1949.7,1004.5 1950.2,1005.4 1950.8,1005.7 1951.4,1005.7 1951.9,1004.8 1952.5,1005.5 1953.0,1006.4 1953.6,1006.7 1954.2,1006.1 1954.7,1006.2 1955.3,1006.4 1955.8,1007.0 1956.4,1005.0 1956.9,1004.8 1957.5,1006.8 1958.1,1004.2 1958.6,1005.6 1959.2,1007.1 1959.7,1007.4 1960.3,1005.8 1960.9,1007.8 1961.4,1003.3 1962.0,1007.9 1962.5,1005.5 1963.1,1006.1 1963.7,1008.3 1964.2,1007.5 1964.8,1007.1 1965.3,1007.2 1965.9,1008.6 1966.4,1008.4 1967.0,1008.6 1967.6,1009.3 1968.1,1007.8 1968.7,1008.3 1969.2,1008.3 1969.8,1009.8 1970.4,1009.8 1970.9,1010.0 1971.5,1009.4 1972.0,1009.4 1972.6,1010.1 1973.2,1009.3 1973.7,1010.3 1974.3,1010.4 1974.8,1009.1 1975.4,1010.0 1975.9,1010.1 1976.5,1011.2 1977.1,1011.8 1977.6,1010.4 1978.2,1010.6 1978.7,1007.6 1979.3,1010.9 1979.9,1010.9 1980.4,1009.5 1981.0,1011.5 1981.5,1009.0 1982.1,1010.9 1982.7,1011.4 1983.2,1009.7 1983.8,1011.9 1984.3,1012.1 1984.9,1009.8 1985.4,1009.9 1986.0,1012.2 1986.6,1011.9 1987.1,1010.4 1987.7,1011.5 1988.2,1012.1 1988.8,1012.1 1989.4,1012.8 1989.9,1012.7 1990.5,1013.5 1991.0,1013.4 1991.6,1013.1 1992.2,1013.4 1992.7,1013.6 1993.3,1013.4 1993.8,1011.4 1994.4,1013.6 1995.0,1013.3 1995.5,1014.2 1996.1,1013.5 1996.6,1013.8 1997.2,1013.8 1997.7,1014.5 1998.3,1013.9 1998.9,1013.5 1999.4,1014.1 2000.0,1013.4 2000.5,1014.2 2001.1,1014.2 2001.7,1014.4 2002.2,1015.3 2002.8,1013.9 2003.3,1014.5 2003.9,1014.3 2004.5,1015.0 2005.0,1013.2 2005.6,1013.9 2006.1,1014.9 2006.7,1015.3 2007.2,1015.0 2007.8,1014.5 2008.4,1014.1 2008.9,1015.6 2009.5,1016.1 2010.0,1015.7 2010.6,1015.7 2011.2,1015.9 2011.7,1014.5 2012.3,1015.4 2012.8,1015.6 2013.4,1016.1 2014.0,1016.0 2014.5,1014.5 2015.1,1016.8 2015.6,1017.2 2016.2,1016.1 2016.7,1016.7 2017.3,1016.7 2017.9,1017.0 2018.4,1014.8 2019.0,1017.6 2019.5,1016.3 2020.1,1017.6 2020.7,1017.1 2021.2,1016.6 2021.8,1017.0 2022.3,1017.8 2022.9,1015.5 2023.5,1017.0 2024.0,1016.9 2024.6,1015.4 2025.1,1018.4 2025.7,1018.1 2026.2,1017.9 2026.8,1018.5 2027.4,1016.8 2027.9,1018.0 2028.5,1019.1 2029.0,1018.8 2029.6,1015.5 2030.2,1014.1 2030.7,1016.2 2031.3,1019.1 2031.8,1018.0 2032.4,1018.4 2033.0,1019.1 2033.5,1017.7 2034.1,1019.0 2034.6,1019.3 2035.2,1019.2 2035.7,1019.2 2036.3,1018.3 2036.9,1019.4 2037.4,1018.7 2038.0,1019.9 2038.5,1020.6 2039.1,1018.4 2039.7,1016.6 2040.2,1018.9 2040.8,1019.7 2041.3,1020.1 2041.9,1020.2 2042.5,1018.0 2043.0,1018.8 2043.6,1020.4 2044.1,1018.5 2044.7,1020.5 2045.3,1019.7 2045.8,1020.4 2046.4,1020.5 2046.9,1020.5 2047.5,1020.6 2048.0,1019.0 2048.6,1020.5 2049.2,1020.4 2049.7,1020.6 2050.3,1021.1 2050.8,1020.2 2051.4,1019.7 2052.0,1019.1 2052.5,1020.3 2053.1,1021.2 2053.6,1019.8 2054.2,1021.5 2054.8,1021.1 2055.3,1020.7 2055.9,1019.4 2056.4,1021.2 2057.0,1021.5 2057.5,1019.0 2058.1,1021.9 2058.7,1022.1 2059.2,1021.6 2059.8,1021.7 2060.3,1022.7 2060.9,1022.2 2061.5,1020.5 2062.0,1021.7 2062.6,1021.6 2063.1,1021.6 2063.7,1018.9 2064.3,1022.3 2064.8,1021.2 2065.4,1022.1 2065.9,1021.9 2066.5,1022.6 2067.0,1021.8 2067.6,1021.3 2068.2,1022.6 2068.7,1023.0 2069.3,1022.0 2069.8,1023.1 2070.4,1022.7 2071.0,1021.9 2071.5,1023.4 2072.1,1021.0 2072.6,1023.2 2073.2,1022.2 2073.8,1023.1 2074.3,1021.4 2074.9,1021.9 2075.4,1023.5 2076.0,1023.2 2076.5,1023.2 2077.1,1022.3 2077.7,1023.5 2078.2,1021.6 2078.8,1022.0 2079.3,1023.2 2079.9,1022.4 2080.5,1022.7 2081.0,1023.5 2081.6,1023.5 2082.1,1023.4 2082.7,1024.5 2083.3,1024.3 2083.8,1024.4 2084.4,1023.9 2084.9,1023.3 2085.5,1022.2 2086.1,1023.6 2086.6,1021.6 2087.2,1023.5 2087.7,1024.6 2088.3,1025.0 2088.8,1024.8 2089.4,1023.4 2090.0,1024.7 2090.5,1023.6 2091.1,1024.9 2091.6,1024.5 2092.2,1025.1 2092.8,1025.9 2093.3,1025.2 2093.9,1025.9 2094.4,1025.0 2095.0,1024.6 2095.6,1025.6 2096.1,1025.8 2096.7,1024.4 2097.2,1025.2 2097.8,1023.5 2098.3,1025.0 2098.9,1025.7 2099.5,1025.3 2100.0,1024.8 2100.6,1023.8 2101.1,1025.7 2101.7,1026.0 2102.3,1025.9 2102.8,1025.8 2103.4,1024.2 2103.9,1026.6 2104.5,1025.8 2105.1,1025.8 2105.6,1026.3 2106.2,1023.5 2106.7,1026.0 2107.3,1025.9 2107.8,1026.4 2108.4,1026.9 2109.0,1026.5 2109.5,1024.2 2110.1,1026.0 2110.6,1026.5 2111.2,1026.5 2111.8,1025.0 2112.3,1024.6 2112.9,1026.9 2113.4,1026.8 2114.0,1026.7 2114.6,1024.7 2115.1,1027.6 2115.7,1023.4 2116.2,1026.5 2116.8,1027.9 2117.3,1026.8 2117.9,1027.1 2118.5,1025.7 2119.0,1027.7 2119.6,1025.6 2120.1,1027.3 2120.7,1027.3 2121.3,1026.1 2121.8,1027.7 2122.4,1024.6 2122.9,1026.6 2123.5,1027.4 2124.1,1027.0 2124.6,1027.8 2125.2,1028.0 2125.7,1027.3 2126.3,1027.1 2126.9,1026.7 2127.4,1027.4 2128.0,1028.2 2128.5,1027.6 2129.1,1028.1 2129.6,1027.9 2130.2,1027.0 2130.8,1028.8 2131.3,1028.0 2131.9,1029.8 2132.4,1031.0 2133.0,1029.3 2133.6,1031.7 2134.1,1029.9 2134.7,1032.1 2135.2,1031.2 2135.8,1032.2 2136.4,1032.1 2136.9,1032.6 2137.5,1033.0 2138.0,1032.7 2138.6,1032.8 2139.1,1032.6 2139.7,1032.5 2140.3,1031.8 2140.8,1031.6 2141.4,1032.7 2141.9,1033.1 2142.5,1032.9 2143.1,1032.5 2143.6,1033.2 2144.2,1032.6 2144.7,1032.5 2145.3,1032.2 2145.9,1032.4 2146.4,1032.8 2147.0,1033.4 2147.5,1032.9 2148.1,1032.4 2148.6,1032.7 2149.2,1033.0 2149.8,1032.1 2150.3,1033.2 2150.9,1033.3 2151.4,1033.3 2152.0,1033.4 2152.6,1032.5 2153.1,1032.3 2153.7,1033.6 2154.2,1033.6 2154.8,1032.5 2155.4,1033.5 2155.9,1033.5 2156.5,1033.6 2157.0,1033.6 2157.6,1033.0 2158.1,1033.6 2158.7,1033.6 2159.3,1033.6 2159.8,1032.6 2160.4,1032.0 2160.9,1033.3 2161.5,1032.8 2162.1,1033.8 2162.6,1034.0 2163.2,1033.9 2163.7,1033.6 2164.3,1033.9 2164.9,1034.2 2165.4,1033.2 2166.0,1034.2 2166.5,1034.2 2167.1,1034.1 2167.7,1034.4 2168.2,1033.8 2168.8,1034.4 2169.3,1033.7 2169.9,1033.9 2170.4,1033.7 2171.0,1034.5 2171.6,1033.9 2172.1,1034.5 2172.7,1033.9 2173.2,1034.8 2173.8,1035.0 2174.4,1034.7 2174.9,1035.1 2175.5,1034.9 2176.0,1035.3 2176.6,1034.8 2177.2,1034.0 2177.7,1035.2 2178.3,1034.9 2178.8,1034.4 2179.4,1034.7 2179.9,1033.5 2180.5,1035.0 2181.1,1034.6 2181.6,1035.5 2182.2,1035.4 2182.7,1034.4 2183.3,1034.5 2183.9,1035.1 2184.4,1034.4 2185.0,1035.5 2185.5,1035.6 2186.1,1035.0 2186.7,1035.3 2187.2,1036.0 2187.8,1036.3 2188.3,1036.4 2188.9,1036.1 2189.4,1036.4 2190.0,1035.9 2190.6,1036.5 2191.1,1035.9 2191.7,1036.7 2192.2,1035.9 2192.8,1036.2 2193.4,1036.8 2193.9,1037.0 2194.5,1036.2 2195.0,1036.8 2195.6,1037.2 2196.2,1037.3 2196.7,1036.8 2197.3,1037.4 2197.8,1037.3 2198.4,1037.9 2198.9,1037.8 2199.5,1037.0 2200.1,1036.6 2200.6,1037.9 2201.2,1038.2 2201.7,1038.1 2202.3,1038.3 2202.9,1038.0 2203.4,1037.6 2204.0,1038.5 2204.5,1038.4 2205.1,1038.5 2205.7,1037.6 2206.2,1038.5 2206.8,1038.1 2207.3,1038.7 2207.9,1038.2 2208.4,1038.2 2209.0,1038.2 2209.6,1038.9 2210.1,1038.6 2210.7,1038.2 2211.2,1038.1 2211.8,1038.1 2212.4,1039.0 2212.9,1037.0 2213.5,1038.3 2214.0,1038.9 2214.6,1039.1 2215.2,1038.8 2215.7,1039.0 2216.3,1039.1 2216.8,1039.1 2217.4,1039.0 2218.0,1039.3 2218.5,1039.1 2219.1,1039.4 2219.6,1038.5 2220.2,1039.3 2220.7,1038.4 2221.3,1038.3 2221.9,1039.3 2222.4,1038.8 2223.0,1039.3 2223.5,1038.7 2224.1,1039.6 2224.7,1039.3 2225.2,1038.7 2225.8,1039.4 2226.3,1039.6 2226.9,1039.0 2227.5,1039.5 2228.0,1039.9 2228.6,1039.7 2229.1,1039.5 2229.7,1039.0 2230.2,1039.7 2230.8,1038.8 2231.4,1038.0 2231.9,1039.3 2232.5,1039.1 2233.0,1040.1 2233.6,1039.8 2234.2,1039.2 2234.7,1039.2 2235.3,1039.9 2235.8,1039.4 2236.4,1039.6 2237.0,1039.8 2237.5,1039.9 2238.1,1040.0 2238.6,1040.0 2239.2,1040.3 2239.7,1040.4 2240.3,1039.2 2240.9,1040.6 2241.4,1040.1 2242.0,1040.4 2242.5,1039.8 2243.1,1040.2 2243.7,1040.2 2244.2,1040.2 2244.8,1040.4 2245.3,1040.4 2245.9,1039.8 2246.5,1040.3 2247.0,1040.5 2247.6,1040.5 2248.1,1040.2 2248.7,1040.3 2249.2,1040.4 2249.8,1039.9 2250.4,1039.8 2250.9,1040.9 2251.5,1040.4 2252.0,1040.6 2252.6,1040.2 2253.2,1040.9 2253.7,1041.0 2254.3,1040.6 2254.8,1040.8 2255.4,1040.3 2256.0,1041.1 2256.5,1041.0 2257.1,1040.4 2257.6,1041.1 2258.2,1040.9 2258.8,1041.0 2259.3,1041.0 2259.9,1040.6 2260.4,1040.7 2261.0,1041.1 2261.5,1041.0 2262.1,1040.6 2262.7,1041.5 2263.2,1041.0 2263.8,1040.8 2264.3,1040.8 2264.9,1041.3 2265.5,1041.4 2266.0,1041.3 2266.6,1041.4 2267.1,1040.5 2267.7,1041.1 2268.3,1041.1 2268.8,1041.4 2269.4,1041.5 2269.9,1040.3 2270.5,1042.1 2271.0,1041.0 2271.6,1041.6 2272.2,1041.7 2272.7,1041.7 2273.3,1041.6 2273.8,1040.0 2274.4,1041.0 2275.0,1041.8 2275.5,1041.2 2276.1,1041.1 2276.6,1040.4 2277.2,1041.9 2277.8,1041.8 2278.3,1041.2 2278.9,1041.7 2279.4,1041.7 2280.0,1041.1 2280.5,1041.6 2281.1,1041.8 2281.7,1041.9 2282.2,1042.0 2282.8,1041.8 2283.3,1041.6 2283.9,1041.9 2284.5,1041.5 2285.0,1041.2 2285.6,1042.1 2286.1,1041.7 2286.7,1041.9 2287.3,1042.0 2287.8,1041.3 2288.4,1042.1 2288.9,1042.0 2289.5,1041.9 2290.0,1042.0 2290.6,1041.6 2291.2,1040.8 2291.7,1041.9 2292.3,1041.5 2292.8,1042.2 2293.4,1042.1 2294.0,1041.8 2294.5,1042.1 2295.1,1042.4 2295.6,1042.3 2296.2,1042.2 2296.8,1042.2 2297.3,1042.0 2297.9,1042.1 2298.4,1042.3 2299.0,1042.1 2299.6,1042.3 2300.1,1041.6 2300.7,1041.3 2301.2,1041.3 2301.8,1041.9 2302.3,1042.5 2302.9,1042.5 2303.5,1041.8 2304.0,1041.5 2304.6,1042.5 2305.1,1042.4 2305.7,1041.6 2306.3,1042.6 2306.8,1042.4 2307.4,1042.6 2307.9,1042.5 2308.5,1042.6 2309.1,1042.5 2309.6,1041.9 2310.2,1042.3 2310.7,1042.1 2311.3,1042.6 2311.8,1042.0 2312.4,1041.1 2313.0,1042.6 2313.5,1042.7 2314.1,1042.8 2314.6,1042.8 2315.2,1041.8 2315.8,1042.2 2316.3,1042.3 2316.9,1042.6 2317.4,1041.5 2318.0,1042.6 2318.6,1042.7 2319.1,1042.2 2319.7,1042.7 2320.2,1042.9 2320.8,1042.7 2321.3,1042.9 2321.9,1042.9 2322.5,1042.8 2323.0,1042.8 2323.6,1042.6 2324.1,1043.0 2324.7,1042.5 2325.3,1042.4 2325.8,1042.9 2326.4,1042.2 2326.9,1042.9 2327.5,1043.1 2328.1,1042.9 2328.6,1042.9 2329.2,1043.1 2329.7,1043.0 2330.3,1042.1 2330.8,1042.2 2331.4,1043.2 2332.0,1043.0 2332.5,1041.9 2333.1,1042.3 2333.6,1043.0 2334.2,1042.5 2334.8,1043.1 2335.3,1043.0 2335.9,1043.1 2336.4,1042.5 2337.0,1043.2 2337.6,1043.5 2338.1,1042.7 2338.7,1043.4 2339.2,1043.3 2339.8,1043.2 2340.4,1043.1 2340.9,1042.5 2341.5,1042.7 2342.0,1043.3 2342.6,1043.4 2343.1,1043.4 2343.7,1043.4 2344.3,1043.4 2344.8,1043.0 2345.4,1042.6 2345.9,1043.3 2346.5,1043.3 2347.1,1043.3 2347.6,1042.5 2348.2,1043.0 2348.7,1042.5 2349.3,1043.3 2349.9,1042.7 2350.4,1043.2 2351.0,1043.4 2351.5,1043.3 2352.1,1043.6 2352.6,1042.8 2353.2,1042.2 2353.8,1043.5 2354.3,1043.6 2354.9,1043.6 2355.4,1043.4 2356.0,1043.5 2356.6,1043.4 2357.1,1042.7 2357.7,1043.1 2358.2,1043.5 2358.8,1043.1 2359.4,1043.8 2359.9,1042.7 2360.5,1043.2 2361.0,1043.7 2361.6,1043.2 2362.1,1042.9 2362.7,1042.8 2363.3,1042.9 2363.8,1043.8 2364.4,1043.6 2364.9,1043.6 2365.5,1043.3 2366.1,1043.7 2366.6,1043.6 2367.2,1043.1 2367.7,1043.3 2368.3,1043.6 2368.9,1043.8 2369.4,1043.6 2370.0,1043.7 2370.5,1044.0 2371.1,1043.2 2371.6,1043.0 2372.2,1043.8 2372.8,1043.7 2373.3,1043.6 2373.9,1043.7 2374.4,1043.5 2375.0,1043.8 2375.6,1043.5 2376.1,1043.9 2376.7,1043.1 2377.2,1043.3 2377.8,1043.8 2378.4,1043.5 2378.9,1043.9 2379.5,1043.7 2380.0,1043.5 2380.6,1043.8 2381.1,1043.5 2381.7,1043.0 2382.3,1043.2 2382.8,1043.4 2383.4,1043.6 2383.9,1043.8 2384.5,1044.0 2385.1,1044.0 2385.6,1044.2 2386.2,1044.1 2386.7,1043.8 2387.3,1044.2 2387.9,1044.1 2388.4,1043.7 2389.0,1044.0 2389.5,1044.1 2390.1,1044.0 2390.7,1044.1 2391.2,1044.0 2391.8,1044.1 2392.3,1043.8 2392.9,1044.0 2393.4,1043.8 2394.0,1044.1 2394.6,1043.2 2395.1,1044.1 2395.7,1044.3 2396.2,1044.1 2396.8,1044.0 2397.4,1044.1 2397.9,1043.6 2398.5,1043.7 2399.0,1043.9 2399.6,1044.0 2400.2,1044.3 2400.7,1043.7 2401.3,1044.3 2401.8,1043.4 2402.4,1043.8 2402.9,1044.2 2403.5,1044.4 2404.1,1043.9 2404.6,1043.2 2405.2,1044.3 2405.7,1044.3 2406.3,1043.8 2406.9,1043.8 2407.4,1044.0 2408.0,1044.4 2408.5,1044.5 2409.1,1043.7 2409.7,1044.9 2410.2,1044.4 2410.8,1044.3 2411.3,1044.6 2411.9,1044.5 2412.4,1045.0 2413.0,1044.7 2413.6,1044.4 2414.1,1044.4 2414.7,1044.2 2415.2,1044.4 2415.8,1044.7 2416.4,1044.3 2416.9,1044.9 2417.5,1044.6 2418.0,1044.6 2418.6,1044.8 2419.2,1043.7 2419.7,1043.9 2420.3,1044.8 2420.8,1044.7 2421.4,1044.7 2421.9,1044.8 2422.5,1044.4 2423.1,1044.7 2423.6,1044.1 2424.2,1043.8 2424.7,1045.0 2425.3,1044.3 2425.9,1044.4 2426.4,1045.0 2427.0,1045.0 2427.5,1044.6 2428.1,1044.6 2428.7,1044.8 2429.2,1044.4 2429.8,1044.9 2430.3,1044.9 2430.9,1044.9 2431.5,1045.0 2432.0,1045.0 2432.6,1045.2 2433.1,1045.2 2433.7,1044.1 2434.2,1045.1 2434.8,1044.4 2435.4,1044.3 2435.9,1045.1 2436.5,1044.6 2437.0,1044.8 2437.6,1045.2 2438.2,1044.7 2438.7,1044.6 2439.3,1045.1 2439.8,1045.2 2440.4,1045.1 2441.0,1044.3 2441.5,1044.7 2442.1,1045.0 2442.6,1045.4 2443.2,1045.2 2443.7,1045.2 2444.3,1045.3 2444.9,1045.0 2445.4,1045.2 2446.0,1045.2 2446.5,1044.7 2447.1,1045.1 2447.7,1045.3 2448.2,1044.7 2448.8,1045.3 2449.3,1045.3 2449.9,1045.4 2450.5,1044.8 2451.0,1045.2 2451.6,1045.5 2452.1,1045.4 2452.7,1044.9 2453.2,1045.3 2453.8,1045.5 2454.4,1045.2 2454.9,1045.3 2455.5,1045.8 2456.0,1045.3 2456.6,1045.3 2457.2,1044.8 2457.7,1045.0 2458.3,1045.6 2458.8,1045.3 2459.4,1044.8 2460.0,1044.9 2460.5,1045.4 2461.1,1045.5 2461.6,1045.0 2462.2,1045.5 2462.7,1045.2 2463.3,1045.5 2463.9,1045.5 2464.4,1045.5 2465.0,1045.2 2465.5,1045.4 2466.1,1045.6 2466.7,1044.9 2467.2,1045.5 2467.8,1045.6 2468.3,1045.7 2468.9,1045.5 2469.5,1045.4 2470.0,1045.6 2470.6,1045.2 2471.1,1045.4 2471.7,1045.6 2472.3,1045.6 2472.8,1045.1 2473.4,1045.4 2473.9,1044.6 2474.5,1045.7 2475.0,1045.4 2475.6,1045.7 2476.2,1045.1 2476.7,1045.6 2477.3,1045.7 2477.8,1045.8 2478.4,1045.0 2479.0,1045.8 2479.5,1045.6 2480.1,1045.3 2480.6,1045.8 2481.2,1045.6 2481.8,1045.5 2482.3,1045.4 2482.9,1045.8 2483.4,1045.8 2484.0,1045.7 2484.5,1045.3 2485.1,1045.5 2485.7,1045.9 2486.2,1046.0 2486.8,1045.8 2487.3,1046.1 2487.9,1045.8 2488.5,1045.3 2489.0,1046.0 2489.6,1045.4 2490.1,1045.9 2490.7,1046.1 2491.3,1045.7 2491.8,1045.8 2492.4,1046.3 2492.9,1046.0 2493.5,1046.0 2494.0,1046.1 2494.6,1045.9 2495.2,1045.9 2495.7,1046.0 2496.3,1044.8 2496.8,1046.2 2497.4,1045.5 2498.0,1045.5 2498.5,1046.1 2499.1,1046.0 2499.6,1045.4 2500.2,1046.1 2500.8,1045.5 2501.3,1045.7 2501.9,1045.4 2502.4,1045.7 2503.0,1046.2 2503.5,1046.1 2504.1,1046.2 2504.7,1046.3 2505.2,1046.1 2505.8,1045.8 2506.3,1046.0 2506.9,1046.4 2507.5,1046.2 2508.0,1046.2 2508.6,1046.1 2509.1,1046.2 2509.7,1046.3 2510.3,1046.2 2510.8,1046.1 2511.4,1045.9 2511.9,1045.8 2512.5,1046.3 2513.1,1046.4 2513.6,1046.4 2514.2,1046.3 2514.7,1045.9 2515.3,1046.4 2515.8,1046.4 2516.4,1045.6 2517.0,1046.5 2517.5,1046.4 2518.1,1046.6 2518.6,1045.8 2519.2,1045.8 2519.8,1046.5 2520.3,1045.6 2520.9,1046.1 2521.4,1045.9 2522.0,1045.9 2522.6,1045.5 2523.1,1046.3 2523.7,1046.6 2524.2,1046.5 2524.8,1046.5 2525.3,1046.3 2525.9,1046.7 2526.5,1046.6 2527.0,1046.7 2527.6,1045.8 2528.1,1046.6 2528.7,1046.0 2529.3,1046.6 2529.8,1046.6 2530.4,1046.0 2530.9,1046.6 2531.5,1046.8 2532.1,1046.7 2532.6,1046.7 2533.2,1046.2 2533.7,1046.3 2534.3,1046.1 2534.8,1046.7 2535.4,1046.8 2536.0,1046.7 2536.5,1046.7 2537.1,1045.8 2537.6,1046.8 2538.2,1046.6 2538.8,1045.8 2539.3,1045.9 2539.9,1046.6 2540.4,1046.3 2541.0,1047.0 2541.6,1046.8 2542.1,1046.3 2542.7,1046.5 2543.2,1047.0 2543.8,1046.4 2544.3,1046.9 2544.9,1046.9 2545.5,1047.1 2546.0,1046.9 2546.6,1046.7 2547.1,1046.9 2547.7,1046.9 2548.3,1047.0 2548.8,1046.8 2549.4,1047.2 2549.9,1046.8 2550.5,1047.0 2551.1,1046.4 2551.6,1046.9 2552.2,1046.9 2552.7,1047.0 2553.3,1047.1 2553.8,1046.7 2554.4,1046.6 2555.0,1047.2 2555.5,1046.8 2556.1,1046.5 2556.6,1047.2 2557.2,1047.1 2557.8,1045.8 2558.3,1046.8 2558.9,1047.1 2559.4,1047.2 2560.0,1046.8 2560.6,1047.3 2561.1,1046.7 2561.7,1046.9 2562.2,1047.1 2562.8,1047.1 2563.4,1047.2 2563.9,1047.2 2564.5,1047.1 2565.0,1047.3 2565.6,1046.8 2566.1,1047.0 2566.7,1047.4 2567.3,1047.1 2567.8,1047.3 2568.4,1046.9 2568.9,1046.9 2569.5,1047.1 2570.1,1047.2 2570.6,1047.0 2571.2,1047.2 2571.7,1047.3 2572.3,1047.4 2572.9,1047.2 2573.4,1047.3 2574.0,1047.3 2574.5,1046.7 2575.1,1046.5 2575.6,1047.5 2576.2,1047.4 2576.8,1047.2 2577.3,1047.3 2577.9,1046.8 2578.4,1046.6 2579.0,1047.3 2579.6,1046.6 2580.1,1047.4 2580.7,1046.8 2581.2,1047.3 2581.8,1047.6 2582.4,1047.6 2582.9,1047.1 2583.5,1047.5 2584.0,1046.9 2584.6,1047.1 2585.1,1047.4 2585.7,1047.5 2586.3,1047.1 2586.8,1047.4 2587.4,1047.4 2587.9,1046.8 2588.5,1047.3 2589.1,1047.6 2589.6,1047.3 2590.2,1047.5 2590.7,1047.5 2591.3,1047.1 2591.9,1047.6 2592.4,1047.6 2593.0,1047.7 2593.5,1047.6 2594.1,1047.2 2594.6,1047.2 2595.2,1047.1 2595.8,1047.0 2596.3,1047.1 2596.9,1047.6 2597.4,1047.7 2598.0,1047.2 2598.6,1047.6 2599.1,1046.9 2599.7,1047.3 2600.2,1047.1 2600.8,1046.8 2601.4,1047.5 2601.9,1047.5 2602.5,1047.3 2603.0,1047.3 2603.6,1047.1 2604.2,1047.5 2604.7,1047.3 2605.3,1047.6 2605.8,1046.7 2606.4,1047.6 2606.9,1047.6 2607.5,1047.8 2608.1,1047.7 2608.6,1047.6 2609.2,1047.3 2609.7,1046.8 2610.3,1047.6 2610.9,1047.8 2611.4,1047.9 2612.0,1046.5 2612.5,1047.3 2613.1,1047.5 2613.7,1047.2 2614.2,1047.7 2614.8,1047.6 2615.3,1047.4 2615.9,1047.6 2616.4,1047.0 2617.0,1047.3 2617.6,1047.3 2618.1,1047.8 2618.7,1047.0 2619.2,1047.6 2619.8,1047.8 2620.4,1047.7 2620.9,1047.8 2621.5,1047.4 2622.0,1047.8 2622.6,1047.9 2623.2,1048.1 2623.7,1047.9 2624.3,1048.0 2624.8,1047.8 2625.4,1047.8 2625.9,1048.0 2626.5,1047.9 2627.1,1048.0 2627.6,1047.9 2628.2,1048.1 2628.7,1048.2 2629.3,1047.5 2629.9,1048.1 2630.4,1047.9 2631.0,1047.9 2631.5,1047.8 2632.1,1048.0 2632.7,1047.4 2633.2,1047.5 2633.8,1047.5 2634.3,1047.9 2634.9,1048.0 2635.4,1048.0 2636.0,1047.9 2636.6,1047.6 2637.1,1047.2 2637.7,1048.0 2638.2,1047.9 2638.8,1048.0 2639.4,1048.2 2639.9,1047.9 2640.5,1047.9 2641.0,1047.0 2641.6,1048.0 2642.2,1047.9 2642.7,1047.7 2643.3,1048.0 2643.8,1047.5 2644.4,1047.8 2645.0,1048.3 2645.5,1048.1 2646.1,1048.1 2646.6,1048.1 2647.2,1048.1 2647.7,1048.0 2648.3,1048.4 2648.9,1048.0 2649.4,1048.2 2650.0,1048.0 2650.5,1047.9 2651.1,1047.0 2651.7,1047.3 2652.2,1048.3 2652.8,1048.3 2653.3,1047.8 2653.9,1048.1 2654.5,1048.2 2655.0,1047.7 2655.6,1048.4 2656.1,1047.7 2656.7,1047.8 2657.2,1047.0 2657.8,1048.4 2658.4,1048.1 2658.9,1048.4 2659.5,1047.7 2660.0,1048.2 2660.6,1048.2 2661.2,1048.2 2661.7,1048.5 2662.3,1048.5 2662.8,1048.4 2663.4,1048.0 2664.0,1048.3 2664.5,1048.4 2665.1,1048.3 2665.6,1048.3 2666.2,1048.3 2666.7,1047.6 2667.3,1048.3 2667.9,1048.5 2668.4,1047.8 2669.0,1048.3 2669.5,1048.4 2670.1,1047.7 2670.7,1048.2 2671.2,1047.6 2671.8,1048.0 2672.3,1047.7 2672.9,1047.9 2673.5,1048.1 2674.0,1048.2 2674.6,1048.2 2675.1,1047.3 2675.7,1048.6 2676.2,1048.2 2676.8,1047.9 2677.4,1048.1 2677.9,1048.4 2678.5,1047.7 2679.0,1048.2 2679.6,1048.2 2680.2,1048.5 2680.7,1048.1 2681.3,1048.5 2681.8,1048.5 2682.4,1048.3 2683.0,1048.6 2683.5,1048.4 2684.1,1047.9 2684.6,1048.5 2685.2,1048.5 2685.8,1048.4 2686.3,1048.5 2686.9,1048.8 2687.4,1048.5 2688.0,1048.5 2688.5,1048.4 2689.1,1048.7 2689.7,1048.5 2690.2,1048.2 2690.8,1048.0 2691.3,1048.6 2691.9,1048.6 2692.5,1047.9 2693.0,1048.2 2693.6,1048.6 2694.1,1048.7 2694.7,1048.0 2695.3,1048.4 2695.8,1048.7 2696.4,1048.3 2696.9,1048.4 2697.5,1048.3 2698.0,1048.0 2698.6,1048.6 2699.2,1048.6 2699.7,1048.0 2700.3,1048.6 2700.8,1048.8 2701.4,1048.6 2702.0,1048.7 2702.5,1048.4 2703.1,1048.8 2703.6,1048.3 2704.2,1048.9 2704.8,1048.4 2705.3,1048.3 2705.9,1048.3 2706.4,1048.5 2707.0,1048.4 2707.5,1048.4 2708.1,1048.5 2708.7,1048.8 2709.2,1048.8 2709.8,1048.5 2710.3,1048.9 2710.9,1048.3 2711.5,1048.3 2712.0,1048.2 2712.6,1048.8 2713.1,1048.1 2713.7,1048.1 2714.3,1048.9 2714.8,1049.0 2715.4,1048.9 2715.9,1048.1 2716.5,1048.7 2717.0,1048.8 2717.6,1048.7 2718.2,1048.1 2718.7,1048.6 2719.3,1048.1 2719.8,1048.3 2720.4,1049.1 2721.0,1048.9 2721.5,1048.2 2722.1,1048.2 2722.6,1048.8 2723.2,1048.5 2723.8,1048.9 2724.3,1048.5 2724.9,1048.7 2725.4,1048.8 2726.0,1048.1 2726.6,1048.0 2727.1,1048.3 2727.7,1048.3 2728.2,1048.7 2728.8,1048.8 2729.3,1048.8 2729.9,1048.9 2730.5,1048.5 2731.0,1049.0 2731.6,1049.1 2732.1,1048.9 2732.7,1048.9 2733.3,1049.0 2733.8,1049.0 2734.4,1048.9 2734.9,1048.8 2735.5,1048.6 2736.1,1048.4 2736.6,1049.0 2737.2,1049.1 2737.7,1048.5 2738.3,1048.9 2738.8,1048.9 2739.4,1048.6 2740.0,1048.6 2740.5,1048.8 2741.1,1048.1 2741.6,1048.9 2742.2,1048.8 2742.8,1049.3 2743.3,1049.1 2743.9,1048.8 2744.4,1048.9 2745.0,1049.2 2745.6,1049.2 2746.1,1049.0 2746.7,1048.9 2747.2,1048.4 2747.8,1048.8 2748.3,1048.9 2748.9,1048.7 2749.5,1049.2 2750.0,1048.3 2750.6,1048.9 2751.1,1049.1 2751.7,1049.1 2752.3,1049.3 2752.8,1048.5 2753.4,1048.7 2753.9,1049.0 2754.5,1049.1 2755.1,1048.9 2755.6,1048.7 2756.2,1049.2 2756.7,1048.6 2757.3,1048.7 2757.8,1049.3 2758.4,1049.3 2759.0,1049.2 2759.5,1048.7 2760.1,1048.8 2760.6,1048.7 2761.2,1048.7 2761.8,1048.9 2762.3,1049.3 2762.9,1049.1 2763.4,1048.8 2764.0,1048.8 2764.6,1048.7 2765.1,1049.3 2765.7,1048.4 2766.2,1049.2 2766.8,1048.6 2767.3,1048.7 2767.9,1048.6 2768.5,1049.3 2769.0,1049.1 2769.6,1049.6 2770.1,1048.8 2770.7,1048.7 2771.3,1049.3 2771.8,1049.3 2772.4,1049.0 2772.9,1048.4 2773.5,1049.4 2774.1,1049.3 2774.6,1049.3 2775.2,1049.0 2775.7,1049.3 2776.3,1049.0 2776.9,1049.2 2777.4,1049.1 2778.0,1049.4 2778.5,1049.0 2779.1,1049.1 2779.6,1049.4 2780.2,1049.3 2780.8,1049.2 2781.3,1049.2 2781.9,1049.4 2782.4,1049.0 2783.0,1049.3 2783.6,1049.6 2784.1,1049.3 2784.7,1049.0 2785.2,1048.8 2785.8,1049.3 2786.4,1048.8 2786.9,1048.7 2787.5,1049.0 2788.0,1048.9 2788.6,1049.4 2789.1,1048.8 2789.7,1049.6 2790.3,1049.0 2790.8,1049.4 2791.4,1049.4 2791.9,1049.4 2792.5,1049.5 2793.1,1049.0 2793.6,1048.5 2794.2,1049.3 2794.7,1048.7 2795.3,1049.1 2795.9,1049.5 2796.4,1049.3 2797.0,1049.1 2797.5,1049.0 2798.1,1049.3 2798.6,1049.3 2799.2,1048.4 2799.8,1049.5 2800.3,1049.0 2800.9,1049.4 2801.4,1049.2 2802.0,1049.6 2802.6,1049.6 2803.1,1049.4 2803.7,1049.4 2804.2,1049.5 2804.8,1049.6 2805.4,1049.6 2805.9,1049.5 2806.5,1049.5 2807.0,1049.7 2807.6,1048.9 2808.1,1049.6 2808.7,1049.1 2809.3,1049.7 2809.8,1049.3 2810.4,1049.5 2810.9,1049.1 2811.5,1049.5 2812.1,1049.6 2812.6,1049.8 2813.2,1049.1 2813.7,1049.4 2814.3,1050.1 2814.9,1049.7 2815.4,1049.5 2816.0,1049.6 2816.5,1048.6 2817.1,1049.8 2817.7,1049.6 2818.2,1049.0 2818.8,1049.7 2819.3,1049.4 2819.9,1049.2 2820.4,1049.7 2821.0,1049.7 2821.6,1049.3 2822.1,1049.6 2822.7,1049.1 2823.2,1049.1 2823.8,1049.7 2824.4,1049.8 2824.9,1049.7 2825.5,1049.7 2826.0,1049.5 2826.6,1049.6 2827.2,1049.3 2827.7,1049.9 2828.3,1049.5 2828.8,1049.7 2829.4,1049.7 2829.9,1049.2 2830.5,1049.9 2831.1,1049.5 2831.6,1049.4 2832.2,1049.7 2832.7,1049.4" fill="none" stroke="#2E86AB" stroke-opacity="0.8" stroke-width="10.42" stroke-linejoin="round" stroke-linecap="round"/>
<polyline points="1715.5,639.8 1716.1,640.0 1716.6,640.4 1717.2,640.3 1717.7,639.0 1718.3,640.2 1718.9,640.0 1719.4,640.3 1720.0,639.6 1720.5,640.4 1721.1,640.5 1721.6,640.7 1722.2,640.5 1722.8,640.6 1723.3,639.9 1723.9,641.0 1724.4,639.2 1725.0,640.9 1725.6,640.6 1726.1,640.4 1726.7,640.5 1727.2,640.5 1727.8,641.7 1728.4,643.1 1728.9,645.8 1729.5,643.1 1730.0,648.6 1730.6,648.4 1731.1,655.1 1731.7,647.3 1732.3,657.6 1732.8,662.5 1733.4,655.4 1733.9,668.3 1734.5,668.0 1735.1,671.8 1735.6,673.4 1736.2,665.3 1736.7,668.0 1737.3,674.1 1737.9,679.7 1738.4,681.7 1739.0,674.5 1739.5,676.6 1740.1,675.4 1740.7,678.0 1741.2,681.9 1741.8,683.7 1742.3,693.8 1742.9,681.1 1743.4,684.0 1744.0,689.8 1744.6,677.8 1745.1,685.1 1745.7,690.0 1746.2,694.0 1746.8,675.7 1747.4,697.9 1747.9,688.4 1748.5,694.4 1749.0,698.5 1749.6,698.7 1750.2,701.5 1750.7,698.5 1751.3,698.5 1751.8,701.2 1752.4,688.5 1752.9,707.5 1753.5,693.2 1754.1,688.1 1754.6,714.6 1755.2,704.1 1755.7,692.0 1756.3,718.1 1756.9,707.4 1757.4,719.3 1758.0,705.9 1758.5,715.8 1759.1,699.6 1759.7,699.1 1760.2,713.7 1760.8,727.8 1761.3,735.2 1761.9,745.7 1762.4,722.1 1763.0,742.2 1763.6,731.0 1764.1,738.6 1764.7,723.0 1765.2,724.7 1765.8,735.5 1766.4,731.8 1766.9,748.9 1767.5,741.5 1768.0,758.5 1768.6,754.8 1769.2,756.5 1769.7,762.9 1770.3,761.8 1770.8,761.8 1771.4,764.2 1771.9,766.9 1772.5,776.8 1773.1,778.5 1773.6,779.5 1774.2,783.1 1774.7,773.5 1775.3,784.3 1775.9,765.0 1776.4,791.0 1777.0,786.2 1777.5,788.0 1778.1,791.3 1778.7,789.6 1779.2,787.7 1779.8,798.1 1780.3,794.2 1780.9,783.2 1781.5,798.3 1782.0,775.7 1782.6,806.6 1783.1,797.5 1783.7,801.0 1784.2,812.8 1784.8,813.4 1785.4,804.6 1785.9,808.2 1786.5,811.5 1787.0,815.5 1787.6,806.8 1788.2,810.2 1788.7,816.6 1789.3,813.1 1789.8,816.5 1790.4,817.0 1791.0,801.0 1791.5,805.8 1792.1,784.5 1792.6,816.0 1793.2,827.0 1793.7,807.9 1794.3,829.1 1794.9,829.3 1795.4,825.1 1796.0,827.0 1796.5,828.8 1797.1,818.9 1797.7,827.5 1798.2,831.7 1798.8,836.7 1799.3,839.0 1799.9,827.4 1800.5,842.2 1801.0,830.0 1801.6,839.1 1802.1,844.5 1802.7,843.9 1803.2,844.1 1803.8,848.5 1804.4,841.8 1804.9,842.0 1805.5,849.1 1806.0,857.8 1806.6,853.4 1807.2,864.9 1807.7,858.1 1808.3,821.2 1808.8,854.0 1809.4,868.5 1810.0,861.9 1810.5,857.6 1811.1,853.4 1811.6,871.7 1812.2,871.4 1812.7,871.0 1813.3,871.0 1813.9,877.0 1814.4,875.3 1815.0,857.4 1815.5,877.3 1816.1,875.6 1816.7,874.6 1817.2,880.7 1817.8,878.3 1818.3,843.1 1818.9,887.7 1819.5,886.4 1820.0,881.2 1820.6,876.0 1821.1,886.0 1821.7,870.2 1822.2,888.6 1822.8,885.5 1823.4,884.9 1823.9,878.8 1824.5,882.6 1825.0,896.9 1825.6,898.8 1826.2,895.8 1826.7,893.7 1827.3,884.4 1827.8,899.3 1828.4,904.3 1829.0,877.9 1829.5,903.9 1830.1,872.9 1830.6,896.0 1831.2,902.7 1831.8,885.2 1832.3,884.3 1832.9,904.6 1833.4,908.7 1834.0,899.8 1834.5,912.7 1835.1,897.9 1835.7,916.4 1836.2,909.8 1836.8,911.2 1837.3,913.9 1837.9,913.4 1838.5,921.4 1839.0,923.9 1839.6,917.2 1840.1,913.6 1840.7,902.2 1841.3,908.2 1841.8,918.1 1842.4,917.7 1842.9,919.3 1843.5,920.6 1844.0,923.7 1844.6,906.1 1845.2,910.8 1845.7,929.1 1846.3,928.6 1846.8,919.2 1847.4,932.4 1848.0,919.2 1848.5,924.9 1849.1,906.7 1849.6,933.1 1850.2,929.8 1850.8,935.4 1851.3,934.4 1851.9,932.3 1852.4,933.3 1853.0,938.6 1853.5,932.0 1854.1,932.8 1854.7,935.5 1855.2,939.5 1855.8,940.6 1856.3,945.5 1856.9,936.4 1857.5,943.2 1858.0,930.2 1858.6,940.8 1859.1,938.9 1859.7,946.4 1860.3,941.6 1860.8,934.2 1861.4,942.1 1861.9,941.3 1862.5,936.6 1863.0,937.2 1863.6,929.8 1864.2,953.2 1864.7,941.9 1865.3,946.1 1865.8,928.8 1866.4,930.3 1867.0,941.7 1867.5,942.2 1868.1,947.7 1868.6,933.1 1869.2,947.4 1869.8,952.2 1870.3,935.6 1870.9,950.5 1871.4,936.0 1872.0,948.9 1872.6,949.5 1873.1,956.3 1873.7,941.6 1874.2,950.8 1874.8,955.4 1875.3,938.2 1875.9,952.2 1876.5,943.3 1877.0,946.0 1877.6,957.5 1878.1,958.3 1878.7,967.3 1879.3,962.8 1879.8,963.1 1880.4,956.5 1880.9,955.5 1881.5,959.4 1882.1,935.8 1882.6,965.9 1883.2,953.6 1883.7,950.5 1884.3,956.6 1884.8,963.8 1885.4,965.2 1886.0,958.7 1886.5,964.6 1887.1,964.9 1887.6,960.0 1888.2,969.2 1888.8,969.8 1889.3,960.3 1889.9,972.1 1890.4,960.8 1891.0,970.4 1891.6,964.1 1892.1,965.6 1892.7,966.4 1893.2,972.1 1893.8,963.5 1894.3,969.8 1894.9,974.4 1895.5,967.1 1896.0,971.1 1896.6,972.7 1897.1,967.9 1897.7,972.3 1898.3,964.8 1898.8,972.8 1899.4,971.3 1899.9,965.8 1900.5,974.3 1901.1,970.7 1901.6,969.6 1902.2,965.9 1902.7,968.5 1903.3,970.7 1903.8,971.5 1904.4,973.6 1905.0,963.6 1905.5,969.2 1906.1,973.8 1906.6,971.5 1907.2,972.0 1907.8,974.6 1908.3,971.7 1908.9,971.8 1909.4,970.5 1910.0,974.4 1910.6,972.7 1911.1,966.1 1911.7,971.3 1912.2,963.3 1912.8,972.2 1913.4,971.2 1913.9,968.0 1914.5,967.1 1915.0,958.9 1915.6,971.8 1916.1,970.8 1916.7,971.0 1917.3,975.7 1917.8,971.6 1918.4,973.4 1918.9,974.0 1919.5,971.2 1920.1,985.2 1920.6,979.6 1921.2,979.6 1921.7,984.1 1922.3,967.0 1922.9,983.8 1923.4,984.3 1924.0,980.0 1924.5,985.5 1925.1,976.2 1925.6,985.2 1926.2,986.8 1926.8,977.1 1927.3,980.5 1927.9,985.5 1928.4,986.0 1929.0,984.4 1929.6,987.3 1930.1,987.4 1930.7,983.3 1931.2,987.3 1931.8,984.2 1932.4,982.1 1932.9,981.5 1933.5,990.2 1934.0,988.7 1934.6,991.8 1935.1,985.2 1935.7,988.5 1936.3,990.4 1936.8,989.4 1937.4,990.8 1937.9,990.4 1938.5,988.4 1939.1,983.5 1939.6,987.6 1940.2,992.7 1940.7,991.8 1941.3,992.5 1941.9,989.2 1942.4,990.4 1943.0,988.6 1943.5,991.9 1944.1,991.6 1944.6,992.2 1945.2,993.8 1945.8,989.3 1946.3,992.9 1946.9,987.9 1947.4,993.5 1948.0,990.9 1948.6,992.1 1949.1,992.8 1949.7,994.6 1950.2,992.6 1950.8,991.3 1951.4,989.5 1951.9,993.5 1952.5,990.6 1953.0,991.8 1953.6,993.3 1954.2,994.3 1954.7,991.4 1955.3,994.4 1955.8,995.7 1956.4,989.2 1956.9,995.3 1957.5,996.2 1958.1,992.0 1958.6,994.6 1959.2,989.8 1959.7,994.4 1960.3,992.9 1960.9,994.4 1961.4,991.3 1962.0,991.6 1962.5,992.7 1963.1,992.0 1963.7,992.3 1964.2,993.5 1964.8,990.9 1965.3,993.7 1965.9,995.0 1966.4,987.5 1967.0,994.7 1967.6,992.1 1968.1,991.1 1968.7,990.5 1969.2,991.9 1969.8,992.3 1970.4,995.1 1970.9,990.8 1971.5,996.0 1972.0,992.2 1972.6,995.7 1973.2,996.2 1973.7,991.3 1974.3,996.5 1974.8,997.9 1975.4,994.1 1975.9,996.4 1976.5,995.4 1977.1,996.2 1977.6,995.6 1978.2,994.8 1978.7,997.4 1979.3,997.7 1979.9,996.8 1980.4,998.7 1981.0,998.4 1981.5,998.1 1982.1,995.4 1982.7,999.7 1983.2,999.3 1983.8,991.7 1984.3,994.9 1984.9,996.8 1985.4,999.4 1986.0,999.9 1986.6,997.9 1987.1,999.1 1987.7,999.8 1988.2,992.8 1988.8,1000.0 1989.4,998.6 1989.9,999.8 1990.5,999.6 1991.0,996.5 1991.6,997.2 1992.2,1000.2 1992.7,1000.3 1993.3,999.4 1993.8,1001.3 1994.4,999.0 1995.0,996.5 1995.5,999.0 1996.1,999.4 1996.6,999.5 1997.2,1001.2 1997.7,1000.4 1998.3,1001.0 1998.9,1000.5 1999.4,999.3 2000.0,1000.8 2000.5,998.9 2001.1,999.9 2001.7,996.7 2002.2,999.7 2002.8,998.6 2003.3,999.9 2003.9,1001.5 2004.5,1002.0 2005.0,1000.5 2005.6,999.3 2006.1,1000.2 2006.7,999.5 2007.2,997.5 2007.8,999.0 2008.4,998.5 2008.9,997.4 2009.5,1000.7 2010.0,997.7 2010.6,998.0 2011.2,1000.4 2011.7,997.8 2012.3,996.6 2012.8,997.7 2013.4,1000.8 2014.0,1000.8 2014.5,1000.9 2015.1,999.4 2015.6,998.3 2016.2,1002.1 2016.7,997.1 2017.3,1000.8 2017.9,997.7 2018.4,1000.6 2019.0,1001.5 2019.5,1003.4 2020.1,988.1 2020.7,1003.9 2021.2,1000.0 2021.8,1003.0 2022.3,1003.7 2022.9,1000.8 2023.5,1003.0 2024.0,1003.9 2024.6,1003.2 2025.1,1001.6 2025.7,1004.0 2026.2,1004.1 2026.8,999.9 2027.4,1005.8 2027.9,1004.7 2028.5,997.7 2029.0,1002.5 2029.6,1006.9 2030.2,1006.9 2030.7,1005.6 2031.3,997.1 2031.8,1004.7 2032.4,1006.6 2033.0,1005.9 2033.5,1004.6 2034.1,1003.5 2034.6,1006.5 2035.2,1005.1 2035.7,1006.0 2036.3,1006.2 2036.9,1007.5 2037.4,1006.0 2038.0,1006.1 2038.5,1000.8 2039.1,1007.1 2039.7,1006.9 2040.2,1006.0 2040.8,999.5 2041.3,1004.5 2041.9,1006.2 2042.5,1008.5 2043.0,1006.9 2043.6,1007.1 2044.1,1007.2 2044.7,1007.8 2045.3,1003.2 2045.8,1004.0 2046.4,1003.1 2046.9,1005.8 2047.5,1005.6 2048.0,1006.7 2048.6,1003.7 2049.2,1006.8 2049.7,1002.7 2050.3,1009.2 2050.8,1005.4 2051.4,1009.8 2052.0,1008.9 2052.5,1003.8 2053.1,1008.3 2053.6,1008.0 2054.2,1003.1 2054.8,1008.2 2055.3,1007.4 2055.9,1008.1 2056.4,1005.4 2057.0,1007.8 2057.5,1008.5 2058.1,1007.6 2058.7,1006.5 2059.2,1007.9 2059.8,1005.6 2060.3,1008.8 2060.9,1001.2 2061.5,1010.3 2062.0,1008.8 2062.6,1009.3 2063.1,1009.8 2063.7,1005.4 2064.3,1011.6 2064.8,1006.0 2065.4,1009.8 2065.9,1009.7 2066.5,1010.9 2067.0,1009.5 2067.6,1005.6 2068.2,1010.1 2068.7,997.7 2069.3,1008.9 2069.8,1008.5 2070.4,1011.6 2071.0,1009.1 2071.5,1008.6 2072.1,1007.7 2072.6,1007.4 2073.2,1008.3 2073.8,1010.5 2074.3,1006.1 2074.9,1009.3 2075.4,1005.7 2076.0,1009.4 2076.5,1010.1 2077.1,1006.3 2077.7,1008.3 2078.2,1010.0 2078.8,1010.8 2079.3,1011.0 2079.9,1009.6 2080.5,1007.0 2081.0,1005.2 2081.6,1010.8 2082.1,1011.5 2082.7,1010.4 2083.3,1011.7 2083.8,1008.7 2084.4,1008.8 2084.9,1011.7 2085.5,1007.1 2086.1,1010.7 2086.6,1010.4 2087.2,1010.2 2087.7,1011.9 2088.3,1007.5 2088.8,1008.8 2089.4,1004.0 2090.0,1007.0 2090.5,1008.6 2091.1,1008.9 2091.6,1009.5 2092.2,1010.4 2092.8,1008.1 2093.3,1004.3 2093.9,1010.3 2094.4,1010.7 2095.0,1007.0 2095.6,1008.2 2096.1,1012.6 2096.7,1012.0 2097.2,1012.2 2097.8,1011.9 2098.3,1011.5 2098.9,1010.0 2099.5,1012.2 2100.0,1011.2 2100.6,1010.6 2101.1,1012.0 2101.7,1012.0 2102.3,1013.3 2102.8,1009.7 2103.4,1015.4 2103.9,1009.9 2104.5,1011.7 2105.1,1014.1 2105.6,1010.8 2106.2,1012.0 2106.7,1013.6 2107.3,1005.0 2107.8,1012.3 2108.4,1011.1 2109.0,1013.2 2109.5,1014.6 2110.1,1014.8 2110.6,1015.9 2111.2,1015.9 2111.8,1015.5 2112.3,1014.4 2112.9,1015.7 2113.4,1011.8 2114.0,1014.5 2114.6,1016.4 2115.1,1015.8 2115.7,1010.9 2116.2,1013.4 2116.8,1016.2 2117.3,1016.0 2117.9,1016.6 2118.5,1010.3 2119.0,1011.8 2119.6,1014.9 2120.1,1012.9 2120.7,1015.7 2121.3,1015.9 2121.8,1016.4 2122.4,1015.7 2122.9,1016.8 2123.5,1017.1 2124.1,1016.5 2124.6,1012.9 2125.2,1017.9 2125.7,1016.8 2126.3,1017.2 2126.9,1017.0 2127.4,1012.4 2128.0,1017.9 2128.5,1015.5 2129.1,1014.1 2129.6,1019.2 2130.2,1017.1 2130.8,1018.4 2131.3,1019.2 2131.9,1020.1 2132.4,1013.8 2133.0,1016.8 2133.6,1019.5 2134.1,1017.4 2134.7,1011.4 2135.2,1019.2 2135.8,1019.3 2136.4,1019.7 2136.9,1019.2 2137.5,1018.2 2138.0,1019.2 2138.6,1019.0 2139.1,1018.1 2139.7,1019.2 2140.3,1019.2 2140.8,1017.3 2141.4,1019.7 2141.9,1019.6 2142.5,1019.6 2143.1,1014.4 2143.6,1019.2 2144.2,1018.9 2144.7,1017.5 2145.3,1019.5 2145.9,1016.7 2146.4,1020.0 2147.0,1019.5 2147.5,1018.4 2148.1,1020.2 2148.6,1019.6 2149.2,1019.5 2149.8,1017.2 2150.3,1019.7 2150.9,1020.2 2151.4,1020.1 2152.0,1017.3 2152.6,1020.3 2153.1,1020.4 2153.7,1020.0 2154.2,1018.9 2154.8,1017.1 2155.4,1018.0 2155.9,1018.6 2156.5,1019.7 2157.0,1019.9 2157.6,1018.4 2158.1,1017.0 2158.7,1019.0 2159.3,1017.5 2159.8,1020.4 2160.4,1017.7 2160.9,1020.0 2161.5,1020.2 2162.1,1018.2 2162.6,1020.3 2163.2,1019.5 2163.7,1018.5 2164.3,1018.3 2164.9,1019.9 2165.4,1020.5 2166.0,1017.0 2166.5,1020.3 2167.1,1019.7 2167.7,1018.8 2168.2,1019.7 2168.8,1020.0 2169.3,1020.0 2169.9,1020.6 2170.4,1018.8 2171.0,1021.3 2171.6,1020.8 2172.1,1019.4 2172.7,1015.6 2173.2,1020.3 2173.8,1019.8 2174.4,1020.9 2174.9,1020.9 2175.5,1021.6 2176.0,1020.4 2176.6,1021.1 2177.2,1020.1 2177.7,1020.2 2178.3,1021.6 2178.8,1020.6 2179.4,1020.7 2179.9,1020.1 2180.5,1021.1 2181.1,1021.3 2181.6,1020.9 2182.2,1019.5 2182.7,1021.3 2183.3,1019.3 2183.9,1020.7 2184.4,1021.3 2185.0,1021.4 2185.5,1018.3 2186.1,1022.2 2186.7,1021.8 2187.2,1022.3 2187.8,1022.7 2188.3,1020.2 2188.9,1020.8 2189.4,1021.6 2190.0,1022.0 2190.6,1020.9 2191.1,1021.2 2191.7,1022.1 2192.2,1020.5 2192.8,1021.8 2193.4,1022.2 2193.9,1021.4 2194.5,1022.1 2195.0,1021.6 2195.6,1019.9 2196.2,1021.2 2196.7,1021.4 2197.3,1021.5 2197.8,1021.9 2198.4,1022.2 2198.9,1022.1 2199.5,1022.1 2200.1,1021.5 2200.6,1021.8 2201.2,1021.6 2201.7,1021.4 2202.3,1022.8 2202.9,1020.0 2203.4,1022.3 2204.0,1020.3 2204.5,1021.5 2205.1,1022.7 2205.7,1022.0 2206.2,1023.0 2206.8,1021.3 2207.3,1022.0 2207.9,1021.7 2208.4,1022.4 2209.0,1022.1 2209.6,1022.0 2210.1,1022.6 2210.7,1023.1 2211.2,1022.7 2211.8,1022.6 2212.4,1022.3 2212.9,1021.8 2213.5,1021.1 2214.0,1021.5 2214.6,1022.7 2215.2,1020.7 2215.7,1023.2 2216.3,1022.3 2216.8,1021.8 2217.4,1022.2 2218.0,1023.3 2218.5,1023.2 2219.1,1023.2 2219.6,1023.8 2220.2,1024.1 2220.7,1021.7 2221.3,1023.6 2221.9,1022.4 2222.4,1021.8 2223.0,1022.7 2223.5,1023.8 2224.1,1022.7 2224.7,1022.9 2225.2,1024.0 2225.8,1023.7 2226.3,1023.4 2226.9,1024.3 2227.5,1023.8 2228.0,1022.9 2228.6,1022.6 2229.1,1023.3 2229.7,1023.8 2230.2,1024.1 2230.8,1024.1 2231.4,1023.8 2231.9,1022.7 2232.5,1024.2 2233.0,1023.9 2233.6,1022.9 2234.2,1022.7 2234.7,1024.0 2235.3,1024.1 2235.8,1024.3 2236.4,1022.9 2237.0,1024.8 2237.5,1022.4 2238.1,1024.1 2238.6,1024.6 2239.2,1024.5 2239.7,1023.3 2240.3,1024.4 2240.9,1024.7 2241.4,1024.5 2242.0,1023.4 2242.5,1024.9 2243.1,1022.8 2243.7,1024.4 2244.2,1023.4 2244.8,1024.0 2245.3,1024.1 2245.9,1024.7 2246.5,1023.4 2247.0,1024.6 2247.6,1025.0 2248.1,1024.6 2248.7,1024.8 2249.2,1024.8 2249.8,1024.0 2250.4,1024.3 2250.9,1024.7 2251.5,1024.9 2252.0,1025.5 2252.6,1025.3 2253.2,1024.4 2253.7,1024.5 2254.3,1024.0 2254.8,1022.9 2255.4,1025.4 2256.0,1025.1 2256.5,1023.3 2257.1,1025.0 2257.6,1025.8 2258.2,1025.2 2258.8,1025.3 2259.3,1025.2 2259.9,1024.5 2260.4,1024.2 2261.0,1024.5 2261.5,1025.3 2262.1,1025.1 2262.7,1025.5 2263.2,1025.9 2263.8,1025.5 2264.3,1025.7 2264.9,1025.1 2265.5,1023.7 2266.0,1026.1 2266.6,1025.7 2267.1,1025.9 2267.7,1025.3 2268.3,1024.3 2268.8,1026.0 2269.4,1024.0 2269.9,1025.5 2270.5,1025.3 2271.0,1025.8 2271.6,1026.0 2272.2,1026.0 2272.7,1024.2 2273.3,1026.1 2273.8,1024.4 2274.4,1026.1 2275.0,1025.6 2275.5,1025.1 2276.1,1025.5 2276.6,1025.0 2277.2,1025.9 2277.8,1026.2 2278.3,1026.2 2278.9,1026.0 2279.4,1026.3 2280.0,1026.2 2280.5,1026.6 2281.1,1026.2 2281.7,1025.7 2282.2,1025.9 2282.8,1025.6 2283.3,1025.9 2283.9,1026.0 2284.5,1026.3 2285.0,1026.4 2285.6,1026.2 2286.1,1026.3 2286.7,1025.7 2287.3,1025.9 2287.8,1024.6 2288.4,1025.7 2288.9,1025.9 2289.5,1026.9 2290.0,1025.4 2290.6,1026.3 2291.2,1026.1 2291.7,1025.3 2292.3,1026.4 2292.8,1026.4 2293.4,1025.5 2294.0,1024.9 2294.5,1026.4 2295.1,1024.9 2295.6,1026.6 2296.2,1026.3 2296.8,1026.6 2297.3,1026.3 2297.9,1026.9 2298.4,1026.7 2299.0,1026.9 2299.6,1026.6 2300.1,1026.0 2300.7,1025.8 2301.2,1026.3 2301.8,1026.7 2302.3,1026.3 2302.9,1027.2 2303.5,1026.7 2304.0,1026.8 2304.6,1026.7 2305.1,1026.0 2305.7,1027.0 2306.3,1026.9 2306.8,1027.0 2307.4,1026.3 2307.9,1026.8 2308.5,1026.8 2309.1,1027.1 2309.6,1026.1 2310.2,1027.0 2310.7,1027.2 2311.3,1026.5 2311.8,1026.5 2312.4,1027.3 2313.0,1027.0 2313.5,1027.3 2314.1,1027.2 2314.6,1027.3 2315.2,1027.0 2315.8,1025.8 2316.3,1027.2 2316.9,1026.7 2317.4,1027.3 2318.0,1026.8 2318.6,1027.5 2319.1,1027.0 2319.7,1027.4 2320.2,1027.4 2320.8,1027.2 2321.3,1027.3 2321.9,1027.2 2322.5,1026.7 2323.0,1027.6 2323.6,1026.8 2324.1,1026.4 2324.7,1027.1 2325.3,1027.4 2325.8,1027.4 2326.4,1027.2 2326.9,1027.1 2327.5,1026.2 2328.1,1027.6 2328.6,1027.8 2329.2,1027.1 2329.7,1026.4 2330.3,1027.7 2330.8,1027.4 2331.4,1025.2 2332.0,1027.1 2332.5,1026.7 2333.1,1026.9 2333.6,1028.0 2334.2,1027.8 2334.8,1027.5 2335.3,1027.7 2335.9,1028.0 2336.4,1027.1 2337.0,1027.9 2337.6,1027.4 2338.1,1027.9 2338.7,1027.8 2339.2,1027.0 2339.8,1028.0 2340.4,1027.9 2340.9,1028.2 2341.5,1027.6 2342.0,1027.8 2342.6,1027.4 2343.1,1028.1 2343.7,1027.4 2344.3,1027.8 2344.8,1028.2 2345.4,1028.0 2345.9,1027.9 2346.5,1028.0 2347.1,1028.0 2347.6,1028.1 2348.2,1027.8 2348.7,1026.8 2349.3,1028.2 2349.9,1027.4 2350.4,1028.4 2351.0,1028.0 2351.5,1028.7 2352.1,1028.3 2352.6,1028.1 2353.2,1028.2 2353.8,1027.2 2354.3,1028.1 2354.9,1027.9 2355.4,1028.1 2356.0,1026.9 2356.6,1026.8 2357.1,1028.3 2357.7,1028.1 2358.2,1027.9 2358.8,1028.1 2359.4,1027.8 2359.9,1027.9 2360.5,1028.3 2361.0,1028.0 2361.6,1028.3 2362.1,1027.8 2362.7,1027.1 2363.3,1027.8 2363.8,1028.1 2364.4,1027.1 2364.9,1027.8 2365.5,1027.9 2366.1,1028.5 2366.6,1028.5 2367.2,1028.5 2367.7,1027.8 2368.3,1028.4 2368.9,1028.6 2369.4,1028.4 2370.0,1028.3 2370.5,1027.9 2371.1,1028.5 2371.6,1028.4 2372.2,1028.6 2372.8,1028.3 2373.3,1028.8 2373.9,1028.4 2374.4,1027.7 2375.0,1028.5 2375.6,1028.5 2376.1,1028.7 2376.7,1028.2 2377.2,1028.1 2377.8,1028.3 2378.4,1028.3 2378.9,1027.3 2379.5,1028.7 2380.0,1028.8 2380.6,1028.1 2381.1,1028.0 2381.7,1028.5 2382.3,1028.1 2382.8,1028.7 2383.4,1028.2 2383.9,1028.7 2384.5,1027.9 2385.1,1027.8 2385.6,1027.7 2386.2,1027.8 2386.7,1028.7 2387.3,1028.8 2387.9,1028.7 2388.4,1028.7 2389.0,1027.4 2389.5,1028.9 2390.1,1028.0 2390.7,1029.0 2391.2,1029.3 2391.8,1028.8 2392.3,1028.9 2392.9,1028.9 2393.4,1028.0 2394.0,1028.1 2394.6,1028.4 2395.1,1028.8 2395.7,1029.0 2396.2,1028.9 2396.8,1029.1 2397.4,1028.6 2397.9,1028.1 2398.5,1028.9 2399.0,1028.9 2399.6,1028.1 2400.2,1029.1 2400.7,1028.4 2401.3,1028.5 2401.8,1029.0 2402.4,1028.4 2402.9,1029.1 2403.5,1029.1 2404.1,1029.1 2404.6,1029.0 2405.2,1028.8 2405.7,1028.6 2406.3,1029.2 2406.9,1029.4 2407.4,1029.3 2408.0,1029.2 2408.5,1029.4 2409.1,1029.5 2409.7,1028.5 2410.2,1029.2 2410.8,1029.5 2411.3,1028.9 2411.9,1029.0 2412.4,1029.4 2413.0,1029.2 2413.6,1029.6 2414.1,1029.1 2414.7,1029.4 2415.2,1029.9 2415.8,1029.6 2416.4,1028.6 2416.9,1028.8 2417.5,1028.8 2418.0,1029.4 2418.6,1028.6 2419.2,1029.5 2419.7,1029.8 2420.3,1029.7 2420.8,1029.0 2421.4,1029.3 2421.9,1029.3 2422.5,1029.0 2423.1,1029.8 2423.6,1029.1 2424.2,1028.9 2424.7,1029.6 2425.3,1029.6 2425.9,1029.8 2426.4,1029.8 2427.0,1029.4 2427.5,1028.4 2428.1,1029.7 2428.7,1029.7 2429.2,1029.9 2429.8,1028.7 2430.3,1028.9 2430.9,1029.9 2431.5,1029.9 2432.0,1029.9 2432.6,1029.6 2433.1,1029.9 2433.7,1029.3 2434.2,1028.9 2434.8,1029.6 2435.4,1029.7 2435.9,1029.8 2436.5,1029.9 2437.0,1028.0 2437.6,1029.7 2438.2,1029.8 2438.7,1029.0 2439.3,1029.6 2439.8,1029.7 2440.4,1029.8 2441.0,1029.3 2441.5,1029.4 2442.1,1029.1 2442.6,1029.8 2443.2,1029.6 2443.7,1029.4 2444.3,1029.9 2444.9,1029.7 2445.4,1029.1 2446.0,1030.1 2446.5,1030.0 2447.1,1029.9 2447.7,1029.3 2448.2,1030.1 2448.8,1029.5 2449.3,1028.8 2449.9,1029.8 2450.5,1030.3 2451.0,1029.6 2451.6,1030.0 2452.1,1030.2 2452.7,1030.0 2453.2,1029.7 2453.8,1029.9 2454.4,1030.1 2454.9,1029.7 2455.5,1030.0 2456.0,1030.1 2456.6,1029.8 2457.2,1030.1 2457.7,1030.1 2458.3,1029.7 2458.8,1029.9 2459.4,1030.1 2460.0,1030.0 2460.5,1029.9 2461.1,1029.5 2461.6,1030.1 2462.2,1030.2 2462.7,1030.2 2463.3,1029.6 2463.9,1030.2 2464.4,1030.2 2465.0,1029.6 2465.5,1030.2 2466.1,1030.0 2466.7,1029.9 2467.2,1030.2 2467.8,1030.0 2468.3,1028.1 2468.9,1030.2 2469.5,1029.6 2470.0,1030.1 2470.6,1030.4 2471.1,1030.1 2471.7,1030.0 2472.3,1030.3 2472.8,1030.4 2473.4,1029.8 2473.9,1029.9 2474.5,1030.4 2475.0,1030.6 2475.6,1030.3 2476.2,1030.5 2476.7,1029.9 2477.3,1030.3 2477.8,1030.4 2478.4,1029.6 2479.0,1030.3 2479.5,1030.2 2480.1,1029.0 2480.6,1030.3 2481.2,1030.4 2481.8,1030.4 2482.3,1030.5 2482.9,1029.8 2483.4,1030.0 2484.0,1030.3 2484.5,1030.0 2485.1,1030.2 2485.7,1030.7 2486.2,1030.0 2486.8,1030.3 2487.3,1030.9 2487.9,1030.4 2488.5,1030.0 2489.0,1030.6 2489.6,1030.6 2490.1,1030.6 2490.7,1029.7 2491.3,1030.6 2491.8,1030.6 2492.4,1031.0 2492.9,1030.7 2493.5,1030.4 2494.0,1030.7 2494.6,1030.7 2495.2,1030.5 2495.7,1030.6 2496.3,1030.9 2496.8,1030.8 2497.4,1030.8 2498.0,1030.2 2498.5,1030.8 2499.1,1029.7 2499.6,1031.0 2500.2,1030.5 2500.8,1030.9 2501.3,1031.0 2501.9,1030.2 2502.4,1031.0 2503.0,1030.8 2503.5,1031.0 2504.1,1030.6 2504.7,1030.5 2505.2,1031.1 2505.8,1030.9 2506.3,1030.8 2506.9,1030.3 2507.5,1031.1 2508.0,1030.7 2508.6,1030.8 2509.1,1030.3 2509.7,1030.9 2510.3,1031.0 2510.8,1030.9 2511.4,1030.9 2511.9,1030.7 2512.5,1031.2 2513.1,1031.3 2513.6,1030.8 2514.2,1030.5 2514.7,1031.0 2515.3,1030.2 2515.8,1031.0 2516.4,1031.0 2517.0,1031.0 2517.5,1031.3 2518.1,1031.4 2518.6,1031.1 2519.2,1030.9 2519.8,1031.2 2520.3,1031.3 2520.9,1030.5 2521.4,1030.7 2522.0,1031.0 2522.6,1030.3 2523.1,1030.5 2523.7,1031.4 2524.2,1030.5 2524.8,1031.3 2525.3,1030.7 2525.9,1031.3 2526.5,1031.2 2527.0,1031.3 2527.6,1030.5 2528.1,1031.2 2528.7,1030.9 2529.3,1031.3 2529.8,1031.3 2530.4,1031.2 2530.9,1031.2 2531.5,1031.2 2532.1,1031.3 2532.6,1031.0 2533.2,1031.1 2533.7,1031.0 2534.3,1030.8 2534.8,1031.5 2535.4,1030.6 2536.0,1031.6 2536.5,1031.5 2537.1,1030.5 2537.6,1030.4 2538.2,1031.3 2538.8,1030.8 2539.3,1031.4 2539.9,1031.6 2540.4,1031.4 2541.0,1031.3 2541.6,1031.3 2542.1,1031.7 2542.7,1031.1 2543.2,1031.8 2543.8,1031.8 2544.3,1031.3 2544.9,1031.5 2545.5,1031.8 2546.0,1031.1 2546.6,1031.6 2547.1,1031.7 2547.7,1031.0 2548.3,1031.6 2548.8,1031.5 2549.4,1031.3 2549.9,1031.8 2550.5,1031.5 2551.1,1032.0 2551.6,1031.7 2552.2,1031.3 2552.7,1031.6 2553.3,1031.2 2553.8,1031.8 2554.4,1031.7 2555.0,1031.1 2555.5,1031.5 2556.1,1031.7 2556.6,1031.7 2557.2,1031.2 2557.8,1031.9 2558.3,1031.9 2558.9,1031.0 2559.4,1032.0 2560.0,1030.7 2560.6,1031.7 2561.1,1031.4 2561.7,1031.5 2562.2,1031.7 2562.8,1031.2 2563.4,1031.7 2563.9,1032.1 2564.5,1031.8 2565.0,1032.0 2565.6,1031.9 2566.1,1031.0 2566.7,1032.1 2567.3,1031.9 2567.8,1031.9 2568.4,1031.6 2568.9,1031.6 2569.5,1031.3 2570.1,1031.8 2570.6,1031.8 2571.2,1031.8 2571.7,1031.8 2572.3,1030.3 2572.9,1031.5 2573.4,1031.5 2574.0,1031.9 2574.5,1031.7 2575.1,1031.7 2575.6,1031.9 2576.2,1031.7 2576.8,1031.8 2577.3,1032.1 2577.9,1031.9 2578.4,1031.5 2579.0,1032.0 2579.6,1032.1 2580.1,1032.1 2580.7,1031.3 2581.2,1032.1 2581.8,1032.0 2582.4,1032.0 2582.9,1032.0 2583.5,1032.1 2584.0,1032.1 2584.6,1032.3 2585.1,1032.1 2585.7,1032.0 2586.3,1032.2 2586.8,1032.0 2587.4,1032.3 2587.9,1032.1 2588.5,1032.2 2589.1,1031.8 2589.6,1032.3 2590.2,1032.2 2590.7,1031.7 2591.3,1031.9 2591.9,1032.1 2592.4,1031.5 2593.0,1031.6 2593.5,1032.2 2594.1,1032.2 2594.6,1032.4 2595.2,1031.6 2595.8,1032.0 2596.3,1031.2 2596.9,1032.5 2597.4,1031.6 2598.0,1032.1 2598.6,1032.6 2599.1,1032.5 2599.7,1031.5 2600.2,1032.6 2600.8,1032.3 2601.4,1031.4 2601.9,1032.3 2602.5,1032.4 2603.0,1032.4 2603.6,1031.3 2604.2,1032.6 2604.7,1031.5 2605.3,1032.2 2605.8,1032.6 2606.4,1032.4 2606.9,1032.3 2607.5,1032.0 2608.1,1032.4 2608.6,1032.6 2609.2,1032.1 2609.7,1032.4 2610.3,1032.2 2610.9,1032.2 2611.4,1031.4 2612.0,1032.4 2612.5,1032.6 2613.1,1032.3 2613.7,1032.6 2614.2,1032.4 2614.8,1032.6 2615.3,1032.5 2615.9,1032.3 2616.4,1032.2 2617.0,1032.5 2617.6,1032.5 2618.1,1032.1 2618.7,1032.4 2619.2,1031.9 2619.8,1031.9 2620.4,1032.6 2620.9,1032.6 2621.5,1032.7 2622.0,1032.5 2622.6,1032.6 2623.2,1032.9 2623.7,1031.9 2624.3,1032.6 2624.8,1032.8 2625.4,1032.9 2625.9,1032.7 2626.5,1032.5 2627.1,1032.1 2627.6,1032.5 2628.2,1032.6 2628.7,1032.6 2629.3,1032.7 2629.9,1032.7 2630.4,1032.4 2631.0,1032.2 2631.5,1032.5 2632.1,1032.7 2632.7,1032.9 2633.2,1031.9 2633.8,1032.9 2634.3,1032.6 2634.9,1032.9 2635.4,1033.0 2636.0,1032.8 2636.6,1032.2 2637.1,1032.5 2637.7,1032.8 2638.2,1032.6 2638.8,1032.7 2639.4,1032.4 2639.9,1032.6 2640.5,1032.5 2641.0,1032.9 2641.6,1032.8 2642.2,1032.9 2642.7,1032.0 2643.3,1032.6 2643.8,1032.5 2644.4,1032.6 2645.0,1032.4 2645.5,1032.5 2646.1,1033.1 2646.6,1032.7 2647.2,1032.3 2647.7,1032.7 2648.3,1033.3 2648.9,1033.0 2649.4,1032.5 2650.0,1032.8 2650.5,1032.9 2651.1,1032.9 2651.7,1032.1 2652.2,1032.5 2652.8,1032.9 2653.3,1032.1 2653.9,1032.9 2654.5,1033.0 2655.0,1033.1 2655.6,1033.1 2656.1,1032.8 2656.7,1033.0 2657.2,1033.1 2657.8,1033.2 2658.4,1033.0 2658.9,1032.7 2659.5,1033.1 2660.0,1033.2 2660.6,1033.1 2661.2,1033.1 2661.7,1033.3 2662.3,1032.8 2662.8,1032.7 2663.4,1032.6 2664.0,1033.1 2664.5,1033.2 2665.1,1032.9 2665.6,1033.4 2666.2,1032.8 2666.7,1033.2 2667.3,1033.1 2667.9,1033.4 2668.4,1032.9 2669.0,1033.4 2669.5,1033.1 2670.1,1032.6 2670.7,1032.9 2671.2,1033.1 2671.8,1033.5 2672.3,1033.0 2672.9,1033.2 2673.5,1033.6 2674.0,1033.2 2674.6,1032.9 2675.1,1032.9 2675.7,1032.5 2676.2,1033.3 2676.8,1033.5 2677.4,1033.1 2677.9,1032.8 2678.5,1033.3 2679.0,1033.3 2679.6,1033.2 2680.2,1033.4 2680.7,1033.3 2681.3,1033.1 2681.8,1033.5 2682.4,1031.9 2683.0,1032.5 2683.5,1033.2 2684.1,1032.7 2684.6,1033.6 2685.2,1032.4 2685.8,1033.5 2686.3,1033.5 2686.9,1033.4 2687.4,1033.5 2688.0,1033.1 2688.5,1033.1 2689.1,1033.6 2689.7,1033.3 2690.2,1032.7 2690.8,1032.9 2691.3,1032.7 2691.9,1033.5 2692.5,1033.6 2693.0,1033.3 2693.6,1033.5 2694.1,1033.2 2694.7,1033.6 2695.3,1033.6 2695.8,1033.6 2696.4,1033.8 2696.9,1032.9 2697.5,1033.6 2698.0,1032.8 2698.6,1033.6 2699.2,1033.7 2699.7,1033.7 2700.3,1033.7 2700.8,1033.5 2701.4,1033.3 2702.0,1033.7 2702.5,1033.3 2703.1,1033.7 2703.6,1033.2 2704.2,1033.7 2704.8,1033.6 2705.3,1033.2 2705.9,1033.5 2706.4,1033.8 2707.0,1033.6 2707.5,1033.7 2708.1,1033.3 2708.7,1033.7 2709.2,1033.0 2709.8,1033.3 2710.3,1033.9 2710.9,1033.8 2711.5,1033.7 2712.0,1033.7 2712.6,1033.1 2713.1,1033.8 2713.7,1033.2 2714.3,1033.4 2714.8,1033.8 2715.4,1033.4 2715.9,1033.5 2716.5,1033.7 2717.0,1033.8 2717.6,1034.0 2718.2,1033.0 2718.7,1033.6 2719.3,1033.9 2719.8,1033.6 2720.4,1033.5 2721.0,1033.4 2721.5,1033.7 2722.1,1033.9 2722.6,1034.0 2723.2,1033.9 2723.8,1034.0 2724.3,1033.8 2724.9,1033.1 2725.4,1034.0 2726.0,1033.0 2726.6,1033.8 2727.1,1033.8 2727.7,1033.4 2728.2,1033.8 2728.8,1033.6 2729.3,1033.9 2729.9,1033.7 2730.5,1034.0 2731.0,1033.7 2731.6,1034.0 2732.1,1033.9 2732.7,1033.9 2733.3,1033.9 2733.8,1033.7 2734.4,1034.1 2734.9,1034.0 2735.5,1033.0 2736.1,1033.4 2736.6,1034.2 2737.2,1033.8 2737.7,1034.4 2738.3,1034.0 2738.8,1034.1 2739.4,1033.8 2740.0,1033.9 2740.5,1034.0 2741.1,1034.2 2741.6,1034.0 2742.2,1034.0 2742.8,1033.6 2743.3,1033.8 2743.9,1033.8 2744.4,1034.0 2745.0,1033.7 2745.6,1033.6 2746.1,1033.9 2746.7,1033.0 2747.2,1033.4 2747.8,1033.7 2748.3,1034.1 2748.9,1033.8 2749.5,1033.2 2750.0,1034.2 2750.6,1034.0 2751.1,1034.3 2751.7,1034.0 2752.3,1033.8 2752.8,1033.9 2753.4,1034.4 2753.9,1034.4 2754.5,1034.2 2755.1,1034.3 2755.6,1033.5 2756.2,1034.4 2756.7,1034.2 2757.3,1034.1 2757.8,1034.1 2758.4,1034.2 2759.0,1033.8 2759.5,1034.0 2760.1,1033.6 2760.6,1034.5 2761.2,1033.5 2761.8,1034.1 2762.3,1034.4 2762.9,1034.4 2763.4,1034.5 2764.0,1033.9 2764.6,1034.0 2765.1,1034.1 2765.7,1033.4 2766.2,1034.4 2766.8,1033.5 2767.3,1034.1 2767.9,1034.4 2768.5,1034.4 2769.0,1034.0 2769.6,1034.4 2770.1,1034.5 2770.7,1033.5 2771.3,1034.1 2771.8,1034.4 2772.4,1034.4 2772.9,1034.2 2773.5,1034.2 2774.1,1034.7 2774.6,1034.1 2775.2,1034.5 2775.7,1033.8 2776.3,1034.4 2776.9,1034.5 2777.4,1034.1 2778.0,1034.0 2778.5,1034.7 2779.1,1034.3 2779.6,1034.6 2780.2,1033.7 2780.8,1034.7 2781.3,1033.5 2781.9,1033.7 2782.4,1034.1 2783.0,1034.4 2783.6,1034.5 2784.1,1034.7 2784.7,1034.8 2785.2,1034.8 2785.8,1034.6 2786.4,1034.5 2786.9,1033.6 2787.5,1034.4 2788.0,1034.3 2788.6,1034.6 2789.1,1034.1 2789.7,1034.2 2790.3,1034.2 2790.8,1034.7 2791.4,1034.6 2791.9,1034.1 2792.5,1033.3 2793.1,1034.3 2793.6,1034.3 2794.2,1034.3 2794.7,1034.6 2795.3,1034.7 2795.9,1034.7 2796.4,1034.3 2797.0,1034.3 2797.5,1034.9 2798.1,1034.5 2798.6,1034.8 2799.2,1034.7 2799.8,1034.7 2800.3,1034.9 2800.9,1034.6 2801.4,1034.9 2802.0,1034.8 2802.6,1034.6 2803.1,1034.5 2803.7,1034.5 2804.2,1034.9 2804.8,1034.9 2805.4,1034.4 2805.9,1034.8 2806.5,1034.0 2807.0,1034.8 2807.6,1035.1 2808.1,1034.3 2808.7,1034.8 2809.3,1034.5 2809.8,1034.8 2810.4,1034.3 2810.9,1034.8 2811.5,1033.1 2812.1,1034.7 2812.6,1034.6 2813.2,1034.8 2813.7,1035.1 2814.3,1034.3 2814.9,1034.5 2815.4,1034.3 2816.0,1034.9 2816.5,1034.8 2817.1,1034.0 2817.7,1035.0 2818.2,1034.9 2818.8,1035.1 2819.3,1035.0 2819.9,1034.9 2820.4,1034.6 2821.0,1034.0 2821.6,1034.6 2822.1,1035.1 2822.7,1034.8 2823.2,1034.6 2823.8,1035.0 2824.4,1035.0 2824.9,1035.4 2825.5,1034.5 2826.0,1034.8 2826.6,1034.1 2827.2,1034.6 2827.7,1035.1 2828.3,1034.9 2828.8,1034.4 2829.4,1035.2 2829.9,1035.3 2830.5,1035.1 2831.1,1034.6 2831.6,1034.5 2832.2,1035.2 2832.7,1034.6" fill="none" stroke="#A23B72" stroke-opacity="0.8" stroke-width="10.42" stroke-linejoin="round" stroke-linecap="round"/>
<polyline points="3187.2,1045.3 3187.8,1041.5 3188.3,1038.7 3188.9,1037.0 3189.4,1037.0 3190.0,1026.9 3190.6,1020.5 3191.1,1015.2 3191.7,1018.9 3192.2,1023.0 3192.8,1005.0 3193.3,990.1 3193.9,985.2 3194.5,1012.9 3195.0,983.0 3195.6,945.7 3196.1,939.4 3196.7,909.6 3197.3,898.1 3197.8,886.8 3198.4,871.8 3198.9,894.9 3199.5,853.9 3200.1,831.0 3200.6,824.4 3201.2,811.9 3201.7,752.6 3202.3,762.0 3202.8,743.0 3203.4,745.4 3204.0,720.2 3204.5,727.6 3205.1,713.7 3205.6,697.5 3206.2,680.2 3206.8,685.3 3207.3,669.5 3207.9,660.3 3208.4,685.6 3209.0,654.0 3209.6,714.8 3210.1,691.6 3210.7,626.0 3211.2,664.1 3211.8,630.9 3212.4,645.1 3212.9,641.0 3213.5,603.1 3214.0,622.4 3214.6,613.2 3215.1,649.0 3215.7,581.2 3216.3,624.5 3216.8,569.0 3217.4,574.5 3217.9,559.5 3218.5,630.0 3219.1,588.0 3219.6,663.1 3220.2,582.2 3220.7,586.4 3221.3,581.8 3221.9,531.2 3222.4,534.9 3223.0,588.8 3223.5,518.3 3224.1,527.4 3224.6,513.3 3225.2,535.4 3225.8,500.0 3226.3,500.4 3226.9,510.1 3227.4,501.2 3228.0,480.1 3228.6,527.9 3229.1,467.5 3229.7,466.1 3230.2,461.2 3230.8,514.9 3231.4,465.8 3231.9,451.9 3232.5,444.8 3233.0,469.7 3233.6,429.4 3234.1,417.9 3234.7,451.5 3235.3,403.4 3235.8,408.1 3236.4,404.8 3236.9,390.9 3237.5,392.6 3238.1,438.2 3238.6,379.9 3239.2,366.9 3239.7,356.1 3240.3,374.6 3240.9,369.6 3241.4,379.9 3242.0,361.9 3242.5,358.6 3243.1,352.5 3243.6,352.1 3244.2,360.9 3244.8,348.7 3245.3,353.8 3245.9,406.1 3246.4,359.9 3247.0,325.2 3247.6,391.2 3248.1,347.8 3248.7,325.0 3249.2,358.1 3249.8,331.4 3250.4,323.3 3250.9,322.0 3251.5,317.2 3252.0,327.1 3252.6,352.0 3253.2,320.2 3253.7,332.5 3254.3,366.7 3254.8,308.4 3255.4,324.3 3255.9,314.3 3256.5,306.5 3257.1,305.1 3257.6,311.1 3258.2,318.0 3258.7,301.7 3259.3,304.6 3259.9,315.6 3260.4,304.1 3261.0,312.8 3261.5,301.8 3262.1,300.5 3262.7,325.5 3263.2,308.8 3263.8,289.0 3264.3,298.9 3264.9,276.8 3265.4,279.7 3266.0,296.0 3266.6,291.4 3267.1,307.3 3267.7,276.8 3268.2,264.6 3268.8,310.0 3269.4,292.6 3269.9,263.6 3270.5,295.0 3271.0,269.1 3271.6,254.7 3272.2,263.1 3272.7,261.3 3273.3,291.9 3273.8,256.9 3274.4,259.3 3274.9,257.9 3275.5,256.0 3276.1,251.2 3276.6,259.8 3277.2,286.6 3277.7,264.9 3278.3,247.3 3278.9,245.0 3279.4,253.4 3280.0,246.1 3280.5,245.6 3281.1,238.2 3281.7,279.7 3282.2,261.8 3282.8,239.9 3283.3,259.6 3283.9,265.5 3284.4,228.8 3285.0,239.0 3285.6,239.0 3286.1,250.5 3286.7,238.8 3287.2,237.4 3287.8,237.6 3288.4,265.3 3288.9,269.0 3289.5,232.7 3290.0,229.6 3290.6,273.8 3291.2,227.9 3291.7,229.4 3292.3,232.6 3292.8,237.9 3293.4,244.8 3293.9,234.9 3294.5,224.0 3295.1,234.9 3295.6,230.5 3296.2,252.1 3296.7,225.5 3297.3,218.0 3297.9,218.9 3298.4,242.8 3299.0,220.1 3299.5,211.6 3300.1,218.6 3300.7,220.7 3301.2,235.3 3301.8,214.4 3302.3,227.1 3302.9,228.0 3303.5,213.8 3304.0,215.7 3304.6,238.2 3305.1,236.9 3305.7,225.6 3306.2,218.6 3306.8,227.9 3307.4,212.8 3307.9,212.5 3308.5,208.5 3309.0,212.0 3309.6,211.0 3310.2,243.7 3310.7,209.5 3311.3,224.7 3311.8,224.7 3312.4,208.0 3313.0,221.7 3313.5,198.4 3314.1,208.5 3314.6,216.7 3315.2,196.4 3315.7,201.3 3316.3,217.5 3316.9,204.4 3317.4,200.5 3318.0,203.1 3318.5,202.1 3319.1,211.7 3319.7,208.4 3320.2,202.0 3320.8,200.1 3321.3,202.1 3321.9,215.8 3322.5,205.2 3323.0,207.8 3323.6,200.3 3324.1,195.6 3324.7,197.6 3325.2,206.6 3325.8,200.9 3326.4,196.2 3326.9,193.4 3327.5,200.2 3328.0,197.7 3328.6,197.4 3329.2,197.2 3329.7,200.9 3330.3,200.7 3330.8,206.7 3331.4,206.1 3332.0,209.5 3332.5,204.3 3333.1,195.5 3333.6,196.1 3334.2,200.4 3334.7,194.4 3335.3,200.1 3335.9,205.1 3336.4,191.6 3337.0,187.9 3337.5,204.1 3338.1,193.3 3338.7,199.0 3339.2,187.9 3339.8,207.1 3340.3,198.0 3340.9,190.7 3341.5,189.6 3342.0,191.3 3342.6,189.4 3343.1,188.7 3343.7,185.7 3344.3,199.5 3344.8,188.5 3345.4,188.9 3345.9,188.8 3346.5,180.3 3347.0,191.7 3347.6,186.1 3348.2,185.9 3348.7,187.0 3349.3,183.2 3349.8,192.6 3350.4,183.4 3351.0,182.5 3351.5,182.3 3352.1,185.8 3352.6,190.1 3353.2,182.2 3353.8,179.1 3354.3,191.2 3354.9,179.5 3355.4,191.2 3356.0,181.5 3356.5,179.2 3357.1,178.9 3357.7,183.7 3358.2,186.4 3358.8,178.8 3359.3,185.8 3359.9,193.6 3360.5,177.4 3361.0,174.6 3361.6,174.7 3362.1,173.6 3362.7,175.4 3363.3,175.0 3363.8,173.2 3364.4,180.2 3364.9,169.5 3365.5,172.7 3366.0,189.6 3366.6,182.7 3367.2,179.0 3367.7,178.3 3368.3,186.9 3368.8,178.4 3369.4,175.2 3370.0,171.4 3370.5,174.1 3371.1,172.5 3371.6,172.5 3372.2,172.5 3372.8,174.1 3373.3,173.4 3373.9,183.4 3374.4,171.0 3375.0,173.7 3375.5,185.5 3376.1,174.3 3376.7,181.3 3377.2,180.9 3377.8,181.9 3378.3,178.4 3378.9,170.9 3379.5,173.3 3380.0,173.1 3380.6,170.5 3381.1,172.9 3381.7,171.1 3382.3,170.2 3382.8,174.9 3383.4,173.5 3383.9,172.0 3384.5,171.3 3385.1,172.0 3385.6,172.1 3386.2,171.9 3386.7,172.5 3387.3,171.5 3387.8,174.3 3388.4,174.8 3389.0,173.7 3389.5,170.4 3390.1,170.3 3390.6,173.6 3391.2,170.8 3391.8,170.9 3392.3,166.1 3392.9,165.6 3393.4,172.3 3394.0,172.1 3394.6,177.2 3395.1,173.8 3395.7,171.3 3396.2,170.2 3396.8,167.5 3397.3,174.1 3397.9,168.8 3398.5,172.1 3399.0,170.6 3399.6,170.8 3400.1,173.5 3400.7,168.6 3401.3,168.7 3401.8,167.8 3402.4,168.5 3402.9,176.2 3403.5,168.3 3404.1,173.9 3404.6,172.2 3405.2,171.7 3405.7,171.9 3406.3,166.9 3406.8,169.9 3407.4,174.7 3408.0,167.2 3408.5,168.2 3409.1,167.3 3409.6,169.5 3410.2,166.7 3410.8,174.4 3411.3,167.7 3411.9,166.1 3412.4,174.9 3413.0,171.8 3413.6,170.1 3414.1,170.2 3414.7,167.8 3415.2,168.0 3415.8,170.8 3416.3,171.4 3416.9,171.4 3417.5,169.0 3418.0,167.7 3418.6,168.0 3419.1,171.8 3419.7,172.9 3420.3,167.8 3420.8,167.6 3421.4,172.1 3421.9,170.5 3422.5,170.3 3423.1,166.6 3423.6,167.7 3424.2,167.5 3424.7,168.7 3425.3,166.1 3425.9,172.0 3426.4,169.0 3427.0,169.4 3427.5,166.7 3428.1,168.0 3428.6,172.0 3429.2,166.2 3429.8,168.9 3430.3,170.0 3430.9,167.1 3431.4,170.3 3432.0,167.5 3432.6,171.4 3433.1,169.4 3433.7,168.4 3434.2,173.5 3434.8,170.1 3435.4,171.4 3435.9,166.4 3436.5,166.9 3437.0,169.9 3437.6,171.9 3438.1,167.5 3438.7,169.7 3439.3,166.3 3439.8,168.0 3440.4,166.2 3440.9,168.3 3441.5,166.8 3442.1,166.6 3442.6,167.4 3443.2,175.5 3443.7,166.2 3444.3,166.5 3444.9,169.9 3445.4,166.7 3446.0,171.7 3446.5,167.6 3447.1,167.2 3447.6,167.9 3448.2,171.4 3448.8,168.6 3449.3,168.2 3449.9,167.9 3450.4,165.3 3451.0,165.9 3451.6,170.4 3452.1,168.7 3452.7,167.9 3453.2,168.2 3453.8,166.1 3454.4,167.4 3454.9,165.7 3455.5,167.4 3456.0,165.8 3456.6,166.2 3457.1,167.5 3457.7,166.0 3458.3,167.8 3458.8,167.3 3459.4,167.1 3459.9,169.3 3460.5,164.9 3461.1,164.7 3461.6,167.5 3462.2,168.2 3462.7,170.6 3463.3,167.7 3463.9,167.8 3464.4,165.2 3465.0,167.6 3465.5,167.4 3466.1,165.0 3466.6,165.1 3467.2,165.7 3467.8,166.4 3468.3,163.4 3468.9,165.9 3469.4,166.2 3470.0,165.5 3470.6,166.2 3471.1,166.6 3471.7,164.8 3472.2,166.5 3472.8,165.4 3473.4,164.8 3473.9,166.0 3474.5,168.5 3475.0,164.4 3475.6,164.2 3476.2,164.2 3476.7,169.3 3477.3,165.2 3477.8,165.4 3478.4,164.8 3478.9,164.7 3479.5,163.9 3480.1,165.6 3480.6,165.8 3481.2,163.9 3481.7,164.5 3482.3,164.7 3482.9,165.2 3483.4,165.7 3484.0,167.2 3484.5,167.6 3485.1,167.0 3485.7,167.5 3486.2,164.3 3486.8,164.7 3487.3,167.0 3487.9,165.5 3488.4,165.1 3489.0,163.7 3489.6,163.8 3490.1,166.2 3490.7,165.5 3491.2,164.7 3491.8,164.7 3492.4,163.8 3492.9,165.5 3493.5,166.5 3494.0,167.4 3494.6,164.9 3495.2,164.7 3495.7,164.1 3496.3,166.6 3496.8,167.3 3497.4,164.4 3497.9,165.1 3498.5,164.8 3499.1,164.4 3499.6,163.3 3500.2,164.4 3500.7,165.5 3501.3,163.8 3501.9,164.1 3502.4,162.8 3503.0,166.4 3503.5,165.2 3504.1,164.6 3504.7,164.3 3505.2,164.1 3505.8,164.4 3506.3,164.2 3506.9,164.3 3507.4,164.4 3508.0,164.5 3508.6,166.5 3509.1,163.5 3509.7,164.7 3510.2,163.9 3510.8,163.6 3511.4,163.0 3511.9,165.0 3512.5,163.7 3513.0,163.8 3513.6,164.8 3514.2,163.6 3514.7,164.1 3515.3,164.0 3515.8,165.1 3516.4,165.4 3517.0,163.6 3517.5,165.2 3518.1,163.9 3518.6,164.1 3519.2,163.8 3519.7,164.9 3520.3,163.3 3520.9,164.2 3521.4,165.4 3522.0,163.7 3522.5,166.5 3523.1,163.4 3523.7,164.0 3524.2,163.5 3524.8,163.4 3525.3,163.1 3525.9,163.4 3526.5,163.6 3527.0,163.2 3527.6,164.7 3528.1,165.5 3528.7,162.8 3529.2,164.6 3529.8,163.8 3530.4,163.8 3530.9,166.6 3531.5,165.0 3532.0,163.9 3532.6,163.7 3533.2,162.4 3533.7,164.4 3534.3,163.0 3534.8,163.6 3535.4,163.5 3536.0,164.5 3536.5,165.8 3537.1,164.5 3537.6,164.8 3538.2,163.1 3538.7,163.8 3539.3,164.1 3539.9,162.5 3540.4,165.6 3541.0,162.8 3541.5,162.5 3542.1,165.1 3542.7,165.6 3543.2,162.7 3543.8,162.7 3544.3,166.7 3544.9,163.1 3545.5,162.1 3546.0,162.7 3546.6,165.3 3547.1,163.7 3547.7,163.7 3548.2,164.3 3548.8,163.6 3549.4,162.6 3549.9,162.0 3550.5,163.2 3551.0,162.2 3551.6,162.6 3552.2,164.7 3552.7,163.2 3553.3,162.7 3553.8,162.6 3554.4,163.4 3555.0,164.3 3555.5,161.9 3556.1,162.7 3556.6,164.4 3557.2,163.3 3557.8,162.1 3558.3,162.1 3558.9,161.5 3559.4,162.0 3560.0,164.1 3560.5,162.2 3561.1,161.9 3561.7,162.0 3562.2,162.1 3562.8,162.1 3563.3,162.0 3563.9,161.8 3564.5,162.8 3565.0,163.7 3565.6,161.8 3566.1,161.8 3566.7,163.2 3567.3,161.4 3567.8,161.7 3568.4,161.7 3568.9,162.0 3569.5,161.7 3570.0,161.5 3570.6,162.1 3571.2,161.3 3571.7,161.1 3572.3,160.9 3572.8,162.5 3573.4,161.0 3574.0,162.1 3574.5,162.3 3575.1,162.4 3575.6,161.5 3576.2,161.3 3576.8,161.6 3577.3,161.3 3577.9,161.0 3578.4,162.7 3579.0,161.1 3579.5,164.4 3580.1,162.2 3580.7,161.2 3581.2,162.0 3581.8,162.5 3582.3,160.7 3582.9,160.9 3583.5,160.8 3584.0,161.3 3584.6,161.5 3585.1,161.2 3585.7,160.8 3586.3,160.9 3586.8,162.2 3587.4,162.1 3587.9,161.1 3588.5,160.5 3589.0,161.5 3589.6,161.2 3590.2,161.1 3590.7,162.5 3591.3,161.6 3591.8,160.5 3592.4,160.5 3593.0,162.0 3593.5,160.9 3594.1,161.5 3594.6,160.6 3595.2,160.3 3595.8,160.9 3596.3,162.0 3596.9,160.9 3597.4,160.2 3598.0,160.4 3598.6,160.4 3599.1,160.7 3599.7,161.4 3600.2,162.2 3600.8,160.7 3601.3,160.3 3601.9,160.6 3602.5,160.4 3603.0,160.2 3603.6,160.4 3604.1,160.3 3604.7,159.9 3605.3,160.7 3605.8,160.1 3606.4,159.8 3606.9,160.6 3607.5,160.0 3608.1,161.7 3608.6,160.6 3609.2,160.2 3609.7,159.8 3610.3,159.9 3610.8,160.8 3611.4,159.8 3612.0,160.7 3612.5,159.3 3613.1,160.2 3613.6,160.7 3614.2,160.3 3614.8,160.0 3615.3,160.8 3615.9,159.6 3616.4,159.6 3617.0,160.0 3617.6,160.9 3618.1,160.3 3618.7,159.8 3619.2,160.1 3619.8,160.2 3620.3,159.4 3620.9,158.9 3621.5,159.4 3622.0,159.3 3622.6,159.6 3623.1,159.4 3623.7,159.4 3624.3,160.1 3624.8,159.9 3625.4,159.7 3625.9,161.1 3626.5,159.5 3627.1,159.5 3627.6,160.7 3628.2,159.3 3628.7,159.1 3629.3,160.7 3629.8,159.9 3630.4,160.1 3631.0,160.1 3631.5,160.3 3632.1,159.4 3632.6,159.5 3633.2,159.1 3633.8,159.6 3634.3,159.7 3634.9,159.3 3635.4,160.0 3636.0,161.8 3636.6,159.1 3637.1,160.1 3637.7,160.2 3638.2,160.3 3638.8,159.1 3639.4,160.3 3639.9,159.9 3640.5,159.3 3641.0,159.2 3641.6,159.5 3642.1,160.7 3642.7,160.0 3643.3,161.1 3643.8,159.1 3644.4,159.8 3644.9,159.1 3645.5,159.9 3646.1,159.3 3646.6,159.0 3647.2,158.7 3647.7,158.9 3648.3,159.4 3648.9,160.3 3649.4,159.7 3650.0,158.7 3650.5,158.9 3651.1,159.1 3651.6,159.0 3652.2,159.1 3652.8,159.6 3653.3,159.1 3653.9,158.7 3654.4,158.3 3655.0,158.8 3655.6,158.4 3656.1,158.8 3656.7,159.1 3657.2,158.4 3657.8,158.7 3658.4,158.7 3658.9,160.2 3659.5,159.1 3660.0,158.2 3660.6,159.2 3661.1,159.0 3661.7,158.6 3662.3,158.5 3662.8,159.0 3663.4,159.1 3663.9,158.9 3664.5,158.3 3665.1,158.5 3665.6,158.1 3666.2,158.1 3666.7,158.3 3667.3,158.2 3667.9,158.3 3668.4,160.2 3669.0,158.7 3669.5,158.2 3670.1,157.8 3670.6,158.1 3671.2,158.0 3671.8,157.7 3672.3,158.8 3672.9,158.2 3673.4,158.5 3674.0,160.5 3674.6,158.4 3675.1,158.3 3675.7,158.4 3676.2,158.1 3676.8,158.0 3677.4,158.1 3677.9,158.9 3678.5,158.1 3679.0,157.7 3679.6,157.8 3680.1,157.8 3680.7,158.1 3681.3,158.3 3681.8,158.3 3682.4,158.8 3682.9,158.0 3683.5,158.5 3684.1,158.2 3684.6,158.4 3685.2,157.5 3685.7,158.8 3686.3,157.5 3686.9,157.6 3687.4,158.4 3688.0,157.8 3688.5,159.1 3689.1,157.9 3689.7,157.6 3690.2,157.9 3690.8,157.7 3691.3,158.9 3691.9,158.9 3692.4,158.3 3693.0,157.6 3693.6,157.8 3694.1,158.4 3694.7,157.5 3695.2,157.5 3695.8,158.3 3696.4,158.2 3696.9,157.6 3697.5,157.6 3698.0,157.2 3698.6,158.4 3699.2,157.6 3699.7,157.3 3700.3,157.3 3700.8,157.4 3701.4,158.8 3701.9,158.1 3702.5,157.3 3703.1,158.8 3703.6,158.5 3704.2,157.3 3704.7,156.9 3705.3,158.2 3705.9,157.4 3706.4,157.5 3707.0,157.4 3707.5,158.4 3708.1,158.5 3708.7,158.0 3709.2,157.5 3709.8,157.7 3710.3,157.9 3710.9,157.1 3711.4,158.3 3712.0,157.4 3712.6,157.6 3713.1,157.5 3713.7,158.0 3714.2,158.1 3714.8,158.9 3715.4,157.3 3715.9,157.2 3716.5,157.5 3717.0,157.2 3717.6,157.9 3718.2,157.2 3718.7,157.5 3719.3,158.0 3719.8,158.0 3720.4,157.5 3720.9,158.2 3721.5,158.2 3722.1,156.9 3722.6,157.6 3723.2,157.4 3723.7,157.2 3724.3,157.1 3724.9,157.3 3725.4,157.5 3726.0,157.5 3726.5,158.1 3727.1,157.9 3727.7,157.1 3728.2,157.1 3728.8,157.8 3729.3,157.1 3729.9,157.3 3730.5,157.5 3731.0,157.9 3731.6,157.8 3732.1,158.1 3732.7,157.1 3733.2,157.6 3733.8,157.0 3734.4,157.3 3734.9,157.2 3735.5,156.9 3736.0,156.5 3736.6,157.7 3737.2,157.3 3737.7,157.2 3738.3,156.9 3738.8,157.0 3739.4,157.4 3740.0,157.1 3740.5,157.8 3741.1,157.1 3741.6,156.9 3742.2,157.4 3742.7,156.9 3743.3,157.2 3743.9,156.6 3744.4,156.9 3745.0,157.3 3745.5,156.8 3746.1,157.0 3746.7,157.3 3747.2,157.0 3747.8,158.0 3748.3,156.9 3748.9,156.9 3749.5,156.9 3750.0,156.5 3750.6,156.6 3751.1,157.3 3751.7,156.9 3752.2,157.8 3752.8,156.9 3753.4,156.9 3753.9,157.5 3754.5,157.1 3755.0,157.9 3755.6,156.7 3756.2,157.2 3756.7,157.3 3757.3,157.2 3757.8,157.6 3758.4,157.5 3759.0,156.9 3759.5,156.8 3760.1,157.9 3760.6,156.9 3761.2,157.5 3761.7,157.7 3762.3,157.0 3762.9,156.7 3763.4,156.8 3764.0,157.3 3764.5,156.8 3765.1,157.6 3765.7,156.9 3766.2,157.0 3766.8,156.7 3767.3,156.8 3767.9,157.5 3768.5,156.8 3769.0,156.8 3769.6,156.7 3770.1,157.3 3770.7,156.5 3771.3,156.7 3771.8,157.4 3772.4,157.6 3772.9,156.8 3773.5,157.4 3774.0,156.4 3774.6,157.2 3775.2,157.0 3775.7,156.5 3776.3,156.4 3776.8,156.7 3777.4,157.1 3778.0,157.0 3778.5,156.8 3779.1,157.2 3779.6,157.2 3780.2,156.4 3780.8,156.7 3781.3,156.6 3781.9,157.8 3782.4,156.6 3783.0,157.3 3783.5,156.8 3784.1,158.1 3784.7,156.7 3785.2,156.7 3785.8,156.7 3786.3,156.8 3786.9,158.1 3787.5,156.6 3788.0,156.5 3788.6,156.6 3789.1,157.1 3789.7,156.5 3790.3,157.5 3790.8,157.1 3791.4,156.6 3791.9,156.6 3792.5,156.5 3793.0,156.6 3793.6,156.5 3794.2,157.4 3794.7,157.6 3795.3,156.6 3795.8,156.6 3796.4,156.2 3797.0,156.5 3797.5,156.8 3798.1,156.8 3798.6,156.8 3799.2,157.1 3799.8,156.7 3800.3,156.5 3800.9,157.5 3801.4,156.2 3802.0,156.3 3802.5,156.4 3803.1,156.4 3803.7,156.4 3804.2,156.5 3804.8,156.4 3805.3,156.6 3805.9,156.9 3806.5,156.6 3807.0,156.6 3807.6,156.4 3808.1,156.3 3808.7,156.5 3809.3,157.1 3809.8,156.8 3810.4,157.2 3810.9,157.1 3811.5,157.2 3812.1,156.4 3812.6,157.2 3813.2,157.0 3813.7,157.7 3814.3,156.9 3814.8,156.7 3815.4,156.5 3816.0,156.6 3816.5,156.2 3817.1,156.5 3817.6,156.5 3818.2,157.1 3818.8,156.4 3819.3,156.7 3819.9,157.5 3820.4,156.4 3821.0,157.0 3821.6,156.4 3822.1,156.5 3822.7,156.8 3823.2,157.0 3823.8,156.4 3824.3,156.3 3824.9,158.0 3825.5,156.7 3826.0,156.9 3826.6,157.0 3827.1,156.9 3827.7,156.4 3828.3,156.5 3828.8,156.2 3829.4,156.6 3829.9,156.4 3830.5,156.5 3831.1,157.5 3831.6,157.1 3832.2,156.5 3832.7,156.2 3833.3,156.9 3833.8,157.3 3834.4,156.3 3835.0,156.7 3835.5,156.4 3836.1,156.4 3836.6,156.4 3837.2,156.1 3837.8,156.4 3838.3,156.1 3838.9,157.2 3839.4,157.0 3840.0,156.5 3840.6,156.6 3841.1,156.5 3841.7,156.6 3842.2,156.6 3842.8,156.4 3843.3,156.4 3843.9,156.2 3844.5,156.2 3845.0,156.3 3845.6,156.6 3846.1,156.4 3846.7,157.5 3847.3,156.4 3847.8,156.4 3848.4,156.7 3848.9,157.0 3849.5,157.4 3850.1,157.0 3850.6,156.3 3851.2,156.4 3851.7,157.0 3852.3,156.6 3852.8,156.9 3853.4,156.4 3854.0,157.9 3854.5,157.2 3855.1,157.0 3855.6,156.5 3856.2,156.1 3856.8,156.1 3857.3,156.6 3857.9,156.8 3858.4,155.8 3859.0,156.3 3859.6,157.0 3860.1,156.9 3860.7,156.3 3861.2,156.7 3861.8,156.4 3862.4,156.3 3862.9,157.0 3863.5,157.0 3864.0,156.3 3864.6,156.2 3865.1,156.1 3865.7,156.1 3866.3,157.1 3866.8,157.4 3867.4,156.5 3867.9,156.9 3868.5,156.2 3869.1,156.3 3869.6,156.9 3870.2,156.5 3870.7,156.4 3871.3,156.0 3871.9,156.1 3872.4,156.3 3873.0,156.2 3873.5,156.3 3874.1,156.2 3874.6,156.3 3875.2,156.4 3875.8,156.6 3876.3,156.4 3876.9,156.2 3877.4,156.3 3878.0,156.8 3878.6,156.3 3879.1,156.1 3879.7,156.1 3880.2,156.5 3880.8,156.6 3881.4,157.0 3881.9,156.3 3882.5,157.1 3883.0,156.2 3883.6,156.3 3884.1,156.2 3884.7,156.6 3885.3,156.9 3885.8,156.3 3886.4,156.2 3886.9,156.0 3887.5,156.4 3888.1,156.2 3888.6,156.3 3889.2,156.2 3889.7,156.1 3890.3,156.2 3890.9,156.5 3891.4,156.8 3892.0,156.3 3892.5,156.5 3893.1,156.2 3893.6,156.2 3894.2,156.0 3894.8,156.7 3895.3,156.6 3895.9,157.0 3896.4,156.1 3897.0,156.3 3897.6,156.1 3898.1,156.4 3898.7,156.2 3899.2,156.6 3899.8,156.2 3900.4,156.6 3900.9,156.1 3901.5,156.6 3902.0,156.2 3902.6,156.1 3903.2,156.3 3903.7,156.6 3904.3,155.9 3904.8,155.9 3905.4,156.3 3905.9,156.2 3906.5,155.8 3907.1,155.9 3907.6,156.1 3908.2,156.4 3908.7,156.3 3909.3,156.7 3909.9,156.8 3910.4,157.4 3911.0,155.9 3911.5,156.2 3912.1,156.8 3912.7,155.9 3913.2,155.9 3913.8,156.3 3914.3,156.8 3914.9,156.8 3915.4,155.8 3916.0,155.9 3916.6,156.2 3917.1,156.1 3917.7,156.5 3918.2,156.2 3918.8,157.1 3919.4,156.2 3919.9,156.3 3920.5,156.2 3921.0,156.7 3921.6,155.9 3922.2,156.5 3922.7,156.0 3923.3,155.9 3923.8,156.8 3924.4,156.4 3924.9,156.9 3925.5,156.3 3926.1,156.5 3926.6,156.3 3927.2,156.4 3927.7,156.1 3928.3,157.0 3928.9,156.0 3929.4,157.0 3930.0,156.1 3930.5,156.6 3931.1,156.2 3931.7,156.4 3932.2,156.9 3932.8,156.2 3933.3,155.9 3933.9,156.3 3934.4,156.5 3935.0,155.6 3935.6,156.6 3936.1,156.7 3936.7,155.7 3937.2,156.1 3937.8,156.5 3938.4,155.9 3938.9,156.0 3939.5,156.0 3940.0,156.4 3940.6,156.7 3941.2,156.1 3941.7,156.1 3942.3,156.6 3942.8,156.4 3943.4,156.0 3944.0,156.8 3944.5,155.8 3945.1,156.2 3945.6,156.0 3946.2,156.0 3946.7,156.3 3947.3,156.1 3947.9,157.3 3948.4,156.4 3949.0,156.2 3949.5,156.9 3950.1,156.6 3950.7,155.7 3951.2,156.1 3951.8,156.4 3952.3,155.9 3952.9,156.2 3953.5,155.9 3954.0,156.2 3954.6,155.7 3955.1,155.6 3955.7,155.9 3956.2,156.1 3956.8,156.7 3957.4,156.0 3957.9,155.9 3958.5,156.5 3959.0,156.0 3959.6,156.9 3960.2,156.0 3960.7,155.6 3961.3,155.8 3961.8,155.8 3962.4,155.7 3963.0,155.8 3963.5,155.8 3964.1,155.9 3964.6,155.9 3965.2,156.2 3965.7,156.2 3966.3,156.1 3966.9,156.1 3967.4,155.6 3968.0,155.6 3968.5,155.8 3969.1,156.1 3969.7,155.7 3970.2,155.9 3970.8,156.1 3971.3,157.0 3971.9,156.1 3972.5,155.8 3973.0,156.5 3973.6,156.1 3974.1,155.9 3974.7,156.5 3975.2,155.8 3975.8,156.0 3976.4,156.0 3976.9,156.4 3977.5,155.7 3978.0,155.7 3978.6,155.8 3979.2,155.9 3979.7,155.9 3980.3,155.8 3980.8,156.3 3981.4,156.3 3982.0,156.0 3982.5,155.7 3983.1,156.5 3983.6,155.6 3984.2,155.8 3984.8,156.3 3985.3,155.8 3985.9,156.5 3986.4,156.9 3987.0,156.7 3987.5,156.1 3988.1,156.4 3988.7,155.8 3989.2,156.1 3989.8,156.1 3990.3,155.9 3990.9,155.9 3991.5,155.8 3992.0,155.5 3992.6,156.1 3993.1,156.0 3993.7,156.9 3994.3,156.2 3994.8,155.9 3995.4,156.3 3995.9,156.2 3996.5,155.8 3997.0,155.8 3997.6,155.5 3998.2,155.9 3998.7,156.7 3999.3,155.5 3999.8,155.6 4000.4,156.2 4001.0,155.9 4001.5,156.0 4002.1,155.5 4002.6,155.7 4003.2,156.1 4003.8,156.1 4004.3,156.0 4004.9,155.6 4005.4,156.1 4006.0,155.6 4006.5,155.6 4007.1,155.6 4007.7,156.5 4008.2,155.7 4008.8,155.8 4009.3,155.4 4009.9,156.3 4010.5,156.0 4011.0,155.5 4011.6,155.5 4012.1,156.6 4012.7,155.6 4013.3,156.7 4013.8,155.7 4014.4,155.3 4014.9,156.3 4015.5,156.0 4016.0,156.1 4016.6,155.7 4017.2,155.7 4017.7,156.2 4018.3,155.6 4018.8,155.4 4019.4,156.2 4020.0,155.6 4020.5,156.4 4021.1,155.6 4021.6,155.7 4022.2,155.7 4022.8,155.3 4023.3,156.3 4023.9,155.6 4024.4,155.7 4025.0,156.5 4025.5,155.8 4026.1,156.2 4026.7,155.9 4027.2,156.1 4027.8,155.8 4028.3,156.3 4028.9,155.7 4029.5,155.9 4030.0,155.6 4030.6,156.3 4031.1,155.3 4031.7,155.8 4032.3,155.9 4032.8,155.9 4033.4,155.7 4033.9,156.3 4034.5,156.7 4035.1,155.6 4035.6,155.3 4036.2,155.5 4036.7,155.5 4037.3,155.6 4037.8,155.6 4038.4,156.2 4039.0,155.6 4039.5,155.6 4040.1,155.7 4040.6,155.5 4041.2,155.6 4041.8,157.0 4042.3,155.6 4042.9,155.4 4043.4,155.2 4044.0,156.1 4044.6,155.6 4045.1,155.5 4045.7,156.8 4046.2,156.3 4046.8,155.3 4047.3,155.5 4047.9,156.1 4048.5,156.0 4049.0,155.4 4049.6,156.5 4050.1,156.5 4050.7,155.4 4051.3,155.3 4051.8,155.3 4052.4,155.9 4052.9,156.1 4053.5,155.7 4054.1,155.5 4054.6,155.6 4055.2,155.8 4055.7,155.3 4056.3,155.2 4056.8,155.5 4057.4,156.2 4058.0,155.6 4058.5,155.6 4059.1,155.4 4059.6,156.0 4060.2,155.2 4060.8,155.5 4061.3,155.4 4061.9,155.5 4062.4,155.4 4063.0,155.9 4063.6,155.5 4064.1,155.4 4064.7,155.8 4065.2,155.5 4065.8,155.4 4066.3,155.4 4066.9,155.9 4067.5,155.3 4068.0,155.5 4068.6,155.5 4069.1,155.6 4069.7,155.5 4070.3,156.6 4070.8,155.2 4071.4,155.8 4071.9,155.5 4072.5,156.0 4073.1,155.2 4073.6,156.1 4074.2,155.2 4074.7,155.8 4075.3,155.7 4075.9,155.5 4076.4,155.3 4077.0,155.3 4077.5,155.5 4078.1,155.3 4078.6,155.1 4079.2,155.1 4079.8,155.8 4080.3,155.8 4080.9,155.7 4081.4,155.5 4082.0,155.6 4082.6,155.7 4083.1,155.5 4083.7,155.3 4084.2,155.3 4084.8,155.2 4085.4,155.5 4085.9,155.2 4086.5,155.4 4087.0,156.1 4087.6,155.3 4088.1,155.9 4088.7,156.2 4089.3,155.1 4089.8,155.1 4090.4,155.6 4090.9,155.3 4091.5,155.7 4092.1,155.7 4092.6,155.3 4093.2,155.8 4093.7,156.2 4094.3,155.8 4094.9,155.2 4095.4,155.4 4096.0,155.3 4096.5,156.1 4097.1,155.3 4097.6,155.2 4098.2,155.4 4098.8,155.6 4099.3,155.3 4099.9,155.4 4100.4,155.4 4101.0,155.7 4101.6,155.8 4102.1,155.5 4102.7,155.3 4103.2,155.5 4103.8,155.2 4104.4,155.9 4104.9,155.5 4105.5,155.5 4106.0,154.9 4106.6,156.5 4107.1,156.0 4107.7,155.9 4108.3,155.4 4108.8,155.7 4109.4,156.7 4109.9,155.2 4110.5,155.7 4111.1,155.6 4111.6,155.4 4112.2,155.5 4112.7,155.1 4113.3,155.6 4113.9,155.1 4114.4,156.2 4115.0,155.7 4115.5,155.1 4116.1,154.9 4116.7,155.4 4117.2,155.5 4117.8,155.1 4118.3,156.1 4118.9,155.4 4119.4,155.2 4120.0,155.0 4120.6,155.2 4121.1,155.2 4121.7,155.6 4122.2,155.8 4122.8,155.3 4123.4,155.5 4123.9,156.0 4124.5,155.6 4125.0,155.2 4125.6,155.6 4126.2,155.1 4126.7,155.7 4127.3,155.3 4127.8,155.0 4128.4,155.5 4128.9,155.3 4129.5,155.6 4130.1,155.0 4130.6,155.8 4131.2,155.8 4131.7,155.2 4132.3,155.2 4132.9,155.3 4133.4,155.2 4134.0,155.6 4134.5,155.1 4135.1,155.0 4135.7,155.2 4136.2,156.1 4136.8,155.1 4137.3,155.0 4137.9,155.0 4138.4,155.4 4139.0,155.8 4139.6,155.0 4140.1,155.3 4140.7,155.3 4141.2,155.4 4141.8,155.2 4142.4,155.7 4142.9,155.5 4143.5,155.0 4144.0,156.3 4144.6,154.9 4145.2,154.9 4145.7,155.6 4146.3,155.2 4146.8,155.1 4147.4,155.2 4147.9,155.5 4148.5,155.1 4149.1,155.0 4149.6,154.9 4150.2,155.0 4150.7,155.0 4151.3,155.7 4151.9,155.3 4152.4,155.4 4153.0,155.0 4153.5,155.6 4154.1,154.8 4154.7,155.3 4155.2,155.7 4155.8,155.0 4156.3,154.9 4156.9,155.3 4157.5,155.0 4158.0,154.9 4158.6,155.1 4159.1,154.9 4159.7,155.0 4160.2,156.0 4160.8,155.0 4161.4,155.5 4161.9,154.9 4162.5,155.1 4163.0,155.0 4163.6,155.0 4164.2,155.4 4164.7,156.1 4165.3,155.0 4165.8,155.7 4166.4,155.2 4167.0,155.4 4167.5,155.0 4168.1,154.9 4168.6,155.0 4169.2,154.9 4169.7,155.0 4170.3,154.8 4170.9,155.0 4171.4,155.1 4172.0,155.9 4172.5,155.8 4173.1,155.3 4173.7,154.9 4174.2,155.3 4174.8,155.4 4175.3,155.0 4175.9,154.9 4176.5,154.7 4177.0,155.0 4177.6,155.9 4178.1,155.0 4178.7,155.2 4179.2,155.2 4179.8,155.2 4180.4,155.4 4180.9,154.6 4181.5,155.0 4182.0,155.3 4182.6,155.0 4183.2,155.6 4183.7,154.9 4184.3,155.7 4184.8,155.8 4185.4,154.9 4186.0,155.0 4186.5,154.9 4187.1,155.3 4187.6,154.6 4188.2,154.7 4188.7,154.9 4189.3,155.4 4189.9,155.2 4190.4,154.8 4191.0,155.7 4191.5,155.0 4192.1,154.8 4192.7,155.2 4193.2,155.6 4193.8,154.9 4194.3,154.7 4194.9,154.8 4195.5,155.0 4196.0,155.7 4196.6,154.8 4197.1,155.1 4197.7,154.7 4198.3,155.0 4198.8,154.7 4199.4,154.9 4199.9,154.7 4200.5,154.8 4201.0,154.6 4201.6,154.6 4202.2,155.5 4202.7,155.5 4203.3,155.2 4203.8,154.9 4204.4,155.6 4205.0,154.9 4205.5,155.1 4206.1,155.4 4206.6,155.0 4207.2,155.6 4207.8,154.9 4208.3,154.9 4208.9,155.0 4209.4,154.7 4210.0,154.7 4210.5,155.3 4211.1,154.6 4211.7,155.4 4212.2,155.0 4212.8,155.5 4213.3,155.3 4213.9,155.2 4214.5,155.7 4215.0,154.9 4215.6,154.9 4216.1,155.4 4216.7,154.8 4217.3,155.4 4217.8,155.2 4218.4,154.8 4218.9,154.6 4219.5,154.5 4220.0,155.7 4220.6,154.6 4221.2,154.7 4221.7,155.3 4222.3,155.1 4222.8,155.0 4223.4,154.9 4224.0,154.8 4224.5,154.7 4225.1,154.7 4225.6,155.1 4226.2,155.3 4226.8,155.4 4227.3,154.8 4227.9,154.4 4228.4,155.1 4229.0,154.8 4229.5,154.4 4230.1,155.5 4230.7,154.9 4231.2,154.8 4231.8,154.9 4232.3,154.9 4232.9,154.9 4233.5,154.9 4234.0,154.8 4234.6,155.1 4235.1,155.0 4235.7,155.9 4236.3,154.9 4236.8,154.7 4237.4,154.7 4237.9,155.0 4238.5,154.9 4239.0,155.0 4239.6,154.8 4240.2,154.8 4240.7,155.2 4241.3,155.4 4241.8,155.0 4242.4,154.8 4243.0,154.6 4243.5,154.6 4244.1,154.8 4244.6,154.7 4245.2,154.8 4245.8,154.6 4246.3,154.8 4246.9,154.4 4247.4,154.6 4248.0,154.6 4248.6,155.0 4249.1,154.7 4249.7,154.6 4250.2,154.9 4250.8,154.7 4251.3,155.2 4251.9,154.9 4252.5,154.8 4253.0,154.7 4253.6,155.0 4254.1,154.6 4254.7,154.5 4255.3,155.1 4255.8,154.7 4256.4,154.8 4256.9,155.0 4257.5,155.2 4258.1,154.2 4258.6,154.5 4259.2,155.3 4259.7,154.4 4260.3,154.9 4260.8,154.7 4261.4,154.6 4262.0,154.7 4262.5,154.4 4263.1,155.0 4263.6,155.2 4264.2,154.5 4264.8,154.6 4265.3,155.2 4265.9,154.9 4266.4,154.6 4267.0,155.3 4267.6,154.4 4268.1,154.6 4268.7,154.7 4269.2,154.6 4269.8,155.0 4270.3,154.4 4270.9,154.7 4271.5,154.5 4272.0,155.2 4272.6,155.1 4273.1,154.5 4273.7,154.5 4274.3,154.7 4274.8,154.5 4275.4,154.6 4275.9,154.8 4276.5,154.6 4277.1,155.5 4277.6,154.7 4278.2,154.6 4278.7,154.5 4279.3,154.6 4279.8,155.1 4280.4,154.9 4281.0,155.3 4281.5,155.2 4282.1,154.9 4282.6,154.5 4283.2,154.6 4283.8,154.7 4284.3,154.4 4284.9,154.8 4285.4,154.5 4286.0,154.6 4286.6,154.5 4287.1,154.9 4287.7,155.8 4288.2,154.4 4288.8,154.6 4289.4,155.5 4289.9,154.5 4290.5,154.6 4291.0,154.6 4291.6,154.7 4292.1,154.3 4292.7,154.7 4293.3,154.9 4293.8,155.7 4294.4,154.6 4294.9,154.5 4295.5,154.7 4296.1,154.2 4296.6,154.7 4297.2,155.3 4297.7,154.6 4298.3,154.6 4298.9,154.5 4299.4,154.6 4300.0,154.4 4300.5,155.3 4301.1,154.5 4301.6,154.5 4302.2,155.3 4302.8,154.6 4303.3,154.5 4303.9,155.3 4304.4,154.6" fill="none" stroke="#F18F01" stroke-opacity="0.8" stroke-width="10.42" stroke-linejoin="round" stroke-linecap="round"/>
<path d="M188.0 110.0V1095.0H1417.00" stroke="#cccccc" stroke-width="4" fill="none" stroke-linecap="square" stroke-linejoin="miter"/>
<g font-size="41.67" text-anchor="middle">
<text x="244.02" y="1141.1">0</text>
<text x="383.75" y="1141.1">250</text>
<text x="523.47" y="1141.1">500</text>
<text x="663.19" y="1141.1">750</text>
<text x="802.92" y="1141.1">1000</text>
<text x="942.64" y="1141.1">1250</text>
<text x="1082.37" y="1141.1">1500</text>
<text x="1222.10" y="1141.1">1750</text>
<text x="1361.82" y="1141.1">2000</text>
</g>
<g font-size="41.67" text-anchor="end">
<text x="173.40" y="176.30">10<tspan font-size="29.17" dy="-15.8">0</tspan></text>
<text x="173.40" y="693.30">10<tspan font-size="29.17" dy="-15.8">−1</tspan></text>
</g>
<text x="802.50" y="1202.6" font-size="50" text-anchor="middle">Epoch</text>
<path d="M1659.0 110.0V1095.0H2888.00" stroke="#cccccc" stroke-width="4" fill="none" stroke-linecap="square" stroke-linejoin="miter"/>
<g font-size="41.67" text-anchor="middle">
<text x="1715.50" y="1141.1">0</text>
<text x="1855.22" y="1141.1">250</text>
<text x="1994.95" y="1141.1">500</text>
<text x="2134.68" y="1141.1">750</text>
<text x="2274.40" y="1141.1">1000</text>
<text x="2414.12" y="1141.1">1250</text>
<text x="2553.85" y="1141.1">1500</text>
<text x="2693.57" y="1141.1">1750</text>
<text x="2833.30" y="1141.1">2000</text>
</g>
<g font-size="41.67" text-anchor="end">
<text x="1644.40" y="207.90">40</text>
<text x="1644.40" y="323.16">35</text>
<text x="1644.40" y="438.42">30</text>
<text x="1644.40" y="553.68">25</text>
<text x="1644.40" y="668.94">20</text>
<text x="1644.40" y="784.20">15</text>
<text x="1644.40" y="899.46">10</text>
<text x="1644.40" y="1014.72">5</text>
</g>
<text x="2273.50" y="1202.6" font-size="50" text-anchor="middle">Epoch</text>
<path d="M3131.0 110.0V1095.0H4360.00" stroke="#cccccc" stroke-width="4" fill="none" stroke-linecap="square" stroke-linejoin="miter"/>
<g font-size="41.67" text-anchor="middle">
<text x="3187.20" y="1141.1">0</text>
<text x="3326.92" y="1141.1">250</text>
<text x="3466.65" y="1141.1">500</text>
<text x="3606.38" y="1141.1">750</text>
<text x="3746.10" y="1141.1">1000</text>
<text x="3885.82" y="1141.1">1250</text>
<text x="4025.55" y="1141.1">1500</text>
<text x="4165.27" y="1141.1">1750</text>
<text x="4305.00" y="1141.1">2000</text>
</g>
<g font-size="41.67" text-anchor="end">
<text x="3116.40" y="160.20">1.0</text>
<text x="3116.40" y="281.02">0.5</text>
<text x="3116.40" y="401.85">0.0</text>
<text x="3116.40" y="522.68">−0.5</text>
<text x="3116.40" y="643.50">−1.0</text>
<text x="3116.40" y="764.32">−1.5</text>
<text x="3116.40" y="885.15">−2.0</text>
<text x="3116.40" y="1005.98">−2.5</text>
</g>
<text x="3745.50" y="1202.6" font-size="50" text-anchor="middle">Epoch</text>
<text x="802.50" y="69" font-size="54.17" font-weight="bold" text-anchor="middle">Training and Validation Loss</text>
<text x="2273.50" y="69" font-size="54.17" font-weight="bold" text-anchor="middle">Mean Absolute Error</text>
<text x="3745.50" y="69" font-size="54.17" font-weight="bold" text-anchor="middle">Validation R² Score</text>
<text transform="translate(65.4 603.3) rotate(-90)" font-size="50" text-anchor="middle">Loss (MSE)</text>
<text transform="translate(1571.1 603.3) rotate(-90)" font-size="50" text-anchor="middle">MAE (kcal/mol/Å)</text>
<text transform="translate(3005.8 603.3) rotate(-90)" font-size="50" text-anchor="middle">R² Score</text>
<rect x="1038.83" y="141.23" width="363.6" height="147.9" rx="9" ry="9" fill="#4d4d4d" fill-opacity="0.5" stroke="#4d4d4d" stroke-opacity="0.5" stroke-width="4.17"/>
<rect x="1030.50" y="132.90" width="363.6" height="147.9" rx="9" ry="9" fill="#ffffff" stroke="#cccccc" stroke-width="3.6"/>
<path d="M1048.80 170.00h91.7" stroke="#2E86AB" stroke-opacity="0.8" stroke-width="8.4" stroke-linecap="round" fill="none"/>
<text x="1177.00" y="186.20" font-size="45.83">Train</text>
<path d="M1048.80 235.80h91.7" stroke="#A23B72" stroke-opacity="0.8" stroke-width="8.4" stroke-linecap="round" fill="none"/>
<text x="1177.00" y="252.00" font-size="45.83">Validation</text>
<rect x="2509.83" y="141.23" width="363.6" height="147.9" rx="9" ry="9" fill="#4d4d4d" fill-opacity="0.5" stroke="#4d4d4d" stroke-opacity="0.5" stroke-width="4.17"/>
<rect x="2501.50" y="132.90" width="363.6" height="147.9" rx="9" ry="9" fill="#ffffff" stroke="#cccccc" stroke-width="3.6"/>
<path d="M2519.80 170.00h91.7" stroke="#2E86AB" stroke-opacity="0.8" stroke-width="8.4" stroke-linecap="round" fill="none"/>
<text x="2648.00" y="186.20" font-size="45.83">Train</text>
<path d="M2519.80 235.80h91.7" stroke="#A23B72" stroke-opacity="0.8" stroke-width="8.4" stroke-linecap="round" fill="none"/>
<text x="2648.00" y="252.00" font-size="45.83">Validation</text>
<rect x="3981.83" y="998.93" width="363.6" height="81.5" rx="9" ry="9" fill="#4d4d4d" fill-opacity="0.5" stroke="#4d4d4d" stroke-opacity="0.5" stroke-width="4.17"/>
<rect x="3973.50" y="990.60" width="363.6" height="81.5" rx="9" ry="9" fill="#ffffff" stroke="#cccccc" stroke-width="3.6"/>
<path d="M3991.80 1027.70h91.7" stroke="#F18F01" stroke-opacity="0.8" stroke-width="8.4" stroke-linecap="round" fill="none"/>
<text x="4120.00" y="1043.90" font-size="45.83">Validation</text>
</svg>
</body></html>
